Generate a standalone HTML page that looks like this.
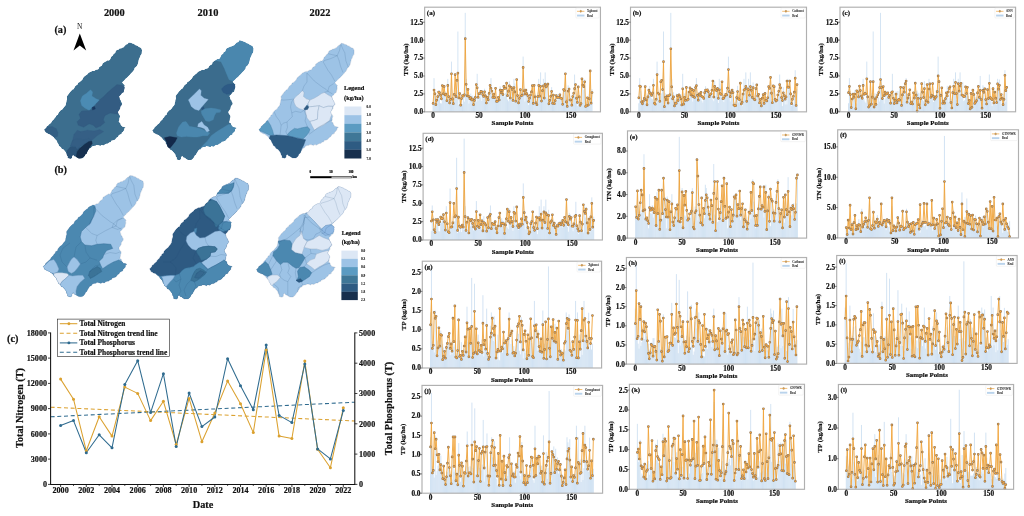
<!DOCTYPE html>
<html lang="en"><head><meta charset="utf-8"><title>Figure</title><style>
html,body{margin:0;padding:0;background:#fff}
svg{display:block}
text{font-family:"Liberation Serif",serif;font-weight:bold;fill:#111;stroke:#111;stroke-width:0.2px;stroke-linejoin:round}
.pt{font-size:7.3px}
.pl{font-size:6.9px}
.pn{font-size:7px}
.lg{font-size:3px;stroke-width:0.05px;fill:#333}
.ct{font-size:8.1px}
.cl{font-size:10.3px}
.cg{font-size:7.4px}
.ml{font-size:10.3px}
.yr{font-size:10.4px}
.lt{font-size:6.4px}
.lt2{font-size:5.9px}
.ll{font-size:3.4px;stroke-width:0.08px}
</style></head><body>
<svg width="1024" height="516" viewBox="0 0 1024 516">
<rect width="1024" height="516" fill="#fff"/>
<text x="114.3" y="15.6" text-anchor="middle" class="yr">2000</text>
<text x="208" y="15.6" text-anchor="middle" class="yr">2010</text>
<text x="320" y="15.6" text-anchor="middle" class="yr">2022</text>
<text x="54.4" y="32.6" class="ml">(a)</text>
<text x="54.4" y="173" class="ml">(b)</text>
<text x="79.7" y="29.1" text-anchor="middle" style="font-size:7.4px;font-weight:normal;stroke-width:0">N</text>
<polygon points="79.8,33.6 86.2,50.6 79.8,45.6 73.5,50.6" fill="#000"/>
<clipPath id="cp_a2000"><polygon points="128.6,42.5 131.0,42.8 132.5,43.6 133.7,43.8 135.7,45.2 137.0,45.5 138.7,46.8 139.2,47.1 141.2,47.9 142.0,50.0 141.9,52.0 141.7,53.9 140.5,55.5 140.3,56.6 139.2,58.7 138.8,59.8 138.5,61.5 137.8,64.2 137.0,65.7 136.0,67.0 134.6,68.0 134.4,69.6 132.9,71.5 132.0,72.5 131.2,73.3 129.7,75.0 128.7,76.0 127.0,77.8 125.7,78.7 124.2,80.4 122.6,81.9 122.2,82.5 123.5,84.0 124.9,85.2 124.4,86.3 124.6,88.0 124.0,90.6 123.6,92.2 122.0,93.0 120.8,94.7 120.2,95.3 119.0,96.5 119.6,98.0 119.8,99.6 120.8,100.4 121.5,102.3 122.1,102.9 122.1,104.5 121.3,105.5 120.3,106.7 120.1,108.6 119.2,110.1 118.1,111.5 118.0,112.6 118.5,113.7 119.8,115.3 120.1,116.7 119.4,118.5 119.4,119.8 118.7,122.1 120.2,122.7 120.8,124.8 121.4,125.5 122.3,126.5 124.2,127.0 125.8,127.6 124.4,128.4 124.2,130.3 122.8,131.9 121.8,132.7 121.6,133.9 120.1,134.4 118.9,135.2 118.1,136.7 116.6,137.7 116.0,138.4 115.0,139.7 112.7,140.6 111.4,140.7 110.7,142.2 109.2,142.5 107.7,143.8 106.6,143.8 104.9,144.4 103.8,145.5 101.5,145.0 100.4,145.9 98.4,145.2 96.4,144.9 95.8,145.7 93.6,145.9 92.1,146.5 91.0,148.1 89.5,148.6 88.5,150.1 87.2,152.3 86.8,153.4 85.1,154.8 84.9,155.8 83.4,157.7 82.1,158.5 80.4,158.6 78.7,158.5 76.9,157.6 76.0,156.8 74.2,156.2 73.3,154.7 72.1,156.0 72.0,157.9 70.5,158.8 67.8,158.1 67.9,156.5 66.9,155.2 66.5,153.4 65.3,151.8 64.1,150.2 63.1,149.3 61.6,148.8 60.9,147.2 59.0,145.9 58.3,144.1 57.2,142.5 57.0,141.2 56.2,140.3 54.6,138.8 53.6,137.1 52.8,136.4 51.5,135.6 50.2,134.4 48.4,133.9 46.7,133.0 45.4,132.3 45.1,131.2 44.1,129.6 44.9,129.1 46.3,127.6 46.5,126.6 48.1,125.5 48.8,124.6 50.0,123.7 51.2,122.6 51.8,121.4 52.9,120.1 54.0,119.3 54.4,118.2 55.9,116.8 56.3,115.4 57.9,114.7 58.4,113.0 59.0,112.2 60.4,110.6 62.1,109.4 63.0,108.5 64.2,106.7 65.1,105.9 65.8,104.6 66.0,103.1 66.3,102.1 66.5,100.4 67.1,98.9 66.8,96.4 67.8,95.0 68.8,93.7 70.0,92.0 70.8,91.3 72.4,89.6 73.4,89.2 74.4,87.7 74.9,86.4 76.3,85.3 77.5,84.5 78.2,82.8 79.7,82.1 80.8,81.1 82.0,80.0 82.7,79.1 83.5,77.3 84.9,76.1 86.3,75.0 87.1,74.6 88.6,72.8 90.1,72.1 91.2,71.5 92.4,70.9 94.0,70.9 95.8,69.8 97.4,69.6 98.5,68.9 99.3,67.1 100.6,66.3 102.0,65.4 102.5,63.5 103.9,62.6 105.5,61.5 105.8,61.5 107.6,60.3 108.9,60.6 110.0,59.4 110.7,58.0 111.4,56.4 113.1,55.2 113.4,54.0 115.1,53.1 115.8,51.0 116.8,49.9 118.7,49.4 119.4,48.6 121.5,48.3 122.0,47.7 123.6,47.2 124.4,46.2 126.0,44.6 127.7,44.1"/></clipPath>
<g clip-path="url(#cp_a2000)">
<polygon points="128.6,42.5 131.0,42.8 132.5,43.6 133.7,43.8 135.7,45.2 137.0,45.5 138.7,46.8 139.2,47.1 141.2,47.9 142.0,50.0 141.9,52.0 141.7,53.9 140.5,55.5 140.3,56.6 139.2,58.7 138.8,59.8 138.5,61.5 137.8,64.2 137.0,65.7 136.0,67.0 134.6,68.0 134.4,69.6 132.9,71.5 132.0,72.5 131.2,73.3 129.7,75.0 128.7,76.0 127.0,77.8 125.7,78.7 124.2,80.4 122.6,81.9 122.2,82.5 123.5,84.0 124.9,85.2 124.4,86.3 124.6,88.0 124.0,90.6 123.6,92.2 122.0,93.0 120.8,94.7 120.2,95.3 119.0,96.5 119.6,98.0 119.8,99.6 120.8,100.4 121.5,102.3 122.1,102.9 122.1,104.5 121.3,105.5 120.3,106.7 120.1,108.6 119.2,110.1 118.1,111.5 118.0,112.6 118.5,113.7 119.8,115.3 120.1,116.7 119.4,118.5 119.4,119.8 118.7,122.1 120.2,122.7 120.8,124.8 121.4,125.5 122.3,126.5 124.2,127.0 125.8,127.6 124.4,128.4 124.2,130.3 122.8,131.9 121.8,132.7 121.6,133.9 120.1,134.4 118.9,135.2 118.1,136.7 116.6,137.7 116.0,138.4 115.0,139.7 112.7,140.6 111.4,140.7 110.7,142.2 109.2,142.5 107.7,143.8 106.6,143.8 104.9,144.4 103.8,145.5 101.5,145.0 100.4,145.9 98.4,145.2 96.4,144.9 95.8,145.7 93.6,145.9 92.1,146.5 91.0,148.1 89.5,148.6 88.5,150.1 87.2,152.3 86.8,153.4 85.1,154.8 84.9,155.8 83.4,157.7 82.1,158.5 80.4,158.6 78.7,158.5 76.9,157.6 76.0,156.8 74.2,156.2 73.3,154.7 72.1,156.0 72.0,157.9 70.5,158.8 67.8,158.1 67.9,156.5 66.9,155.2 66.5,153.4 65.3,151.8 64.1,150.2 63.1,149.3 61.6,148.8 60.9,147.2 59.0,145.9 58.3,144.1 57.2,142.5 57.0,141.2 56.2,140.3 54.6,138.8 53.6,137.1 52.8,136.4 51.5,135.6 50.2,134.4 48.4,133.9 46.7,133.0 45.4,132.3 45.1,131.2 44.1,129.6 44.9,129.1 46.3,127.6 46.5,126.6 48.1,125.5 48.8,124.6 50.0,123.7 51.2,122.6 51.8,121.4 52.9,120.1 54.0,119.3 54.4,118.2 55.9,116.8 56.3,115.4 57.9,114.7 58.4,113.0 59.0,112.2 60.4,110.6 62.1,109.4 63.0,108.5 64.2,106.7 65.1,105.9 65.8,104.6 66.0,103.1 66.3,102.1 66.5,100.4 67.1,98.9 66.8,96.4 67.8,95.0 68.8,93.7 70.0,92.0 70.8,91.3 72.4,89.6 73.4,89.2 74.4,87.7 74.9,86.4 76.3,85.3 77.5,84.5 78.2,82.8 79.7,82.1 80.8,81.1 82.0,80.0 82.7,79.1 83.5,77.3 84.9,76.1 86.3,75.0 87.1,74.6 88.6,72.8 90.1,72.1 91.2,71.5 92.4,70.9 94.0,70.9 95.8,69.8 97.4,69.6 98.5,68.9 99.3,67.1 100.6,66.3 102.0,65.4 102.5,63.5 103.9,62.6 105.5,61.5 105.8,61.5 107.6,60.3 108.9,60.6 110.0,59.4 110.7,58.0 111.4,56.4 113.1,55.2 113.4,54.0 115.1,53.1 115.8,51.0 116.8,49.9 118.7,49.4 119.4,48.6 121.5,48.3 122.0,47.7 123.6,47.2 124.4,46.2 126.0,44.6 127.7,44.1" fill="#3c6e8e"/>
<polygon points="121.7,85.2 117.0,84.5 112.2,88.6 107.5,92.6 103.4,96.7 99.3,100.1 96.0,103.5 94.6,108.9 89.2,110.5 81.7,111.0 79.0,114.3 80.4,118.4 77.0,121.8 78.3,125.2 83.7,127.2 89.2,123.8 93.2,125.2 96.0,127.9 100.7,125.9 104.8,122.5 103.4,119.8 104.8,115.7 110.2,113.0 114.3,113.7 118.3,114.3 120.4,112.3 123.8,108.9 119.7,102.1 123.8,92.6 125.1,87.2" fill="#335c82" stroke="#335c82" stroke-width="0.3"/>
<polygon points="90.5,89.7 92.6,92.0 91.9,96.0 96.0,98.7 99.3,100.1 96.0,103.5 92.6,106.9 89.2,110.3 85.1,108.2 81.7,105.5 80.4,100.8 82.4,96.0 86.5,93.3" fill="#4b8bb3" stroke="#4b8bb3" stroke-width="0.3"/>
<polygon points="91.9,107.6 94.6,106.2 95.3,108.9 92.6,110.0" fill="#1a3860" stroke="#1a3860" stroke-width="0.3"/>
<polygon points="44.1,130.0 47.6,127.1 52.2,126.5 56.3,128.8 58.0,132.9 57.4,136.4 54.0,137.6 50.5,134.7 45.8,131.7" fill="#335f84" stroke="#335f84" stroke-width="0.3"/>
<polygon points="67.3,157.9 66.2,153.8 67.3,150.3 70.2,146.9 74.9,145.1 78.4,145.7 80.1,148.0 77.2,151.5 76.0,156.2 73.7,156.2 70.8,159.1" fill="#2c5479" stroke="#2c5479" stroke-width="0.3"/>
<polygon points="73.9,134.4 72.6,140.5 70.5,145.9 75.3,146.6 80.7,145.9 86.2,142.5 91.6,140.5 97.0,135.7 103.8,131.6 99.7,129.6 94.3,131.0 87.5,130.3 80.7,131.6 77.3,130.3" fill="#355f85" stroke="#355f85" stroke-width="0.3"/>
<polygon points="70.5,145.9 72.6,140.5 78.0,138.4 83.4,139.8 88.9,138.4 91.6,140.5 86.2,142.5 80.7,145.9 77.3,149.3 75.3,146.6" fill="#345e84" stroke="#345e84" stroke-width="0.3"/>
<polygon points="76.0,156.2 77.2,151.5 80.1,148.0 84.2,144.5 88.8,141.6 91.7,141.0 92.3,143.4 90.0,146.9 87.7,150.9 86.5,155.0 83.0,157.3 78.4,159.7 76.0,159.1" fill="#16304f" stroke="#16304f" stroke-width="0.3"/>
</g>
<clipPath id="cp_a2010"><polygon points="239.4,40.6 241.9,40.9 243.4,41.7 244.7,41.9 246.8,43.4 248.1,43.7 249.8,45.0 250.4,45.3 252.4,46.2 253.3,48.3 253.2,50.4 253.0,52.4 251.7,54.0 251.5,55.1 250.4,57.3 250.0,58.4 249.6,60.1 248.9,62.9 248.0,64.4 247.1,65.8 245.6,66.8 245.4,68.5 243.9,70.5 242.9,71.4 242.1,72.3 240.6,74.0 239.5,75.0 237.8,76.9 236.5,77.8 234.9,79.6 233.2,81.1 232.8,81.7 234.1,83.3 235.6,84.5 235.1,85.6 235.3,87.4 234.7,90.1 234.2,91.7 232.6,92.5 231.4,94.3 230.7,94.9 229.5,96.1 230.2,97.7 230.4,99.3 231.4,100.1 232.0,102.1 232.7,102.7 232.7,104.3 231.8,105.3 230.9,106.6 230.6,108.6 229.7,110.1 228.6,111.5 228.5,112.7 229.0,113.8 230.3,115.5 230.6,116.9 229.9,118.7 229.9,120.0 229.2,122.4 230.7,123.0 231.4,125.2 232.0,125.9 232.9,127.0 234.8,127.5 236.5,128.1 235.1,128.9 234.9,130.9 233.4,132.5 232.4,133.3 232.2,134.6 230.6,135.1 229.4,135.9 228.5,137.5 227.0,138.5 226.4,139.2 225.4,140.5 223.0,141.4 221.7,141.5 220.9,143.1 219.4,143.4 217.8,144.7 216.6,144.7 215.0,145.3 213.8,146.5 211.4,146.0 210.3,146.9 208.2,146.2 206.1,145.9 205.5,146.7 203.3,146.9 201.7,147.5 200.6,149.2 199.0,149.7 198.0,151.2 196.6,153.5 196.2,154.6 194.5,156.1 194.3,157.1 192.7,159.0 191.4,159.9 189.6,160.0 187.9,159.9 186.0,158.9 185.1,158.1 183.3,157.5 182.3,156.0 181.1,157.3 181.0,159.2 179.4,160.2 176.6,159.5 176.8,157.8 175.7,156.5 175.3,154.6 174.1,153.0 172.8,151.4 171.8,150.4 170.2,149.8 169.5,148.2 167.5,146.9 166.8,145.1 165.6,143.4 165.5,142.1 164.6,141.1 162.9,139.6 161.9,137.9 161.1,137.2 159.8,136.3 158.4,135.1 156.6,134.6 154.9,133.6 153.5,132.9 153.1,131.8 152.1,130.2 152.9,129.7 154.4,128.1 154.6,127.1 156.3,125.9 156.9,125.0 158.2,124.1 159.4,123.0 160.0,121.7 161.2,120.4 162.4,119.6 162.8,118.4 164.3,117.0 164.7,115.6 166.4,114.9 166.9,113.1 167.5,112.3 169.0,110.6 170.7,109.4 171.6,108.5 172.9,106.6 173.8,105.8 174.5,104.5 174.7,102.9 175.1,101.9 175.3,100.1 175.9,98.6 175.6,96.0 176.6,94.6 177.7,93.2 178.9,91.5 179.7,90.8 181.4,89.0 182.4,88.6 183.4,87.1 184.0,85.7 185.3,84.6 186.6,83.8 187.4,82.0 188.9,81.3 190.0,80.3 191.3,79.1 192.0,78.3 192.8,76.4 194.3,75.2 195.7,74.0 196.5,73.6 198.1,71.8 199.6,71.0 200.8,70.4 202.0,69.8 203.7,69.9 205.6,68.7 207.1,68.4 208.3,67.7 209.2,65.9 210.5,65.0 212.0,64.2 212.5,62.2 213.9,61.3 215.5,60.2 215.8,60.2 217.8,58.9 219.1,59.2 220.2,58.0 220.9,56.5 221.6,54.9 223.4,53.7 223.7,52.4 225.5,51.5 226.2,49.3 227.2,48.2 229.2,47.6 229.9,46.9 232.0,46.5 232.6,46.0 234.3,45.4 235.1,44.4 236.8,42.8 238.5,42.2"/></clipPath>
<g clip-path="url(#cp_a2010)">
<polygon points="239.4,40.6 241.9,40.9 243.4,41.7 244.7,41.9 246.8,43.4 248.1,43.7 249.8,45.0 250.4,45.3 252.4,46.2 253.3,48.3 253.2,50.4 253.0,52.4 251.7,54.0 251.5,55.1 250.4,57.3 250.0,58.4 249.6,60.1 248.9,62.9 248.0,64.4 247.1,65.8 245.6,66.8 245.4,68.5 243.9,70.5 242.9,71.4 242.1,72.3 240.6,74.0 239.5,75.0 237.8,76.9 236.5,77.8 234.9,79.6 233.2,81.1 232.8,81.7 234.1,83.3 235.6,84.5 235.1,85.6 235.3,87.4 234.7,90.1 234.2,91.7 232.6,92.5 231.4,94.3 230.7,94.9 229.5,96.1 230.2,97.7 230.4,99.3 231.4,100.1 232.0,102.1 232.7,102.7 232.7,104.3 231.8,105.3 230.9,106.6 230.6,108.6 229.7,110.1 228.6,111.5 228.5,112.7 229.0,113.8 230.3,115.5 230.6,116.9 229.9,118.7 229.9,120.0 229.2,122.4 230.7,123.0 231.4,125.2 232.0,125.9 232.9,127.0 234.8,127.5 236.5,128.1 235.1,128.9 234.9,130.9 233.4,132.5 232.4,133.3 232.2,134.6 230.6,135.1 229.4,135.9 228.5,137.5 227.0,138.5 226.4,139.2 225.4,140.5 223.0,141.4 221.7,141.5 220.9,143.1 219.4,143.4 217.8,144.7 216.6,144.7 215.0,145.3 213.8,146.5 211.4,146.0 210.3,146.9 208.2,146.2 206.1,145.9 205.5,146.7 203.3,146.9 201.7,147.5 200.6,149.2 199.0,149.7 198.0,151.2 196.6,153.5 196.2,154.6 194.5,156.1 194.3,157.1 192.7,159.0 191.4,159.9 189.6,160.0 187.9,159.9 186.0,158.9 185.1,158.1 183.3,157.5 182.3,156.0 181.1,157.3 181.0,159.2 179.4,160.2 176.6,159.5 176.8,157.8 175.7,156.5 175.3,154.6 174.1,153.0 172.8,151.4 171.8,150.4 170.2,149.8 169.5,148.2 167.5,146.9 166.8,145.1 165.6,143.4 165.5,142.1 164.6,141.1 162.9,139.6 161.9,137.9 161.1,137.2 159.8,136.3 158.4,135.1 156.6,134.6 154.9,133.6 153.5,132.9 153.1,131.8 152.1,130.2 152.9,129.7 154.4,128.1 154.6,127.1 156.3,125.9 156.9,125.0 158.2,124.1 159.4,123.0 160.0,121.7 161.2,120.4 162.4,119.6 162.8,118.4 164.3,117.0 164.7,115.6 166.4,114.9 166.9,113.1 167.5,112.3 169.0,110.6 170.7,109.4 171.6,108.5 172.9,106.6 173.8,105.8 174.5,104.5 174.7,102.9 175.1,101.9 175.3,100.1 175.9,98.6 175.6,96.0 176.6,94.6 177.7,93.2 178.9,91.5 179.7,90.8 181.4,89.0 182.4,88.6 183.4,87.1 184.0,85.7 185.3,84.6 186.6,83.8 187.4,82.0 188.9,81.3 190.0,80.3 191.3,79.1 192.0,78.3 192.8,76.4 194.3,75.2 195.7,74.0 196.5,73.6 198.1,71.8 199.6,71.0 200.8,70.4 202.0,69.8 203.7,69.9 205.6,68.7 207.1,68.4 208.3,67.7 209.2,65.9 210.5,65.0 212.0,64.2 212.5,62.2 213.9,61.3 215.5,60.2 215.8,60.2 217.8,58.9 219.1,59.2 220.2,58.0 220.9,56.5 221.6,54.9 223.4,53.7 223.7,52.4 225.5,51.5 226.2,49.3 227.2,48.2 229.2,47.6 229.9,46.9 232.0,46.5 232.6,46.0 234.3,45.4 235.1,44.4 236.8,42.8 238.5,42.2" fill="#3b6c8d"/>
<polygon points="213.4,60.0 221.0,61.7 224.5,68.7 226.8,74.5 229.1,79.8 234.4,81.5 262.0,72.0 262.0,33.0 230.0,33.0 205.0,55.0" fill="#4a87ae" stroke="#4a87ae" stroke-width="0.3"/>
<polygon points="221.5,89.0 224.4,86.0 227.9,84.3 233.7,83.7 236.0,86.6 233.1,90.1 230.8,93.6 226.7,94.2 223.2,92.4" fill="#2d5a85" stroke="#2d5a85" stroke-width="0.3"/>
<polygon points="199.5,89.0 201.2,90.7 200.7,95.3 204.1,98.3 208.2,99.4 204.7,103.5 201.2,107.6 198.9,110.5 194.8,109.3 191.3,106.4 189.6,102.3 188.4,100.0 191.3,97.1 194.3,94.2 197.2,91.3" fill="#9dc3e6" stroke="#9dc3e6" stroke-width="0.3"/>
<polygon points="201.4,108.2 203.6,106.6 204.2,108.8 202.2,110.0" fill="#2a5580" stroke="#2a5580" stroke-width="0.3"/>
<polygon points="201.1,111.0 205.2,108.7 211.0,108.1 216.2,108.7 220.9,109.9 220.3,112.2 216.2,112.8 214.5,115.7 213.3,119.8 209.3,121.5 205.8,120.9 203.4,116.9 201.7,114.0" fill="#4a87ae" stroke="#4a87ae" stroke-width="0.3"/>
<polygon points="176.5,133.0 178.6,126.9 182.6,122.1 186.0,121.5 189.4,126.2 196.2,127.6 201.7,128.9 205.7,131.0 209.8,133.0 207.8,135.7 203.0,135.7 197.6,137.1 192.2,137.1 186.7,136.4 181.3,137.1 177.2,135.7" fill="#4a87ae" stroke="#4a87ae" stroke-width="0.3"/>
<polygon points="199.6,149.3 203.0,145.2 207.1,141.2 211.2,135.7 216.6,131.7 223.4,127.6 228.8,124.2 240.0,126.0 240.0,134.0 227.4,140.0 222.0,144.0 216.6,147.0 209.8,150.0 204.4,152.0" fill="#4a87ae" stroke="#4a87ae" stroke-width="0.3"/>
<polygon points="198.3,123.8 201.8,121.5 204.1,125.0 207.6,127.3 209.4,130.8 207.0,132.0 204.1,128.5 200.7,127.3 197.7,126.7" fill="#9dc3e6" stroke="#9dc3e6" stroke-width="0.3"/>
<polygon points="164.3,137.8 169.8,136.4 177.2,137.8 175.2,141.8 171.8,145.9 169.1,149.3 167.7,147.3 166.4,141.8" fill="#13294a" stroke="#13294a" stroke-width="0.3"/>
</g>
<clipPath id="cp_a2022"><polygon points="341.1,43.3 343.4,43.6 344.9,44.4 346.1,44.6 348.0,45.9 349.3,46.2 350.9,47.5 351.5,47.8 353.4,48.6 354.1,50.7 354.0,52.7 353.9,54.6 352.7,56.1 352.5,57.3 351.4,59.3 351.0,60.4 350.7,62.1 350.1,64.7 349.2,66.2 348.3,67.5 347.0,68.5 346.7,70.1 345.3,72.0 344.4,72.9 343.6,73.8 342.2,75.4 341.2,76.4 339.5,78.2 338.3,79.0 336.8,80.7 335.3,82.2 334.9,82.8 336.1,84.3 337.5,85.5 337.0,86.5 337.2,88.3 336.6,90.8 336.2,92.5 334.7,93.2 333.6,94.9 332.9,95.5 331.8,96.7 332.4,98.2 332.6,99.8 333.5,100.5 334.2,102.4 334.8,103.0 334.8,104.6 334.0,105.5 333.1,106.8 332.8,108.6 331.9,110.1 330.9,111.5 330.8,112.6 331.3,113.7 332.5,115.3 332.8,116.6 332.2,118.4 332.2,119.7 331.5,122.0 332.9,122.5 333.5,124.6 334.1,125.3 335.0,126.4 336.8,126.8 338.4,127.4 337.0,128.2 336.8,130.1 335.5,131.6 334.5,132.4 334.3,133.6 332.8,134.1 331.7,134.9 330.9,136.4 329.4,137.4 328.8,138.1 327.9,139.3 325.7,140.2 324.4,140.3 323.7,141.8 322.2,142.1 320.7,143.4 319.7,143.4 318.1,144.0 317.0,145.1 314.7,144.6 313.7,145.5 311.7,144.8 309.8,144.5 309.2,145.3 307.0,145.5 305.6,146.1 304.5,147.7 303.1,148.2 302.1,149.7 300.8,151.8 300.4,152.9 298.8,154.3 298.6,155.3 297.1,157.2 295.9,158.0 294.2,158.0 292.6,158.0 290.8,157.0 289.9,156.3 288.2,155.6 287.3,154.2 286.1,155.5 286.1,157.3 284.6,158.2 281.9,157.6 282.1,156.0 281.1,154.7 280.7,152.9 279.6,151.3 278.4,149.8 277.4,148.9 275.9,148.3 275.3,146.8 273.4,145.5 272.7,143.8 271.6,142.1 271.4,140.9 270.7,139.9 269.1,138.5 268.1,136.8 267.3,136.1 266.1,135.3 264.8,134.1 263.1,133.7 261.5,132.7 260.2,132.1 259.8,130.9 258.9,129.4 259.6,128.9 261.0,127.5 261.2,126.4 262.8,125.3 263.4,124.5 264.6,123.6 265.8,122.5 266.3,121.2 267.4,120.0 268.6,119.2 268.9,118.1 270.4,116.7 270.8,115.3 272.3,114.7 272.8,113.0 273.4,112.2 274.7,110.6 276.4,109.4 277.3,108.5 278.4,106.7 279.3,106.0 280.0,104.7 280.2,103.1 280.5,102.2 280.7,100.5 281.3,99.0 281.0,96.6 281.9,95.2 282.9,93.9 284.1,92.2 284.9,91.5 286.4,89.8 287.4,89.4 288.4,88.0 288.9,86.7 290.2,85.6 291.4,84.8 292.1,83.1 293.5,82.4 294.6,81.4 295.8,80.3 296.4,79.5 297.2,77.7 298.6,76.5 299.9,75.4 300.7,75.0 302.2,73.2 303.6,72.5 304.7,72.0 305.9,71.4 307.5,71.4 309.2,70.3 310.7,70.0 311.8,69.4 312.6,67.6 313.9,66.8 315.3,65.9 315.7,64.0 317.1,63.2 318.6,62.1 318.9,62.1 320.7,60.9 321.9,61.1 323.0,60.0 323.7,58.6 324.3,57.1 326.0,55.8 326.3,54.7 328.0,53.8 328.6,51.7 329.6,50.6 331.5,50.1 332.2,49.3 334.2,49.0 334.7,48.4 336.2,47.9 337.0,46.9 338.6,45.4 340.2,44.8"/></clipPath>
<g clip-path="url(#cp_a2022)">
<polygon points="341.1,43.3 343.4,43.6 344.9,44.4 346.1,44.6 348.0,45.9 349.3,46.2 350.9,47.5 351.5,47.8 353.4,48.6 354.1,50.7 354.0,52.7 353.9,54.6 352.7,56.1 352.5,57.3 351.4,59.3 351.0,60.4 350.7,62.1 350.1,64.7 349.2,66.2 348.3,67.5 347.0,68.5 346.7,70.1 345.3,72.0 344.4,72.9 343.6,73.8 342.2,75.4 341.2,76.4 339.5,78.2 338.3,79.0 336.8,80.7 335.3,82.2 334.9,82.8 336.1,84.3 337.5,85.5 337.0,86.5 337.2,88.3 336.6,90.8 336.2,92.5 334.7,93.2 333.6,94.9 332.9,95.5 331.8,96.7 332.4,98.2 332.6,99.8 333.5,100.5 334.2,102.4 334.8,103.0 334.8,104.6 334.0,105.5 333.1,106.8 332.8,108.6 331.9,110.1 330.9,111.5 330.8,112.6 331.3,113.7 332.5,115.3 332.8,116.6 332.2,118.4 332.2,119.7 331.5,122.0 332.9,122.5 333.5,124.6 334.1,125.3 335.0,126.4 336.8,126.8 338.4,127.4 337.0,128.2 336.8,130.1 335.5,131.6 334.5,132.4 334.3,133.6 332.8,134.1 331.7,134.9 330.9,136.4 329.4,137.4 328.8,138.1 327.9,139.3 325.7,140.2 324.4,140.3 323.7,141.8 322.2,142.1 320.7,143.4 319.7,143.4 318.1,144.0 317.0,145.1 314.7,144.6 313.7,145.5 311.7,144.8 309.8,144.5 309.2,145.3 307.0,145.5 305.6,146.1 304.5,147.7 303.1,148.2 302.1,149.7 300.8,151.8 300.4,152.9 298.8,154.3 298.6,155.3 297.1,157.2 295.9,158.0 294.2,158.0 292.6,158.0 290.8,157.0 289.9,156.3 288.2,155.6 287.3,154.2 286.1,155.5 286.1,157.3 284.6,158.2 281.9,157.6 282.1,156.0 281.1,154.7 280.7,152.9 279.6,151.3 278.4,149.8 277.4,148.9 275.9,148.3 275.3,146.8 273.4,145.5 272.7,143.8 271.6,142.1 271.4,140.9 270.7,139.9 269.1,138.5 268.1,136.8 267.3,136.1 266.1,135.3 264.8,134.1 263.1,133.7 261.5,132.7 260.2,132.1 259.8,130.9 258.9,129.4 259.6,128.9 261.0,127.5 261.2,126.4 262.8,125.3 263.4,124.5 264.6,123.6 265.8,122.5 266.3,121.2 267.4,120.0 268.6,119.2 268.9,118.1 270.4,116.7 270.8,115.3 272.3,114.7 272.8,113.0 273.4,112.2 274.7,110.6 276.4,109.4 277.3,108.5 278.4,106.7 279.3,106.0 280.0,104.7 280.2,103.1 280.5,102.2 280.7,100.5 281.3,99.0 281.0,96.6 281.9,95.2 282.9,93.9 284.1,92.2 284.9,91.5 286.4,89.8 287.4,89.4 288.4,88.0 288.9,86.7 290.2,85.6 291.4,84.8 292.1,83.1 293.5,82.4 294.6,81.4 295.8,80.3 296.4,79.5 297.2,77.7 298.6,76.5 299.9,75.4 300.7,75.0 302.2,73.2 303.6,72.5 304.7,72.0 305.9,71.4 307.5,71.4 309.2,70.3 310.7,70.0 311.8,69.4 312.6,67.6 313.9,66.8 315.3,65.9 315.7,64.0 317.1,63.2 318.6,62.1 318.9,62.1 320.7,60.9 321.9,61.1 323.0,60.0 323.7,58.6 324.3,57.1 326.0,55.8 326.3,54.7 328.0,53.8 328.6,51.7 329.6,50.6 331.5,50.1 332.2,49.3 334.2,49.0 334.7,48.4 336.2,47.9 337.0,46.9 338.6,45.4 340.2,44.8" fill="#9dc3e6"/>
<polygon points="302.3,90.7 304.1,92.4 303.5,96.5 306.4,98.8 309.9,100.0 308.1,103.5 305.8,107.0 303.5,109.9 299.4,108.7 295.9,106.4 294.2,102.9 293.6,99.4 295.9,96.5 298.8,94.2" fill="#dce7f5" stroke="#dce7f5" stroke-width="0.3"/>
<polygon points="302.3,90.7 304.1,92.4 303.5,96.5 306.4,98.8 309.9,100.0 308.1,103.5 305.8,107.0 303.5,109.9 299.4,108.7 295.9,106.4 294.2,102.9 293.6,99.4 295.9,96.5 298.8,94.2" fill="none" stroke="#1f4470" stroke-opacity="0.26" stroke-width="0.55" stroke-linejoin="round"/>
<polygon points="309.9,100.0 314.0,98.3 318.0,95.9 321.5,93.6 324.4,92.4 327.9,94.8 332.0,97.1 334.9,100.0 335.5,103.5 333.1,106.4 328.0,106.2 323.5,107.6 319.2,105.8 313.4,106.4 308.7,107.0 308.1,103.5" fill="#dce7f5" stroke="#dce7f5" stroke-width="0.3"/>
<polygon points="309.9,100.0 314.0,98.3 318.0,95.9 321.5,93.6 324.4,92.4 327.9,94.8 332.0,97.1 334.9,100.0 335.5,103.5 333.1,106.4 328.0,106.2 323.5,107.6 319.2,105.8 313.4,106.4 308.7,107.0 308.1,103.5" fill="none" stroke="#1f4470" stroke-opacity="0.26" stroke-width="0.55" stroke-linejoin="round"/>
<polygon points="308.7,107.0 313.4,106.4 319.2,105.8 318.0,111.0 317.4,119.2 314.5,120.3 309.9,121.5 307.0,118.0 305.8,113.4 305.2,109.9 307.6,109.3" fill="#dce7f5" stroke="#dce7f5" stroke-width="0.3"/>
<polygon points="308.7,107.0 313.4,106.4 319.2,105.8 318.0,111.0 317.4,119.2 314.5,120.3 309.9,121.5 307.0,118.0 305.8,113.4 305.2,109.9 307.6,109.3" fill="none" stroke="#1f4470" stroke-opacity="0.26" stroke-width="0.55" stroke-linejoin="round"/>
<polygon points="319.2,105.8 323.5,107.6 328.0,106.2 333.1,106.4 332.0,109.9 332.6,113.4 330.8,116.9 329.7,120.3 326.7,122.7 323.8,125.0 320.3,126.7 316.9,128.5 314.5,130.2 312.8,127.3 309.9,121.5 314.5,120.3 317.4,119.2 318.0,111.0" fill="#dce7f5" stroke="#dce7f5" stroke-width="0.3"/>
<polygon points="319.2,105.8 323.5,107.6 328.0,106.2 333.1,106.4 332.0,109.9 332.6,113.4 330.8,116.9 329.7,120.3 326.7,122.7 323.8,125.0 320.3,126.7 316.9,128.5 314.5,130.2 312.8,127.3 309.9,121.5 314.5,120.3 317.4,119.2 318.0,111.0" fill="none" stroke="#1f4470" stroke-opacity="0.26" stroke-width="0.55" stroke-linejoin="round"/>
<polygon points="304.1,108.7 307.0,105.2 308.7,107.0 307.6,109.3 304.7,109.9" fill="#2e5b82" stroke="#2e5b82" stroke-width="0.3"/>
<polygon points="304.1,108.7 307.0,105.2 308.7,107.0 307.6,109.3 304.7,109.9" fill="none" stroke="#1f4470" stroke-opacity="0.26" stroke-width="0.55" stroke-linejoin="round"/>
<polygon points="256.0,129.4 261.4,126.2 265.1,122.0 267.8,120.9 270.5,125.2 272.6,130.5 273.7,134.8 271.0,135.8 266.7,133.7 261.9,131.6" fill="#5b9bc2" stroke="#5b9bc2" stroke-width="0.3"/>
<polygon points="256.0,129.4 261.4,126.2 265.1,122.0 267.8,120.9 270.5,125.2 272.6,130.5 273.7,134.8 271.0,135.8 266.7,133.7 261.9,131.6" fill="none" stroke="#1f4470" stroke-opacity="0.26" stroke-width="0.55" stroke-linejoin="round"/>
<polygon points="287.5,134.2 290.2,131.6 294.4,128.4 297.6,128.9 301.9,127.8 307.2,126.8 309.9,129.4 308.8,132.6 306.2,135.8 303.0,139.0 297.6,138.0 292.3,136.9 288.0,135.8" fill="#5b9bc2" stroke="#5b9bc2" stroke-width="0.3"/>
<polygon points="287.5,134.2 290.2,131.6 294.4,128.4 297.6,128.9 301.9,127.8 307.2,126.8 309.9,129.4 308.8,132.6 306.2,135.8 303.0,139.0 297.6,138.0 292.3,136.9 288.0,135.8" fill="none" stroke="#1f4470" stroke-opacity="0.26" stroke-width="0.55" stroke-linejoin="round"/>
<polygon points="270.3,135.7 276.4,135.0 287.3,135.7 292.7,137.1 298.2,138.4 305.6,139.8 303.6,145.2 301.5,149.3 300.5,156.0 295.4,158.0 291.4,160.0 287.3,160.0 283.9,161.0 279.0,158.0 277.0,152.0 270.0,149.0 268.0,141.2" fill="#2e5b82" stroke="#2e5b82" stroke-width="0.3"/>
<polygon points="270.3,135.7 276.4,135.0 287.3,135.7 292.7,137.1 298.2,138.4 305.6,139.8 303.6,145.2 301.5,149.3 300.5,156.0 295.4,158.0 291.4,160.0 287.3,160.0 283.9,161.0 279.0,158.0 277.0,152.0 270.0,149.0 268.0,141.2" fill="none" stroke="#1f4470" stroke-opacity="0.26" stroke-width="0.55" stroke-linejoin="round"/>
<polyline points="279.5,99.6 283.8,100.1 289.1,99.6 293.9,99.1" fill="none" stroke="#1f4470" stroke-opacity="0.26" stroke-width="0.55"/>
<polyline points="274.2,111.8 276.3,116.6 279.5,120.9 281.1,125.2 280.6,130.5 280.0,134.8" fill="none" stroke="#1f4470" stroke-opacity="0.26" stroke-width="0.55"/>
<polyline points="291.8,112.9 292.3,116.6 289.1,119.8 287.0,122.0 283.8,123.0 281.1,125.2" fill="none" stroke="#1f4470" stroke-opacity="0.26" stroke-width="0.55"/>
<polyline points="287.0,122.0 287.5,127.3 285.9,131.6 287.0,134.8" fill="none" stroke="#1f4470" stroke-opacity="0.26" stroke-width="0.55"/>
<polyline points="291.8,112.9 295.5,111.3 300.8,112.4 304.0,110.3" fill="none" stroke="#1f4470" stroke-opacity="0.26" stroke-width="0.55"/>
<polyline points="304.0,110.3 306.2,115.6 305.1,120.9 307.2,126.2 309.4,128.9" fill="none" stroke="#1f4470" stroke-opacity="0.26" stroke-width="0.55"/>
<polyline points="291.8,112.9 290.5,107.0 291.5,102.0 293.6,99.4" fill="none" stroke="#1f4470" stroke-opacity="0.26" stroke-width="0.55"/>
<polyline points="327.3,53.4 331.4,54.5 337.2,55.7" fill="none" stroke="#1f4470" stroke-opacity="0.26" stroke-width="0.55"/>
<polyline points="340.7,43.5 339.5,50.5 337.2,55.7" fill="none" stroke="#1f4470" stroke-opacity="0.26" stroke-width="0.55"/>
<polyline points="340.7,43.5 342.4,48.1 344.8,52.8 345.9,60.9 348.3,67.3" fill="none" stroke="#1f4470" stroke-opacity="0.26" stroke-width="0.55"/>
<polyline points="337.2,55.7 339.0,60.3 340.7,66.7 343.0,72.6" fill="none" stroke="#1f4470" stroke-opacity="0.26" stroke-width="0.55"/>
<polyline points="337.2,55.7 331.0,58.5 324.4,60.5 323.3,62.1 327.9,70.2 331.4,74.9 334.9,81.3" fill="none" stroke="#1f4470" stroke-opacity="0.26" stroke-width="0.55"/>
<polyline points="306.9,73.0 314.4,81.1 322.5,87.2 325.9,89.2 328.0,91.5" fill="none" stroke="#1f4470" stroke-opacity="0.26" stroke-width="0.55"/>
<polyline points="333.7,83.6 329.1,86.5 327.9,91.2 332.6,94.1" fill="none" stroke="#1f4470" stroke-opacity="0.26" stroke-width="0.55"/>
<polyline points="327.9,91.2 324.4,92.4" fill="none" stroke="#1f4470" stroke-opacity="0.26" stroke-width="0.55"/>
<polyline points="302.3,90.7 304.0,86.0 307.0,82.0 306.9,73.0" fill="none" stroke="#1f4470" stroke-opacity="0.26" stroke-width="0.55"/>
<polyline points="309.0,134.4 313.0,131.5 318.0,127.5 325.0,123.5 331.0,120.5 336.0,118.5" fill="none" stroke="#1f4470" stroke-opacity="0.26" stroke-width="0.55"/>
</g>
<polygon points="341.1,43.3 343.4,43.6 344.9,44.4 346.1,44.6 348.0,45.9 349.3,46.2 350.9,47.5 351.5,47.8 353.4,48.6 354.1,50.7 354.0,52.7 353.9,54.6 352.7,56.1 352.5,57.3 351.4,59.3 351.0,60.4 350.7,62.1 350.1,64.7 349.2,66.2 348.3,67.5 347.0,68.5 346.7,70.1 345.3,72.0 344.4,72.9 343.6,73.8 342.2,75.4 341.2,76.4 339.5,78.2 338.3,79.0 336.8,80.7 335.3,82.2 334.9,82.8 336.1,84.3 337.5,85.5 337.0,86.5 337.2,88.3 336.6,90.8 336.2,92.5 334.7,93.2 333.6,94.9 332.9,95.5 331.8,96.7 332.4,98.2 332.6,99.8 333.5,100.5 334.2,102.4 334.8,103.0 334.8,104.6 334.0,105.5 333.1,106.8 332.8,108.6 331.9,110.1 330.9,111.5 330.8,112.6 331.3,113.7 332.5,115.3 332.8,116.6 332.2,118.4 332.2,119.7 331.5,122.0 332.9,122.5 333.5,124.6 334.1,125.3 335.0,126.4 336.8,126.8 338.4,127.4 337.0,128.2 336.8,130.1 335.5,131.6 334.5,132.4 334.3,133.6 332.8,134.1 331.7,134.9 330.9,136.4 329.4,137.4 328.8,138.1 327.9,139.3 325.7,140.2 324.4,140.3 323.7,141.8 322.2,142.1 320.7,143.4 319.7,143.4 318.1,144.0 317.0,145.1 314.7,144.6 313.7,145.5 311.7,144.8 309.8,144.5 309.2,145.3 307.0,145.5 305.6,146.1 304.5,147.7 303.1,148.2 302.1,149.7 300.8,151.8 300.4,152.9 298.8,154.3 298.6,155.3 297.1,157.2 295.9,158.0 294.2,158.0 292.6,158.0 290.8,157.0 289.9,156.3 288.2,155.6 287.3,154.2 286.1,155.5 286.1,157.3 284.6,158.2 281.9,157.6 282.1,156.0 281.1,154.7 280.7,152.9 279.6,151.3 278.4,149.8 277.4,148.9 275.9,148.3 275.3,146.8 273.4,145.5 272.7,143.8 271.6,142.1 271.4,140.9 270.7,139.9 269.1,138.5 268.1,136.8 267.3,136.1 266.1,135.3 264.8,134.1 263.1,133.7 261.5,132.7 260.2,132.1 259.8,130.9 258.9,129.4 259.6,128.9 261.0,127.5 261.2,126.4 262.8,125.3 263.4,124.5 264.6,123.6 265.8,122.5 266.3,121.2 267.4,120.0 268.6,119.2 268.9,118.1 270.4,116.7 270.8,115.3 272.3,114.7 272.8,113.0 273.4,112.2 274.7,110.6 276.4,109.4 277.3,108.5 278.4,106.7 279.3,106.0 280.0,104.7 280.2,103.1 280.5,102.2 280.7,100.5 281.3,99.0 281.0,96.6 281.9,95.2 282.9,93.9 284.1,92.2 284.9,91.5 286.4,89.8 287.4,89.4 288.4,88.0 288.9,86.7 290.2,85.6 291.4,84.8 292.1,83.1 293.5,82.4 294.6,81.4 295.8,80.3 296.4,79.5 297.2,77.7 298.6,76.5 299.9,75.4 300.7,75.0 302.2,73.2 303.6,72.5 304.7,72.0 305.9,71.4 307.5,71.4 309.2,70.3 310.7,70.0 311.8,69.4 312.6,67.6 313.9,66.8 315.3,65.9 315.7,64.0 317.1,63.2 318.6,62.1 318.9,62.1 320.7,60.9 321.9,61.1 323.0,60.0 323.7,58.6 324.3,57.1 326.0,55.8 326.3,54.7 328.0,53.8 328.6,51.7 329.6,50.6 331.5,50.1 332.2,49.3 334.2,49.0 334.7,48.4 336.2,47.9 337.0,46.9 338.6,45.4 340.2,44.8" fill="none" stroke="#1f4470" stroke-opacity="0.3" stroke-width="0.5" stroke-linejoin="round"/>
<clipPath id="cp_b2000"><polygon points="129.9,175.4 132.3,175.7 133.9,176.5 135.1,176.7 137.2,178.2 138.5,178.5 140.2,179.9 140.8,180.1 142.8,181.0 143.6,183.2 143.5,185.3 143.3,187.3 142.1,188.9 141.9,190.1 140.8,192.3 140.4,193.4 140.0,195.2 139.3,198.0 138.4,199.6 137.5,201.0 136.0,202.0 135.8,203.7 134.3,205.7 133.4,206.7 132.5,207.6 131.0,209.3 130.0,210.3 128.2,212.2 126.9,213.1 125.4,215.0 123.7,216.5 123.3,217.2 124.6,218.7 126.1,220.0 125.6,221.1 125.8,222.9 125.2,225.6 124.7,227.3 123.1,228.1 121.9,229.9 121.3,230.5 120.0,231.8 120.7,233.4 120.9,235.1 121.9,235.9 122.6,237.9 123.3,238.5 123.2,240.1 122.4,241.2 121.4,242.5 121.2,244.4 120.2,246.0 119.1,247.4 119.0,248.6 119.5,249.8 120.8,251.4 121.2,252.9 120.5,254.8 120.5,256.1 119.7,258.5 121.2,259.1 121.9,261.3 122.5,262.1 123.4,263.2 125.3,263.6 127.0,264.3 125.6,265.1 125.4,267.1 123.9,268.7 122.9,269.6 122.7,270.9 121.2,271.4 119.9,272.3 119.1,273.8 117.5,274.8 117.0,275.6 115.9,276.9 113.6,277.8 112.3,277.9 111.5,279.5 110.0,279.9 108.4,281.2 107.3,281.2 105.6,281.8 104.4,283.0 102.1,282.4 101.0,283.4 98.9,282.7 96.8,282.3 96.2,283.2 94.0,283.4 92.5,284.0 91.3,285.7 89.8,286.2 88.8,287.8 87.4,290.1 87.0,291.2 85.3,292.7 85.1,293.8 83.5,295.7 82.2,296.6 80.5,296.7 78.7,296.6 76.8,295.6 75.9,294.8 74.1,294.1 73.2,292.6 72.0,294.0 71.9,295.9 70.3,296.9 67.5,296.1 67.7,294.5 66.6,293.2 66.2,291.2 65.0,289.5 63.7,287.9 62.7,287.0 61.1,286.4 60.5,284.7 58.5,283.4 57.8,281.6 56.6,279.8 56.4,278.5 55.6,277.5 54.0,276.0 53.0,274.2 52.1,273.5 50.8,272.7 49.5,271.4 47.7,270.9 45.9,269.9 44.5,269.2 44.2,268.0 43.2,266.4 44.0,265.9 45.5,264.3 45.7,263.2 47.3,262.1 48.0,261.2 49.2,260.2 50.5,259.1 51.1,257.8 52.2,256.4 53.4,255.6 53.8,254.4 55.3,253.0 55.7,251.5 57.4,250.9 57.9,249.1 58.5,248.2 59.9,246.5 61.7,245.3 62.6,244.3 63.8,242.4 64.8,241.6 65.5,240.3 65.7,238.6 66.0,237.6 66.2,235.9 66.8,234.3 66.5,231.7 67.5,230.2 68.6,228.8 69.8,227.1 70.6,226.3 72.3,224.6 73.3,224.2 74.3,222.6 74.8,221.2 76.2,220.1 77.5,219.3 78.2,217.5 79.7,216.7 80.9,215.7 82.1,214.5 82.8,213.7 83.6,211.8 85.1,210.5 86.5,209.3 87.3,208.9 88.8,207.0 90.4,206.2 91.6,205.7 92.8,205.0 94.4,205.1 96.3,203.9 97.8,203.7 99.0,203.0 99.9,201.1 101.2,200.2 102.6,199.3 103.1,197.3 104.5,196.4 106.2,195.3 106.5,195.2 108.4,194.0 109.7,194.2 110.8,193.0 111.5,191.5 112.2,189.9 114.0,188.6 114.3,187.4 116.0,186.5 116.7,184.2 117.8,183.1 119.8,182.5 120.5,181.7 122.6,181.4 123.1,180.8 124.8,180.3 125.6,179.2 127.2,177.6 128.9,177.0"/></clipPath>
<g clip-path="url(#cp_b2000)">
<polygon points="129.9,175.4 132.3,175.7 133.9,176.5 135.1,176.7 137.2,178.2 138.5,178.5 140.2,179.9 140.8,180.1 142.8,181.0 143.6,183.2 143.5,185.3 143.3,187.3 142.1,188.9 141.9,190.1 140.8,192.3 140.4,193.4 140.0,195.2 139.3,198.0 138.4,199.6 137.5,201.0 136.0,202.0 135.8,203.7 134.3,205.7 133.4,206.7 132.5,207.6 131.0,209.3 130.0,210.3 128.2,212.2 126.9,213.1 125.4,215.0 123.7,216.5 123.3,217.2 124.6,218.7 126.1,220.0 125.6,221.1 125.8,222.9 125.2,225.6 124.7,227.3 123.1,228.1 121.9,229.9 121.3,230.5 120.0,231.8 120.7,233.4 120.9,235.1 121.9,235.9 122.6,237.9 123.3,238.5 123.2,240.1 122.4,241.2 121.4,242.5 121.2,244.4 120.2,246.0 119.1,247.4 119.0,248.6 119.5,249.8 120.8,251.4 121.2,252.9 120.5,254.8 120.5,256.1 119.7,258.5 121.2,259.1 121.9,261.3 122.5,262.1 123.4,263.2 125.3,263.6 127.0,264.3 125.6,265.1 125.4,267.1 123.9,268.7 122.9,269.6 122.7,270.9 121.2,271.4 119.9,272.3 119.1,273.8 117.5,274.8 117.0,275.6 115.9,276.9 113.6,277.8 112.3,277.9 111.5,279.5 110.0,279.9 108.4,281.2 107.3,281.2 105.6,281.8 104.4,283.0 102.1,282.4 101.0,283.4 98.9,282.7 96.8,282.3 96.2,283.2 94.0,283.4 92.5,284.0 91.3,285.7 89.8,286.2 88.8,287.8 87.4,290.1 87.0,291.2 85.3,292.7 85.1,293.8 83.5,295.7 82.2,296.6 80.5,296.7 78.7,296.6 76.8,295.6 75.9,294.8 74.1,294.1 73.2,292.6 72.0,294.0 71.9,295.9 70.3,296.9 67.5,296.1 67.7,294.5 66.6,293.2 66.2,291.2 65.0,289.5 63.7,287.9 62.7,287.0 61.1,286.4 60.5,284.7 58.5,283.4 57.8,281.6 56.6,279.8 56.4,278.5 55.6,277.5 54.0,276.0 53.0,274.2 52.1,273.5 50.8,272.7 49.5,271.4 47.7,270.9 45.9,269.9 44.5,269.2 44.2,268.0 43.2,266.4 44.0,265.9 45.5,264.3 45.7,263.2 47.3,262.1 48.0,261.2 49.2,260.2 50.5,259.1 51.1,257.8 52.2,256.4 53.4,255.6 53.8,254.4 55.3,253.0 55.7,251.5 57.4,250.9 57.9,249.1 58.5,248.2 59.9,246.5 61.7,245.3 62.6,244.3 63.8,242.4 64.8,241.6 65.5,240.3 65.7,238.6 66.0,237.6 66.2,235.9 66.8,234.3 66.5,231.7 67.5,230.2 68.6,228.8 69.8,227.1 70.6,226.3 72.3,224.6 73.3,224.2 74.3,222.6 74.8,221.2 76.2,220.1 77.5,219.3 78.2,217.5 79.7,216.7 80.9,215.7 82.1,214.5 82.8,213.7 83.6,211.8 85.1,210.5 86.5,209.3 87.3,208.9 88.8,207.0 90.4,206.2 91.6,205.7 92.8,205.0 94.4,205.1 96.3,203.9 97.8,203.7 99.0,203.0 99.9,201.1 101.2,200.2 102.6,199.3 103.1,197.3 104.5,196.4 106.2,195.3 106.5,195.2 108.4,194.0 109.7,194.2 110.8,193.0 111.5,191.5 112.2,189.9 114.0,188.6 114.3,187.4 116.0,186.5 116.7,184.2 117.8,183.1 119.8,182.5 120.5,181.7 122.6,181.4 123.1,180.8 124.8,180.3 125.6,179.2 127.2,177.6 128.9,177.0" fill="#9dc3e6"/>
<polygon points="95.1,206.4 95.8,211.1 93.1,217.2 90.4,223.3 85.6,227.4 81.5,231.5 80.2,236.9 81.5,241.6 84.9,245.0 91.7,245.7 97.1,244.3 103.9,243.7 110.7,244.3 112.7,248.4 106.6,250.5 103.9,254.5 102.6,257.9 99.2,261.3 100.5,264.7 102.6,268.8 107.3,265.4 113.4,262.0 118.8,260.0 124.3,262.7 132.0,264.0 132.0,275.0 115.0,288.0 100.0,297.0 85.0,302.0 60.0,302.0 40.0,290.0 38.0,262.0 50.0,240.0 65.0,220.0 85.0,198.0" fill="#4b88b0" stroke="#4b88b0" stroke-width="0.3"/>
<polygon points="95.1,206.4 95.8,211.1 93.1,217.2 90.4,223.3 85.6,227.4 81.5,231.5 80.2,236.9 81.5,241.6 84.9,245.0 91.7,245.7 97.1,244.3 103.9,243.7 110.7,244.3 112.7,248.4 106.6,250.5 103.9,254.5 102.6,257.9 99.2,261.3 100.5,264.7 102.6,268.8 107.3,265.4 113.4,262.0 118.8,260.0 124.3,262.7 132.0,264.0 132.0,275.0 115.0,288.0 100.0,297.0 85.0,302.0 60.0,302.0 40.0,290.0 38.0,262.0 50.0,240.0 65.0,220.0 85.0,198.0" fill="none" stroke="#1f4470" stroke-opacity="0.26" stroke-width="0.55" stroke-linejoin="round"/>
<polygon points="89.7,271.5 92.9,269.0 97.3,266.5 100.4,268.4 101.7,271.5 97.9,274.0 94.1,276.5 90.4,278.4 88.5,275.3" fill="#3b7397" stroke="#3b7397" stroke-width="0.3"/>
<polygon points="89.7,271.5 92.9,269.0 97.3,266.5 100.4,268.4 101.7,271.5 97.9,274.0 94.1,276.5 90.4,278.4 88.5,275.3" fill="none" stroke="#1f4470" stroke-opacity="0.26" stroke-width="0.55" stroke-linejoin="round"/>
<polygon points="40.0,267.1 45.7,264.6 49.4,260.8 53.8,259.5 56.4,263.3 58.9,269.0 57.6,272.1 53.8,273.4 49.4,272.5 42.0,270.0" fill="#9dc3e6" stroke="#9dc3e6" stroke-width="0.3"/>
<polygon points="40.0,267.1 45.7,264.6 49.4,260.8 53.8,259.5 56.4,263.3 58.9,269.0 57.6,272.1 53.8,273.4 49.4,272.5 42.0,270.0" fill="none" stroke="#1f4470" stroke-opacity="0.26" stroke-width="0.55" stroke-linejoin="round"/>
<polygon points="57.6,272.8 62.0,272.8 67.1,273.4 69.0,275.3 65.8,278.4 62.0,281.6 60.1,284.7 57.0,282.0 54.0,277.0 53.8,273.4" fill="#dce7f5" stroke="#dce7f5" stroke-width="0.3"/>
<polygon points="57.6,272.8 62.0,272.8 67.1,273.4 69.0,275.3 65.8,278.4 62.0,281.6 60.1,284.7 57.0,282.0 54.0,277.0 53.8,273.4" fill="none" stroke="#1f4470" stroke-opacity="0.26" stroke-width="0.55" stroke-linejoin="round"/>
<polygon points="74.0,257.0 77.1,259.5 80.3,264.0 77.8,267.7 74.6,271.5 71.5,273.4 68.3,271.5 67.1,267.1 69.6,262.1 71.5,258.9" fill="#9dc3e6" stroke="#9dc3e6" stroke-width="0.3"/>
<polygon points="74.0,257.0 77.1,259.5 80.3,264.0 77.8,267.7 74.6,271.5 71.5,273.4 68.3,271.5 67.1,267.1 69.6,262.1 71.5,258.9" fill="none" stroke="#1f4470" stroke-opacity="0.26" stroke-width="0.55" stroke-linejoin="round"/>
<polygon points="62.0,281.6 65.8,278.4 69.0,275.3 72.7,275.9 77.8,275.3 82.8,275.3 84.7,278.4 80.3,282.2 77.1,286.6 75.9,291.0 76.5,299.0 71.5,300.0 64.0,298.0 60.0,292.0 57.0,286.0 60.1,284.7" fill="#9dc3e6" stroke="#9dc3e6" stroke-width="0.3"/>
<polygon points="62.0,281.6 65.8,278.4 69.0,275.3 72.7,275.9 77.8,275.3 82.8,275.3 84.7,278.4 80.3,282.2 77.1,286.6 75.9,291.0 76.5,299.0 71.5,300.0 64.0,298.0 60.0,292.0 57.0,286.0 60.1,284.7" fill="none" stroke="#1f4470" stroke-opacity="0.26" stroke-width="0.55" stroke-linejoin="round"/>
<polyline points="85.6,227.4 91.7,233.5 97.1,235.5 105.3,230.8 112.1,227.4 113.4,224.0 117.5,219.9 124.3,217.9" fill="none" stroke="#1f4470" stroke-opacity="0.26" stroke-width="0.55"/>
<polyline points="97.1,235.5 95.8,240.3 97.1,244.3" fill="none" stroke="#1f4470" stroke-opacity="0.26" stroke-width="0.55"/>
<polyline points="112.1,227.4 117.5,229.4 121.6,228.1" fill="none" stroke="#1f4470" stroke-opacity="0.26" stroke-width="0.55"/>
<polyline points="103.9,254.5 110.0,252.5 116.0,253.5 121.0,251.5" fill="none" stroke="#1f4470" stroke-opacity="0.26" stroke-width="0.55"/>
<polyline points="100.5,264.7 95.0,266.0 89.7,271.5" fill="none" stroke="#1f4470" stroke-opacity="0.26" stroke-width="0.55"/>
<polyline points="67.1,267.1 62.0,262.0 60.0,255.0 63.0,248.0 70.0,243.0" fill="none" stroke="#1f4470" stroke-opacity="0.26" stroke-width="0.55"/>
<polyline points="81.5,241.6 76.0,247.0 74.0,257.0" fill="none" stroke="#1f4470" stroke-opacity="0.26" stroke-width="0.55"/>
<polyline points="80.3,264.0 86.0,262.0 90.0,258.0 97.1,260.2" fill="none" stroke="#1f4470" stroke-opacity="0.26" stroke-width="0.55"/>
<polyline points="84.9,245.0 86.0,252.0 90.0,258.0" fill="none" stroke="#1f4470" stroke-opacity="0.26" stroke-width="0.55"/>
<polyline points="115.3,186.1 119.7,187.2 125.8,188.5" fill="none" stroke="#1f4470" stroke-opacity="0.26" stroke-width="0.55"/>
<polyline points="129.5,175.6 128.2,183.0 125.8,188.5" fill="none" stroke="#1f4470" stroke-opacity="0.26" stroke-width="0.55"/>
<polyline points="129.5,175.6 131.2,180.5 133.8,185.4 134.9,194.0 137.5,200.8" fill="none" stroke="#1f4470" stroke-opacity="0.26" stroke-width="0.55"/>
<polyline points="125.8,188.5 127.7,193.4 129.5,200.1 131.9,206.4" fill="none" stroke="#1f4470" stroke-opacity="0.26" stroke-width="0.55"/>
<polyline points="125.8,188.5 119.2,191.4 112.3,193.6 111.1,195.3 116.0,203.8 119.7,208.8 123.3,215.5" fill="none" stroke="#1f4470" stroke-opacity="0.26" stroke-width="0.55"/>
<polyline points="93.8,206.8 101.7,215.3 110.3,221.8 113.9,223.9 116.1,226.3" fill="none" stroke="#1f4470" stroke-opacity="0.26" stroke-width="0.55"/>
<polyline points="122.1,218.0 117.2,221.0 116.0,226.0 120.9,229.1" fill="none" stroke="#1f4470" stroke-opacity="0.26" stroke-width="0.55"/>
<polyline points="116.0,226.0 112.3,227.3" fill="none" stroke="#1f4470" stroke-opacity="0.26" stroke-width="0.55"/>
<polyline points="89.0,225.5 90.8,220.5 93.9,216.3 93.8,206.8" fill="none" stroke="#1f4470" stroke-opacity="0.26" stroke-width="0.55"/>
</g>
<polygon points="129.9,175.4 132.3,175.7 133.9,176.5 135.1,176.7 137.2,178.2 138.5,178.5 140.2,179.9 140.8,180.1 142.8,181.0 143.6,183.2 143.5,185.3 143.3,187.3 142.1,188.9 141.9,190.1 140.8,192.3 140.4,193.4 140.0,195.2 139.3,198.0 138.4,199.6 137.5,201.0 136.0,202.0 135.8,203.7 134.3,205.7 133.4,206.7 132.5,207.6 131.0,209.3 130.0,210.3 128.2,212.2 126.9,213.1 125.4,215.0 123.7,216.5 123.3,217.2 124.6,218.7 126.1,220.0 125.6,221.1 125.8,222.9 125.2,225.6 124.7,227.3 123.1,228.1 121.9,229.9 121.3,230.5 120.0,231.8 120.7,233.4 120.9,235.1 121.9,235.9 122.6,237.9 123.3,238.5 123.2,240.1 122.4,241.2 121.4,242.5 121.2,244.4 120.2,246.0 119.1,247.4 119.0,248.6 119.5,249.8 120.8,251.4 121.2,252.9 120.5,254.8 120.5,256.1 119.7,258.5 121.2,259.1 121.9,261.3 122.5,262.1 123.4,263.2 125.3,263.6 127.0,264.3 125.6,265.1 125.4,267.1 123.9,268.7 122.9,269.6 122.7,270.9 121.2,271.4 119.9,272.3 119.1,273.8 117.5,274.8 117.0,275.6 115.9,276.9 113.6,277.8 112.3,277.9 111.5,279.5 110.0,279.9 108.4,281.2 107.3,281.2 105.6,281.8 104.4,283.0 102.1,282.4 101.0,283.4 98.9,282.7 96.8,282.3 96.2,283.2 94.0,283.4 92.5,284.0 91.3,285.7 89.8,286.2 88.8,287.8 87.4,290.1 87.0,291.2 85.3,292.7 85.1,293.8 83.5,295.7 82.2,296.6 80.5,296.7 78.7,296.6 76.8,295.6 75.9,294.8 74.1,294.1 73.2,292.6 72.0,294.0 71.9,295.9 70.3,296.9 67.5,296.1 67.7,294.5 66.6,293.2 66.2,291.2 65.0,289.5 63.7,287.9 62.7,287.0 61.1,286.4 60.5,284.7 58.5,283.4 57.8,281.6 56.6,279.8 56.4,278.5 55.6,277.5 54.0,276.0 53.0,274.2 52.1,273.5 50.8,272.7 49.5,271.4 47.7,270.9 45.9,269.9 44.5,269.2 44.2,268.0 43.2,266.4 44.0,265.9 45.5,264.3 45.7,263.2 47.3,262.1 48.0,261.2 49.2,260.2 50.5,259.1 51.1,257.8 52.2,256.4 53.4,255.6 53.8,254.4 55.3,253.0 55.7,251.5 57.4,250.9 57.9,249.1 58.5,248.2 59.9,246.5 61.7,245.3 62.6,244.3 63.8,242.4 64.8,241.6 65.5,240.3 65.7,238.6 66.0,237.6 66.2,235.9 66.8,234.3 66.5,231.7 67.5,230.2 68.6,228.8 69.8,227.1 70.6,226.3 72.3,224.6 73.3,224.2 74.3,222.6 74.8,221.2 76.2,220.1 77.5,219.3 78.2,217.5 79.7,216.7 80.9,215.7 82.1,214.5 82.8,213.7 83.6,211.8 85.1,210.5 86.5,209.3 87.3,208.9 88.8,207.0 90.4,206.2 91.6,205.7 92.8,205.0 94.4,205.1 96.3,203.9 97.8,203.7 99.0,203.0 99.9,201.1 101.2,200.2 102.6,199.3 103.1,197.3 104.5,196.4 106.2,195.3 106.5,195.2 108.4,194.0 109.7,194.2 110.8,193.0 111.5,191.5 112.2,189.9 114.0,188.6 114.3,187.4 116.0,186.5 116.7,184.2 117.8,183.1 119.8,182.5 120.5,181.7 122.6,181.4 123.1,180.8 124.8,180.3 125.6,179.2 127.2,177.6 128.9,177.0" fill="none" stroke="#1f4470" stroke-opacity="0.3" stroke-width="0.5" stroke-linejoin="round"/>
<clipPath id="cp_b2010"><polygon points="235.1,178.0 237.6,178.3 239.1,179.1 240.3,179.4 242.3,180.8 243.7,181.1 245.4,182.5 245.9,182.8 247.9,183.6 248.7,185.8 248.6,187.9 248.5,189.9 247.2,191.6 247.0,192.7 245.9,194.9 245.5,196.0 245.2,197.8 244.5,200.6 243.6,202.2 242.6,203.5 241.2,204.5 241.0,206.2 239.5,208.3 238.6,209.3 237.7,210.1 236.3,211.9 235.2,212.9 233.5,214.8 232.2,215.7 230.7,217.5 229.1,219.1 228.6,219.7 230.0,221.2 231.4,222.5 230.9,223.6 231.1,225.4 230.5,228.1 230.0,229.8 228.4,230.6 227.3,232.4 226.6,233.0 225.4,234.3 226.1,235.8 226.3,237.5 227.2,238.3 227.9,240.3 228.6,240.9 228.5,242.6 227.7,243.6 226.8,244.9 226.5,246.9 225.6,248.4 224.5,249.9 224.4,251.0 224.9,252.2 226.2,253.9 226.5,255.3 225.8,257.2 225.8,258.5 225.1,260.9 226.6,261.5 227.2,263.7 227.8,264.5 228.7,265.6 230.6,266.0 232.3,266.7 230.9,267.5 230.7,269.5 229.2,271.1 228.2,271.9 228.1,273.2 226.5,273.7 225.3,274.6 224.5,276.2 222.9,277.2 222.4,277.9 221.3,279.2 219.0,280.2 217.7,280.3 217.0,281.9 215.5,282.2 213.9,283.5 212.8,283.5 211.1,284.1 210.0,285.3 207.6,284.8 206.6,285.7 204.5,285.0 202.5,284.7 201.9,285.5 199.6,285.7 198.1,286.3 197.0,288.0 195.5,288.5 194.5,290.1 193.1,292.4 192.7,293.5 191.0,295.0 190.9,296.1 189.3,298.0 188.0,298.9 186.3,298.9 184.5,298.9 182.7,297.9 181.8,297.1 180.0,296.4 179.1,294.9 177.9,296.3 177.8,298.2 176.2,299.2 173.5,298.4 173.6,296.7 172.6,295.5 172.2,293.5 171.0,291.9 169.7,290.2 168.7,289.3 167.2,288.7 166.5,287.1 164.5,285.7 163.9,283.9 162.7,282.2 162.5,280.8 161.7,279.9 160.1,278.3 159.1,276.6 158.3,275.9 157.0,275.0 155.6,273.7 153.8,273.3 152.1,272.3 150.8,271.6 150.4,270.4 149.4,268.7 150.2,268.2 151.6,266.7 151.9,265.6 153.5,264.5 154.2,263.6 155.4,262.6 156.6,261.5 157.2,260.2 158.4,258.9 159.5,258.0 159.9,256.8 161.4,255.4 161.8,254.0 163.4,253.3 163.9,251.5 164.5,250.6 166.0,249.0 167.7,247.7 168.6,246.8 169.8,244.9 170.7,244.1 171.4,242.7 171.6,241.1 172.0,240.1 172.2,238.3 172.8,236.7 172.5,234.2 173.5,232.7 174.5,231.3 175.7,229.6 176.5,228.8 178.2,227.1 179.2,226.7 180.2,225.1 180.7,223.8 182.1,222.6 183.3,221.8 184.1,220.0 185.5,219.3 186.7,218.2 187.9,217.1 188.6,216.2 189.4,214.3 190.9,213.0 192.2,211.9 193.0,211.4 194.6,209.6 196.1,208.8 197.2,208.3 198.4,207.6 200.1,207.6 201.9,206.5 203.4,206.2 204.6,205.5 205.5,203.7 206.8,202.8 208.2,201.9 208.7,199.9 210.1,199.0 211.7,197.8 212.0,197.8 213.9,196.6 215.2,196.8 216.3,195.6 217.0,194.1 217.7,192.5 219.4,191.2 219.7,190.0 221.4,189.1 222.1,186.8 223.2,185.7 225.1,185.2 225.8,184.4 227.9,184.0 228.4,183.4 230.1,182.9 230.9,181.8 232.5,180.2 234.2,179.6"/></clipPath>
<g clip-path="url(#cp_b2010)">
<polygon points="235.1,178.0 237.6,178.3 239.1,179.1 240.3,179.4 242.3,180.8 243.7,181.1 245.4,182.5 245.9,182.8 247.9,183.6 248.7,185.8 248.6,187.9 248.5,189.9 247.2,191.6 247.0,192.7 245.9,194.9 245.5,196.0 245.2,197.8 244.5,200.6 243.6,202.2 242.6,203.5 241.2,204.5 241.0,206.2 239.5,208.3 238.6,209.3 237.7,210.1 236.3,211.9 235.2,212.9 233.5,214.8 232.2,215.7 230.7,217.5 229.1,219.1 228.6,219.7 230.0,221.2 231.4,222.5 230.9,223.6 231.1,225.4 230.5,228.1 230.0,229.8 228.4,230.6 227.3,232.4 226.6,233.0 225.4,234.3 226.1,235.8 226.3,237.5 227.2,238.3 227.9,240.3 228.6,240.9 228.5,242.6 227.7,243.6 226.8,244.9 226.5,246.9 225.6,248.4 224.5,249.9 224.4,251.0 224.9,252.2 226.2,253.9 226.5,255.3 225.8,257.2 225.8,258.5 225.1,260.9 226.6,261.5 227.2,263.7 227.8,264.5 228.7,265.6 230.6,266.0 232.3,266.7 230.9,267.5 230.7,269.5 229.2,271.1 228.2,271.9 228.1,273.2 226.5,273.7 225.3,274.6 224.5,276.2 222.9,277.2 222.4,277.9 221.3,279.2 219.0,280.2 217.7,280.3 217.0,281.9 215.5,282.2 213.9,283.5 212.8,283.5 211.1,284.1 210.0,285.3 207.6,284.8 206.6,285.7 204.5,285.0 202.5,284.7 201.9,285.5 199.6,285.7 198.1,286.3 197.0,288.0 195.5,288.5 194.5,290.1 193.1,292.4 192.7,293.5 191.0,295.0 190.9,296.1 189.3,298.0 188.0,298.9 186.3,298.9 184.5,298.9 182.7,297.9 181.8,297.1 180.0,296.4 179.1,294.9 177.9,296.3 177.8,298.2 176.2,299.2 173.5,298.4 173.6,296.7 172.6,295.5 172.2,293.5 171.0,291.9 169.7,290.2 168.7,289.3 167.2,288.7 166.5,287.1 164.5,285.7 163.9,283.9 162.7,282.2 162.5,280.8 161.7,279.9 160.1,278.3 159.1,276.6 158.3,275.9 157.0,275.0 155.6,273.7 153.8,273.3 152.1,272.3 150.8,271.6 150.4,270.4 149.4,268.7 150.2,268.2 151.6,266.7 151.9,265.6 153.5,264.5 154.2,263.6 155.4,262.6 156.6,261.5 157.2,260.2 158.4,258.9 159.5,258.0 159.9,256.8 161.4,255.4 161.8,254.0 163.4,253.3 163.9,251.5 164.5,250.6 166.0,249.0 167.7,247.7 168.6,246.8 169.8,244.9 170.7,244.1 171.4,242.7 171.6,241.1 172.0,240.1 172.2,238.3 172.8,236.7 172.5,234.2 173.5,232.7 174.5,231.3 175.7,229.6 176.5,228.8 178.2,227.1 179.2,226.7 180.2,225.1 180.7,223.8 182.1,222.6 183.3,221.8 184.1,220.0 185.5,219.3 186.7,218.2 187.9,217.1 188.6,216.2 189.4,214.3 190.9,213.0 192.2,211.9 193.0,211.4 194.6,209.6 196.1,208.8 197.2,208.3 198.4,207.6 200.1,207.6 201.9,206.5 203.4,206.2 204.6,205.5 205.5,203.7 206.8,202.8 208.2,201.9 208.7,199.9 210.1,199.0 211.7,197.8 212.0,197.8 213.9,196.6 215.2,196.8 216.3,195.6 217.0,194.1 217.7,192.5 219.4,191.2 219.7,190.0 221.4,189.1 222.1,186.8 223.2,185.7 225.1,185.2 225.8,184.4 227.9,184.0 228.4,183.4 230.1,182.9 230.9,181.8 232.5,180.2 234.2,179.6" fill="#2e5a82"/>
<polygon points="212.1,199.7 216.5,201.6 219.6,206.0 222.1,211.0 224.7,216.1 222.8,221.7 227.2,221.7 230.3,223.6 240.0,222.0 256.0,190.0 250.0,172.0 232.0,172.0 205.0,195.0" fill="#9dc3e6" stroke="#9dc3e6" stroke-width="0.3"/>
<polygon points="212.1,199.7 216.5,201.6 219.6,206.0 222.1,211.0 224.7,216.1 222.8,221.7 227.2,221.7 230.3,223.6 240.0,222.0 256.0,190.0 250.0,172.0 232.0,172.0 205.0,195.0" fill="none" stroke="#1f4470" stroke-opacity="0.26" stroke-width="0.55" stroke-linejoin="round"/>
<polygon points="219.0,191.5 220.9,187.7 225.3,185.2 230.3,184.0 234.1,182.7 233.5,187.1 231.6,190.9 228.4,193.4 222.8,193.4 216.0,194.0" fill="#4b88b0" stroke="#4b88b0" stroke-width="0.3"/>
<polygon points="219.0,191.5 220.9,187.7 225.3,185.2 230.3,184.0 234.1,182.7 233.5,187.1 231.6,190.9 228.4,193.4 222.8,193.4 216.0,194.0" fill="none" stroke="#1f4470" stroke-opacity="0.26" stroke-width="0.55" stroke-linejoin="round"/>
<polygon points="204.5,206.0 208.3,201.6 212.1,199.7 216.5,201.6 219.6,206.0 222.1,211.0 224.7,216.1 222.8,221.1 219.0,224.9 215.8,227.4 214.0,222.4 210.2,218.6 205.1,214.8 203.3,209.8" fill="#3b7397" stroke="#3b7397" stroke-width="0.3"/>
<polygon points="204.5,206.0 208.3,201.6 212.1,199.7 216.5,201.6 219.6,206.0 222.1,211.0 224.7,216.1 222.8,221.1 219.0,224.9 215.8,227.4 214.0,222.4 210.2,218.6 205.1,214.8 203.3,209.8" fill="none" stroke="#1f4470" stroke-opacity="0.26" stroke-width="0.55" stroke-linejoin="round"/>
<polygon points="219.0,224.9 222.8,221.7 227.2,221.7 233.0,222.5 232.0,227.4 227.2,230.5 222.8,231.8 218.4,229.3" fill="#4b88b0" stroke="#4b88b0" stroke-width="0.3"/>
<polygon points="219.0,224.9 222.8,221.7 227.2,221.7 233.0,222.5 232.0,227.4 227.2,230.5 222.8,231.8 218.4,229.3" fill="none" stroke="#1f4470" stroke-opacity="0.26" stroke-width="0.55" stroke-linejoin="round"/>
<polygon points="194.4,228.7 197.0,228.0 196.3,232.4 193.8,233.7" fill="#4b88b0" stroke="#4b88b0" stroke-width="0.3"/>
<polygon points="194.4,228.7 197.0,228.0 196.3,232.4 193.8,233.7" fill="none" stroke="#1f4470" stroke-opacity="0.26" stroke-width="0.55" stroke-linejoin="round"/>
<polygon points="186.8,236.6 190.4,233.0 194.1,231.5 196.3,235.2 199.9,238.1 205.0,237.4 210.1,234.4 215.1,231.5 220.2,230.8 224.6,233.7 230.0,238.1 231.0,242.4 229.0,246.1 228.0,251.2 229.0,255.5 226.0,259.9 221.0,262.1 215.9,265.0 211.5,267.2 207.9,269.3 204.2,265.7 201.3,262.8 206.4,259.2 210.1,256.3 210.8,252.6 215.1,251.9 217.3,249.0 215.1,246.8 208.6,246.1 202.8,246.8 198.4,248.3 196.3,250.4 191.9,249.0 188.3,245.3 186.1,241.0" fill="#9dc3e6" stroke="#9dc3e6" stroke-width="0.3"/>
<polygon points="186.8,236.6 190.4,233.0 194.1,231.5 196.3,235.2 199.9,238.1 205.0,237.4 210.1,234.4 215.1,231.5 220.2,230.8 224.6,233.7 230.0,238.1 231.0,242.4 229.0,246.1 228.0,251.2 229.0,255.5 226.0,259.9 221.0,262.1 215.9,265.0 211.5,267.2 207.9,269.3 204.2,265.7 201.3,262.8 206.4,259.2 210.1,256.3 210.8,252.6 215.1,251.9 217.3,249.0 215.1,246.8 208.6,246.1 202.8,246.8 198.4,248.3 196.3,250.4 191.9,249.0 188.3,245.3 186.1,241.0" fill="none" stroke="#1f4470" stroke-opacity="0.26" stroke-width="0.55" stroke-linejoin="round"/>
<polygon points="196.3,250.4 198.4,248.3 202.8,246.8 208.6,246.1 215.1,246.8 217.3,249.0 215.1,251.9 210.8,252.6 210.1,256.3 206.4,259.2 201.3,260.6 199.2,256.3 197.0,253.3" fill="#3b7397" stroke="#3b7397" stroke-width="0.3"/>
<polygon points="196.3,250.4 198.4,248.3 202.8,246.8 208.6,246.1 215.1,246.8 217.3,249.0 215.1,251.9 210.8,252.6 210.1,256.3 206.4,259.2 201.3,260.6 199.2,256.3 197.0,253.3" fill="none" stroke="#1f4470" stroke-opacity="0.26" stroke-width="0.55" stroke-linejoin="round"/>
<polygon points="155.1,273.7 160.1,276.2 165.2,275.7 171.2,275.2 175.3,275.2 179.3,273.7 182.3,270.2 185.3,268.2 189.4,267.6 193.4,266.6 196.4,264.1 200.0,262.1 201.3,262.8 204.2,265.7 207.9,269.3 211.5,267.2 215.9,265.0 221.0,262.1 223.9,259.9 229.0,262.0 238.0,264.0 238.0,275.0 215.0,292.0 190.0,303.0 170.0,305.0 155.0,290.0 148.0,278.0" fill="#4b88b0" stroke="#4b88b0" stroke-width="0.3"/>
<polygon points="155.1,273.7 160.1,276.2 165.2,275.7 171.2,275.2 175.3,275.2 179.3,273.7 182.3,270.2 185.3,268.2 189.4,267.6 193.4,266.6 196.4,264.1 200.0,262.1 201.3,262.8 204.2,265.7 207.9,269.3 211.5,267.2 215.9,265.0 221.0,262.1 223.9,259.9 229.0,262.0 238.0,264.0 238.0,275.0 215.0,292.0 190.0,303.0 170.0,305.0 155.0,290.0 148.0,278.0" fill="none" stroke="#1f4470" stroke-opacity="0.26" stroke-width="0.55" stroke-linejoin="round"/>
<polygon points="161.6,276.7 165.2,276.0 171.2,275.4 174.7,275.7 173.2,278.7 170.2,281.8 167.7,284.8 165.7,287.3 163.7,285.8 163.2,281.3 162.6,278.7" fill="#9dc3e6" stroke="#9dc3e6" stroke-width="0.3"/>
<polygon points="161.6,276.7 165.2,276.0 171.2,275.4 174.7,275.7 173.2,278.7 170.2,281.8 167.7,284.8 165.7,287.3 163.7,285.8 163.2,281.3 162.6,278.7" fill="none" stroke="#1f4470" stroke-opacity="0.26" stroke-width="0.55" stroke-linejoin="round"/>
<polygon points="190.9,280.3 192.4,275.7 194.4,271.7 196.4,269.2 200.0,268.2 203.5,270.1 206.4,272.2 204.2,275.1 200.6,278.1 197.4,280.2 194.4,281.8" fill="#3b7397" stroke="#3b7397" stroke-width="0.3"/>
<polygon points="190.9,280.3 192.4,275.7 194.4,271.7 196.4,269.2 200.0,268.2 203.5,270.1 206.4,272.2 204.2,275.1 200.6,278.1 197.4,280.2 194.4,281.8" fill="none" stroke="#1f4470" stroke-opacity="0.26" stroke-width="0.55" stroke-linejoin="round"/>
<polygon points="194.6,277.5 196.8,273.0 200.6,270.6 204.5,272.3 202.5,275.3 198.5,278.3" fill="#35688f" stroke="#35688f" stroke-width="0.3"/>
<polygon points="194.6,277.5 196.8,273.0 200.6,270.6 204.5,272.3 202.5,275.3 198.5,278.3" fill="none" stroke="#1f4470" stroke-opacity="0.26" stroke-width="0.55" stroke-linejoin="round"/>
<polyline points="210.1,256.3 216.0,256.5 221.0,254.5 228.0,255.5" fill="none" stroke="#1f4470" stroke-opacity="0.26" stroke-width="0.55"/>
<polyline points="205.0,237.4 206.0,242.0 208.6,246.1" fill="none" stroke="#1f4470" stroke-opacity="0.26" stroke-width="0.55"/>
<polyline points="179.3,273.7 181.0,279.0 179.0,285.0 181.0,291.0 178.0,296.0" fill="none" stroke="#1f4470" stroke-opacity="0.26" stroke-width="0.55"/>
<polyline points="190.9,280.3 187.0,284.0 184.0,290.0 186.0,296.0" fill="none" stroke="#1f4470" stroke-opacity="0.26" stroke-width="0.55"/>
<polyline points="173.2,278.7 176.0,282.0 181.0,279.0" fill="none" stroke="#1f4470" stroke-opacity="0.26" stroke-width="0.55"/>
<polyline points="194.4,281.8 196.0,286.0 193.0,291.0" fill="none" stroke="#1f4470" stroke-opacity="0.26" stroke-width="0.55"/>
<polyline points="207.9,269.3 205.0,274.0 204.2,275.1" fill="none" stroke="#1f4470" stroke-opacity="0.26" stroke-width="0.55"/>
<polyline points="170.0,262.0 176.0,258.0 180.0,250.0 186.1,241.0" fill="none" stroke="#1f4470" stroke-opacity="0.26" stroke-width="0.55"/>
<polyline points="186.8,236.6 181.0,233.0 178.0,228.0" fill="none" stroke="#1f4470" stroke-opacity="0.26" stroke-width="0.55"/>
<polyline points="175.3,275.2 176.0,268.0 172.0,263.0 170.0,262.0 163.0,262.0" fill="none" stroke="#1f4470" stroke-opacity="0.26" stroke-width="0.55"/>
<polyline points="196.4,264.1 193.0,258.0 196.3,250.4" fill="none" stroke="#1f4470" stroke-opacity="0.26" stroke-width="0.55"/>
<polyline points="220.7,188.7 225.0,189.8 231.1,191.1" fill="none" stroke="#1f4470" stroke-opacity="0.26" stroke-width="0.55"/>
<polyline points="234.7,178.2 233.5,185.6 231.1,191.1" fill="none" stroke="#1f4470" stroke-opacity="0.26" stroke-width="0.55"/>
<polyline points="234.7,178.2 236.5,183.1 239.0,188.0 240.1,196.6 242.6,203.3" fill="none" stroke="#1f4470" stroke-opacity="0.26" stroke-width="0.55"/>
<polyline points="231.1,191.1 232.9,195.9 234.7,202.7 237.1,208.9" fill="none" stroke="#1f4470" stroke-opacity="0.26" stroke-width="0.55"/>
<polyline points="231.1,191.1 224.6,194.0 217.7,196.2 216.6,197.8 221.4,206.4 225.0,211.3 228.7,218.1" fill="none" stroke="#1f4470" stroke-opacity="0.26" stroke-width="0.55"/>
<polyline points="199.5,209.3 207.3,217.9 215.7,224.3 219.3,226.4 221.5,228.8" fill="none" stroke="#1f4470" stroke-opacity="0.26" stroke-width="0.55"/>
<polyline points="227.4,220.5 222.6,223.6 221.4,228.5 226.3,231.6" fill="none" stroke="#1f4470" stroke-opacity="0.26" stroke-width="0.55"/>
<polyline points="221.4,228.5 217.7,229.8" fill="none" stroke="#1f4470" stroke-opacity="0.26" stroke-width="0.55"/>
<polyline points="194.7,228.0 196.5,223.0 199.6,218.8 199.5,209.3" fill="none" stroke="#1f4470" stroke-opacity="0.26" stroke-width="0.55"/>
</g>
<polygon points="235.1,178.0 237.6,178.3 239.1,179.1 240.3,179.4 242.3,180.8 243.7,181.1 245.4,182.5 245.9,182.8 247.9,183.6 248.7,185.8 248.6,187.9 248.5,189.9 247.2,191.6 247.0,192.7 245.9,194.9 245.5,196.0 245.2,197.8 244.5,200.6 243.6,202.2 242.6,203.5 241.2,204.5 241.0,206.2 239.5,208.3 238.6,209.3 237.7,210.1 236.3,211.9 235.2,212.9 233.5,214.8 232.2,215.7 230.7,217.5 229.1,219.1 228.6,219.7 230.0,221.2 231.4,222.5 230.9,223.6 231.1,225.4 230.5,228.1 230.0,229.8 228.4,230.6 227.3,232.4 226.6,233.0 225.4,234.3 226.1,235.8 226.3,237.5 227.2,238.3 227.9,240.3 228.6,240.9 228.5,242.6 227.7,243.6 226.8,244.9 226.5,246.9 225.6,248.4 224.5,249.9 224.4,251.0 224.9,252.2 226.2,253.9 226.5,255.3 225.8,257.2 225.8,258.5 225.1,260.9 226.6,261.5 227.2,263.7 227.8,264.5 228.7,265.6 230.6,266.0 232.3,266.7 230.9,267.5 230.7,269.5 229.2,271.1 228.2,271.9 228.1,273.2 226.5,273.7 225.3,274.6 224.5,276.2 222.9,277.2 222.4,277.9 221.3,279.2 219.0,280.2 217.7,280.3 217.0,281.9 215.5,282.2 213.9,283.5 212.8,283.5 211.1,284.1 210.0,285.3 207.6,284.8 206.6,285.7 204.5,285.0 202.5,284.7 201.9,285.5 199.6,285.7 198.1,286.3 197.0,288.0 195.5,288.5 194.5,290.1 193.1,292.4 192.7,293.5 191.0,295.0 190.9,296.1 189.3,298.0 188.0,298.9 186.3,298.9 184.5,298.9 182.7,297.9 181.8,297.1 180.0,296.4 179.1,294.9 177.9,296.3 177.8,298.2 176.2,299.2 173.5,298.4 173.6,296.7 172.6,295.5 172.2,293.5 171.0,291.9 169.7,290.2 168.7,289.3 167.2,288.7 166.5,287.1 164.5,285.7 163.9,283.9 162.7,282.2 162.5,280.8 161.7,279.9 160.1,278.3 159.1,276.6 158.3,275.9 157.0,275.0 155.6,273.7 153.8,273.3 152.1,272.3 150.8,271.6 150.4,270.4 149.4,268.7 150.2,268.2 151.6,266.7 151.9,265.6 153.5,264.5 154.2,263.6 155.4,262.6 156.6,261.5 157.2,260.2 158.4,258.9 159.5,258.0 159.9,256.8 161.4,255.4 161.8,254.0 163.4,253.3 163.9,251.5 164.5,250.6 166.0,249.0 167.7,247.7 168.6,246.8 169.8,244.9 170.7,244.1 171.4,242.7 171.6,241.1 172.0,240.1 172.2,238.3 172.8,236.7 172.5,234.2 173.5,232.7 174.5,231.3 175.7,229.6 176.5,228.8 178.2,227.1 179.2,226.7 180.2,225.1 180.7,223.8 182.1,222.6 183.3,221.8 184.1,220.0 185.5,219.3 186.7,218.2 187.9,217.1 188.6,216.2 189.4,214.3 190.9,213.0 192.2,211.9 193.0,211.4 194.6,209.6 196.1,208.8 197.2,208.3 198.4,207.6 200.1,207.6 201.9,206.5 203.4,206.2 204.6,205.5 205.5,203.7 206.8,202.8 208.2,201.9 208.7,199.9 210.1,199.0 211.7,197.8 212.0,197.8 213.9,196.6 215.2,196.8 216.3,195.6 217.0,194.1 217.7,192.5 219.4,191.2 219.7,190.0 221.4,189.1 222.1,186.8 223.2,185.7 225.1,185.2 225.8,184.4 227.9,184.0 228.4,183.4 230.1,182.9 230.9,181.8 232.5,180.2 234.2,179.6" fill="none" stroke="#1f4470" stroke-opacity="0.3" stroke-width="0.5" stroke-linejoin="round"/>
<clipPath id="cp_b2022"><polygon points="338.0,186.5 340.3,186.8 341.8,187.6 343.0,187.8 344.9,189.1 346.1,189.4 347.8,190.6 348.3,190.9 350.2,191.7 351.0,193.7 350.9,195.6 350.7,197.4 349.5,198.9 349.4,200.0 348.3,201.9 347.9,203.0 347.6,204.6 346.9,207.2 346.1,208.6 345.2,209.8 343.8,210.7 343.6,212.3 342.2,214.2 341.3,215.1 340.5,215.9 339.1,217.4 338.1,218.4 336.5,220.1 335.3,220.9 333.8,222.6 332.2,224.0 331.8,224.6 333.1,226.0 334.4,227.1 334.0,228.1 334.2,229.8 333.6,232.3 333.2,233.8 331.6,234.6 330.5,236.2 329.9,236.8 328.7,237.9 329.4,239.3 329.6,240.9 330.5,241.6 331.1,243.4 331.8,244.0 331.7,245.5 330.9,246.4 330.0,247.6 329.8,249.4 328.9,250.8 327.9,252.1 327.8,253.2 328.3,254.3 329.5,255.8 329.8,257.1 329.1,258.8 329.1,260.0 328.5,262.2 329.9,262.8 330.5,264.8 331.1,265.5 331.9,266.5 333.7,266.9 335.3,267.5 334.0,268.2 333.8,270.1 332.4,271.5 331.4,272.3 331.3,273.5 329.8,274.0 328.6,274.7 327.9,276.2 326.4,277.1 325.9,277.8 324.9,278.9 322.7,279.8 321.4,279.9 320.7,281.4 319.3,281.7 317.8,282.9 316.7,282.9 315.2,283.4 314.1,284.5 311.8,284.0 310.8,284.9 308.8,284.2 306.9,283.9 306.3,284.7 304.2,284.9 302.8,285.5 301.7,287.0 300.2,287.5 299.3,288.9 298.0,291.0 297.6,292.0 296.0,293.4 295.8,294.3 294.3,296.1 293.1,296.9 291.5,297.0 289.8,296.9 288.0,296.0 287.2,295.3 285.5,294.7 284.6,293.3 283.4,294.5 283.4,296.3 281.9,297.2 279.3,296.5 279.4,295.0 278.4,293.8 278.0,292.0 276.9,290.5 275.7,289.0 274.7,288.1 273.3,287.6 272.6,286.1 270.8,284.9 270.1,283.2 269.0,281.7 268.8,280.4 268.1,279.5 266.5,278.1 265.6,276.5 264.8,275.9 263.6,275.1 262.3,274.0 260.6,273.5 258.9,272.6 257.6,272.0 257.3,270.9 256.4,269.4 257.1,268.9 258.5,267.5 258.7,266.5 260.2,265.5 260.9,264.7 262.1,263.8 263.2,262.7 263.8,261.5 264.9,260.3 266.0,259.6 266.3,258.5 267.8,257.2 268.2,255.9 269.7,255.3 270.2,253.6 270.7,252.8 272.1,251.3 273.8,250.2 274.6,249.3 275.8,247.6 276.7,246.8 277.3,245.6 277.5,244.1 277.8,243.2 278.0,241.6 278.6,240.1 278.3,237.8 279.3,236.5 280.3,235.2 281.4,233.6 282.2,232.9 283.7,231.3 284.7,230.9 285.6,229.5 286.2,228.3 287.4,227.2 288.6,226.5 289.4,224.9 290.7,224.2 291.8,223.2 293.0,222.2 293.7,221.4 294.4,219.7 295.8,218.5 297.2,217.4 297.9,217.0 299.4,215.3 300.8,214.6 301.9,214.1 303.0,213.5 304.6,213.6 306.4,212.5 307.8,212.3 308.9,211.6 309.8,209.9 311.0,209.1 312.4,208.3 312.8,206.5 314.1,205.7 315.7,204.6 316.0,204.6 317.8,203.5 319.0,203.7 320.1,202.6 320.7,201.2 321.4,199.8 323.1,198.6 323.3,197.5 325.0,196.6 325.6,194.6 326.6,193.6 328.5,193.0 329.2,192.3 331.1,192.0 331.6,191.5 333.2,191.0 334.0,190.0 335.5,188.5 337.1,188.0"/></clipPath>
<g clip-path="url(#cp_b2022)">
<polygon points="338.0,186.5 340.3,186.8 341.8,187.6 343.0,187.8 344.9,189.1 346.1,189.4 347.8,190.6 348.3,190.9 350.2,191.7 351.0,193.7 350.9,195.6 350.7,197.4 349.5,198.9 349.4,200.0 348.3,201.9 347.9,203.0 347.6,204.6 346.9,207.2 346.1,208.6 345.2,209.8 343.8,210.7 343.6,212.3 342.2,214.2 341.3,215.1 340.5,215.9 339.1,217.4 338.1,218.4 336.5,220.1 335.3,220.9 333.8,222.6 332.2,224.0 331.8,224.6 333.1,226.0 334.4,227.1 334.0,228.1 334.2,229.8 333.6,232.3 333.2,233.8 331.6,234.6 330.5,236.2 329.9,236.8 328.7,237.9 329.4,239.3 329.6,240.9 330.5,241.6 331.1,243.4 331.8,244.0 331.7,245.5 330.9,246.4 330.0,247.6 329.8,249.4 328.9,250.8 327.9,252.1 327.8,253.2 328.3,254.3 329.5,255.8 329.8,257.1 329.1,258.8 329.1,260.0 328.5,262.2 329.9,262.8 330.5,264.8 331.1,265.5 331.9,266.5 333.7,266.9 335.3,267.5 334.0,268.2 333.8,270.1 332.4,271.5 331.4,272.3 331.3,273.5 329.8,274.0 328.6,274.7 327.9,276.2 326.4,277.1 325.9,277.8 324.9,278.9 322.7,279.8 321.4,279.9 320.7,281.4 319.3,281.7 317.8,282.9 316.7,282.9 315.2,283.4 314.1,284.5 311.8,284.0 310.8,284.9 308.8,284.2 306.9,283.9 306.3,284.7 304.2,284.9 302.8,285.5 301.7,287.0 300.2,287.5 299.3,288.9 298.0,291.0 297.6,292.0 296.0,293.4 295.8,294.3 294.3,296.1 293.1,296.9 291.5,297.0 289.8,296.9 288.0,296.0 287.2,295.3 285.5,294.7 284.6,293.3 283.4,294.5 283.4,296.3 281.9,297.2 279.3,296.5 279.4,295.0 278.4,293.8 278.0,292.0 276.9,290.5 275.7,289.0 274.7,288.1 273.3,287.6 272.6,286.1 270.8,284.9 270.1,283.2 269.0,281.7 268.8,280.4 268.1,279.5 266.5,278.1 265.6,276.5 264.8,275.9 263.6,275.1 262.3,274.0 260.6,273.5 258.9,272.6 257.6,272.0 257.3,270.9 256.4,269.4 257.1,268.9 258.5,267.5 258.7,266.5 260.2,265.5 260.9,264.7 262.1,263.8 263.2,262.7 263.8,261.5 264.9,260.3 266.0,259.6 266.3,258.5 267.8,257.2 268.2,255.9 269.7,255.3 270.2,253.6 270.7,252.8 272.1,251.3 273.8,250.2 274.6,249.3 275.8,247.6 276.7,246.8 277.3,245.6 277.5,244.1 277.8,243.2 278.0,241.6 278.6,240.1 278.3,237.8 279.3,236.5 280.3,235.2 281.4,233.6 282.2,232.9 283.7,231.3 284.7,230.9 285.6,229.5 286.2,228.3 287.4,227.2 288.6,226.5 289.4,224.9 290.7,224.2 291.8,223.2 293.0,222.2 293.7,221.4 294.4,219.7 295.8,218.5 297.2,217.4 297.9,217.0 299.4,215.3 300.8,214.6 301.9,214.1 303.0,213.5 304.6,213.6 306.4,212.5 307.8,212.3 308.9,211.6 309.8,209.9 311.0,209.1 312.4,208.3 312.8,206.5 314.1,205.7 315.7,204.6 316.0,204.6 317.8,203.5 319.0,203.7 320.1,202.6 320.7,201.2 321.4,199.8 323.1,198.6 323.3,197.5 325.0,196.6 325.6,194.6 326.6,193.6 328.5,193.0 329.2,192.3 331.1,192.0 331.6,191.5 333.2,191.0 334.0,190.0 335.5,188.5 337.1,188.0" fill="#9dc3e6"/>
<polygon points="306.6,213.0 309.9,216.9 314.5,221.5 319.8,227.5 321.8,228.8 325.7,225.5 330.0,224.8 345.0,215.0 362.0,195.0 352.0,178.0 335.0,178.0 315.0,195.0 300.0,212.0" fill="#dce7f5" stroke="#dce7f5" stroke-width="0.3"/>
<polygon points="306.6,213.0 309.9,216.9 314.5,221.5 319.8,227.5 321.8,228.8 325.7,225.5 330.0,224.8 345.0,215.0 362.0,195.0 352.0,178.0 335.0,178.0 315.0,195.0 300.0,212.0" fill="none" stroke="#1f4470" stroke-opacity="0.26" stroke-width="0.55" stroke-linejoin="round"/>
<polygon points="321.8,228.8 325.7,225.5 330.4,224.8 335.5,226.8 334.5,231.4 329.7,234.7 325.1,235.4 321.8,232.7" fill="#8fb8e3" stroke="#8fb8e3" stroke-width="0.3"/>
<polygon points="321.8,228.8 325.7,225.5 330.4,224.8 335.5,226.8 334.5,231.4 329.7,234.7 325.1,235.4 321.8,232.7" fill="none" stroke="#1f4470" stroke-opacity="0.26" stroke-width="0.55" stroke-linejoin="round"/>
<polygon points="304.7,217.6 309.9,216.9 314.5,221.5 319.8,227.5 320.5,232.1 315.9,234.1 313.2,238.7 307.9,240.0 303.3,238.7 301.4,234.7 303.3,229.4 303.3,222.9" fill="#9dc3e6" stroke="#9dc3e6" stroke-width="0.3"/>
<polygon points="304.7,217.6 309.9,216.9 314.5,221.5 319.8,227.5 320.5,232.1 315.9,234.1 313.2,238.7 307.9,240.0 303.3,238.7 301.4,234.7 303.3,229.4 303.3,222.9" fill="none" stroke="#1f4470" stroke-opacity="0.26" stroke-width="0.55" stroke-linejoin="round"/>
<polygon points="278.1,241.4 284.1,239.9 290.1,240.7 292.3,244.4 291.6,249.6 295.3,252.6 302.0,254.1 305.0,257.8 302.0,263.1 299.0,267.5 296.0,268.3 292.3,266.0 287.8,262.3 283.3,262.3 280.4,264.6 276.6,260.8 272.9,255.6 273.6,251.9 277.4,248.9 279.6,245.1" fill="#4b88b0" stroke="#4b88b0" stroke-width="0.3"/>
<polygon points="278.1,241.4 284.1,239.9 290.1,240.7 292.3,244.4 291.6,249.6 295.3,252.6 302.0,254.1 305.0,257.8 302.0,263.1 299.0,267.5 296.0,268.3 292.3,266.0 287.8,262.3 283.3,262.3 280.4,264.6 276.6,260.8 272.9,255.6 273.6,251.9 277.4,248.9 279.6,245.1" fill="none" stroke="#1f4470" stroke-opacity="0.26" stroke-width="0.55" stroke-linejoin="round"/>
<polygon points="253.0,269.8 261.0,265.3 265.4,261.6 268.4,264.6 270.7,269.8 272.1,274.3 267.7,276.5 262.4,274.0 256.0,272.5" fill="#4b88b0" stroke="#4b88b0" stroke-width="0.3"/>
<polygon points="253.0,269.8 261.0,265.3 265.4,261.6 268.4,264.6 270.7,269.8 272.1,274.3 267.7,276.5 262.4,274.0 256.0,272.5" fill="none" stroke="#1f4470" stroke-opacity="0.26" stroke-width="0.55" stroke-linejoin="round"/>
<polygon points="297.5,271.3 299.8,267.5 304.2,266.8 308.7,269.8 311.7,272.8 309.5,276.5 305.0,279.5 301.3,281.7 296.8,281.0 298.3,276.5" fill="#4b88b0" stroke="#4b88b0" stroke-width="0.3"/>
<polygon points="297.5,271.3 299.8,267.5 304.2,266.8 308.7,269.8 311.7,272.8 309.5,276.5 305.0,279.5 301.3,281.7 296.8,281.0 298.3,276.5" fill="none" stroke="#1f4470" stroke-opacity="0.26" stroke-width="0.55" stroke-linejoin="round"/>
<polygon points="296.0,280.2 300.5,278.7 302.7,281.0 299.0,282.5" fill="#2d5a82" stroke="#2d5a82" stroke-width="0.3"/>
<polygon points="296.0,280.2 300.5,278.7 302.7,281.0 299.0,282.5" fill="none" stroke="#1f4470" stroke-opacity="0.26" stroke-width="0.55" stroke-linejoin="round"/>
<polygon points="292.3,244.4 296.0,238.4 299.8,235.4 301.3,231.0 303.5,238.4 307.2,241.4 304.2,247.4 302.0,254.1 295.3,252.6 291.6,249.6" fill="#dce7f5" stroke="#dce7f5" stroke-width="0.3"/>
<polygon points="292.3,244.4 296.0,238.4 299.8,235.4 301.3,231.0 303.5,238.4 307.2,241.4 304.2,247.4 302.0,254.1 295.3,252.6 291.6,249.6" fill="none" stroke="#1f4470" stroke-opacity="0.26" stroke-width="0.55" stroke-linejoin="round"/>
<polygon points="307.2,241.4 313.2,239.2 319.2,235.4 323.6,237.7 329.6,239.9 331.9,244.4 328.1,248.9 322.1,250.4 316.2,248.9 310.2,248.9 304.2,247.4" fill="#dce7f5" stroke="#dce7f5" stroke-width="0.3"/>
<polygon points="307.2,241.4 313.2,239.2 319.2,235.4 323.6,237.7 329.6,239.9 331.9,244.4 328.1,248.9 322.1,250.4 316.2,248.9 310.2,248.9 304.2,247.4" fill="none" stroke="#1f4470" stroke-opacity="0.26" stroke-width="0.55" stroke-linejoin="round"/>
<polygon points="316.2,254.1 322.1,251.9 328.1,250.4 331.0,255.6 328.5,260.8 323.6,264.6 319.2,266.8 314.7,269.8 311.0,266.8 306.5,263.8 310.2,260.1 314.7,258.6" fill="#dce7f5" stroke="#dce7f5" stroke-width="0.3"/>
<polygon points="316.2,254.1 322.1,251.9 328.1,250.4 331.0,255.6 328.5,260.8 323.6,264.6 319.2,266.8 314.7,269.8 311.0,266.8 306.5,263.8 310.2,260.1 314.7,258.6" fill="none" stroke="#1f4470" stroke-opacity="0.26" stroke-width="0.55" stroke-linejoin="round"/>
<polygon points="268.4,276.5 272.1,275.0 277.4,275.0 280.4,277.2 277.4,281.0 273.6,284.0 271.4,286.2 269.0,284.0 267.0,279.0" fill="#dce7f5" stroke="#dce7f5" stroke-width="0.3"/>
<polygon points="268.4,276.5 272.1,275.0 277.4,275.0 280.4,277.2 277.4,281.0 273.6,284.0 271.4,286.2 269.0,284.0 267.0,279.0" fill="none" stroke="#1f4470" stroke-opacity="0.26" stroke-width="0.55" stroke-linejoin="round"/>
<polyline points="280.4,264.6 281.9,269.8 279.6,274.3 280.4,277.2" fill="none" stroke="#1f4470" stroke-opacity="0.26" stroke-width="0.55"/>
<polyline points="287.8,262.3 289.3,268.3 287.8,272.8 290.8,276.5 287.8,281.7 287.8,297.0" fill="none" stroke="#1f4470" stroke-opacity="0.26" stroke-width="0.55"/>
<polyline points="296.0,268.3 295.3,272.8 296.8,281.0" fill="none" stroke="#1f4470" stroke-opacity="0.26" stroke-width="0.55"/>
<polyline points="280.4,277.2 284.1,280.2 287.8,281.7" fill="none" stroke="#1f4470" stroke-opacity="0.26" stroke-width="0.55"/>
<polyline points="273.6,284.0 278.1,287.7 279.6,297.0" fill="none" stroke="#1f4470" stroke-opacity="0.26" stroke-width="0.55"/>
<polyline points="301.3,281.7 302.7,284.7 298.3,287.7 296.8,297.0" fill="none" stroke="#1f4470" stroke-opacity="0.26" stroke-width="0.55"/>
<polyline points="311.7,272.8 316.2,269.8 323.6,265.3 329.6,263.1 336.0,262.0" fill="none" stroke="#1f4470" stroke-opacity="0.26" stroke-width="0.55"/>
<polyline points="305.0,257.8 306.5,263.8 304.2,266.8" fill="none" stroke="#1f4470" stroke-opacity="0.26" stroke-width="0.55"/>
<polyline points="310.2,248.9 311.0,253.4 316.2,254.1" fill="none" stroke="#1f4470" stroke-opacity="0.26" stroke-width="0.55"/>
<polyline points="305.0,257.8 311.0,253.4" fill="none" stroke="#1f4470" stroke-opacity="0.26" stroke-width="0.55"/>
<polyline points="268.4,264.6 272.9,255.6" fill="none" stroke="#1f4470" stroke-opacity="0.26" stroke-width="0.55"/>
<polyline points="270.7,269.8 276.6,260.8" fill="none" stroke="#1f4470" stroke-opacity="0.26" stroke-width="0.55"/>
<polyline points="290.2,220.2 295.4,215.6 301.4,213.6 306.6,213.0 304.7,217.6 303.3,222.9 300.0,228.1 296.1,231.4 292.1,234.7 286.9,238.7 280.3,241.3 277.6,240.0" fill="none" stroke="#1f4470" stroke-opacity="0.26" stroke-width="0.55"/>
<polyline points="300.0,228.1 301.4,234.7" fill="none" stroke="#1f4470" stroke-opacity="0.26" stroke-width="0.55"/>
<polyline points="278.1,241.4 275.0,246.0 273.6,251.9" fill="none" stroke="#1f4470" stroke-opacity="0.26" stroke-width="0.55"/>
<polyline points="324.3,196.3 328.4,197.3 334.1,198.5" fill="none" stroke="#1f4470" stroke-opacity="0.26" stroke-width="0.55"/>
<polyline points="337.6,186.7 336.4,193.5 334.1,198.5" fill="none" stroke="#1f4470" stroke-opacity="0.26" stroke-width="0.55"/>
<polyline points="337.6,186.7 339.3,191.1 341.7,195.7 342.8,203.5 345.2,209.6" fill="none" stroke="#1f4470" stroke-opacity="0.26" stroke-width="0.55"/>
<polyline points="334.1,198.5 335.9,202.9 337.6,209.1 339.9,214.7" fill="none" stroke="#1f4470" stroke-opacity="0.26" stroke-width="0.55"/>
<polyline points="334.1,198.5 328.0,201.2 321.4,203.1 320.3,204.6 324.9,212.4 328.4,216.9 331.9,223.1" fill="none" stroke="#1f4470" stroke-opacity="0.26" stroke-width="0.55"/>
<polyline points="304.1,215.1 311.5,222.9 319.6,228.8 322.9,230.7 325.0,232.9" fill="none" stroke="#1f4470" stroke-opacity="0.26" stroke-width="0.55"/>
<polyline points="330.7,225.3 326.1,228.1 324.9,232.6 329.6,235.4" fill="none" stroke="#1f4470" stroke-opacity="0.26" stroke-width="0.55"/>
<polyline points="324.9,232.6 321.4,233.8" fill="none" stroke="#1f4470" stroke-opacity="0.26" stroke-width="0.55"/>
<polyline points="299.5,232.2 301.2,227.6 304.2,223.8 304.1,215.1" fill="none" stroke="#1f4470" stroke-opacity="0.26" stroke-width="0.55"/>
</g>
<polygon points="338.0,186.5 340.3,186.8 341.8,187.6 343.0,187.8 344.9,189.1 346.1,189.4 347.8,190.6 348.3,190.9 350.2,191.7 351.0,193.7 350.9,195.6 350.7,197.4 349.5,198.9 349.4,200.0 348.3,201.9 347.9,203.0 347.6,204.6 346.9,207.2 346.1,208.6 345.2,209.8 343.8,210.7 343.6,212.3 342.2,214.2 341.3,215.1 340.5,215.9 339.1,217.4 338.1,218.4 336.5,220.1 335.3,220.9 333.8,222.6 332.2,224.0 331.8,224.6 333.1,226.0 334.4,227.1 334.0,228.1 334.2,229.8 333.6,232.3 333.2,233.8 331.6,234.6 330.5,236.2 329.9,236.8 328.7,237.9 329.4,239.3 329.6,240.9 330.5,241.6 331.1,243.4 331.8,244.0 331.7,245.5 330.9,246.4 330.0,247.6 329.8,249.4 328.9,250.8 327.9,252.1 327.8,253.2 328.3,254.3 329.5,255.8 329.8,257.1 329.1,258.8 329.1,260.0 328.5,262.2 329.9,262.8 330.5,264.8 331.1,265.5 331.9,266.5 333.7,266.9 335.3,267.5 334.0,268.2 333.8,270.1 332.4,271.5 331.4,272.3 331.3,273.5 329.8,274.0 328.6,274.7 327.9,276.2 326.4,277.1 325.9,277.8 324.9,278.9 322.7,279.8 321.4,279.9 320.7,281.4 319.3,281.7 317.8,282.9 316.7,282.9 315.2,283.4 314.1,284.5 311.8,284.0 310.8,284.9 308.8,284.2 306.9,283.9 306.3,284.7 304.2,284.9 302.8,285.5 301.7,287.0 300.2,287.5 299.3,288.9 298.0,291.0 297.6,292.0 296.0,293.4 295.8,294.3 294.3,296.1 293.1,296.9 291.5,297.0 289.8,296.9 288.0,296.0 287.2,295.3 285.5,294.7 284.6,293.3 283.4,294.5 283.4,296.3 281.9,297.2 279.3,296.5 279.4,295.0 278.4,293.8 278.0,292.0 276.9,290.5 275.7,289.0 274.7,288.1 273.3,287.6 272.6,286.1 270.8,284.9 270.1,283.2 269.0,281.7 268.8,280.4 268.1,279.5 266.5,278.1 265.6,276.5 264.8,275.9 263.6,275.1 262.3,274.0 260.6,273.5 258.9,272.6 257.6,272.0 257.3,270.9 256.4,269.4 257.1,268.9 258.5,267.5 258.7,266.5 260.2,265.5 260.9,264.7 262.1,263.8 263.2,262.7 263.8,261.5 264.9,260.3 266.0,259.6 266.3,258.5 267.8,257.2 268.2,255.9 269.7,255.3 270.2,253.6 270.7,252.8 272.1,251.3 273.8,250.2 274.6,249.3 275.8,247.6 276.7,246.8 277.3,245.6 277.5,244.1 277.8,243.2 278.0,241.6 278.6,240.1 278.3,237.8 279.3,236.5 280.3,235.2 281.4,233.6 282.2,232.9 283.7,231.3 284.7,230.9 285.6,229.5 286.2,228.3 287.4,227.2 288.6,226.5 289.4,224.9 290.7,224.2 291.8,223.2 293.0,222.2 293.7,221.4 294.4,219.7 295.8,218.5 297.2,217.4 297.9,217.0 299.4,215.3 300.8,214.6 301.9,214.1 303.0,213.5 304.6,213.6 306.4,212.5 307.8,212.3 308.9,211.6 309.8,209.9 311.0,209.1 312.4,208.3 312.8,206.5 314.1,205.7 315.7,204.6 316.0,204.6 317.8,203.5 319.0,203.7 320.1,202.6 320.7,201.2 321.4,199.8 323.1,198.6 323.3,197.5 325.0,196.6 325.6,194.6 326.6,193.6 328.5,193.0 329.2,192.3 331.1,192.0 331.6,191.5 333.2,191.0 334.0,190.0 335.5,188.5 337.1,188.0" fill="none" stroke="#1f4470" stroke-opacity="0.3" stroke-width="0.5" stroke-linejoin="round"/>
<rect x="344.4" y="106.50" width="17.0" height="8.75" fill="#dce7f5"/>
<rect x="344.4" y="115.15" width="17.0" height="8.75" fill="#9dc3e6"/>
<rect x="344.4" y="123.80" width="17.0" height="8.75" fill="#5b9bc2"/>
<rect x="344.4" y="132.45" width="17.0" height="8.75" fill="#3f7797"/>
<rect x="344.4" y="141.10" width="17.0" height="8.75" fill="#2e5b82"/>
<rect x="344.4" y="149.75" width="17.0" height="8.75" fill="#172f4d"/>
<text x="366.6" y="107.70" class="ll">0.0</text>
<text x="366.6" y="116.35" class="ll">1.0</text>
<text x="366.6" y="125.00" class="ll">2.0</text>
<text x="366.6" y="133.65" class="ll">3.0</text>
<text x="366.6" y="142.30" class="ll">4.0</text>
<text x="366.6" y="150.95" class="ll">5.0</text>
<text x="366.6" y="159.60" class="ll">7.0</text>
<text x="344.0" y="90.2" class="lt">Legend</text>
<text x="344.0" y="100.0" class="lt">(kg/ha)</text>
<rect x="341.4" y="250.60" width="16.4" height="8.33" fill="#dce7f5"/>
<rect x="341.4" y="258.83" width="16.4" height="8.33" fill="#9dc3e6"/>
<rect x="341.4" y="267.07" width="16.4" height="8.33" fill="#5b9bc2"/>
<rect x="341.4" y="275.30" width="16.4" height="8.33" fill="#3f7797"/>
<rect x="341.4" y="283.53" width="16.4" height="8.33" fill="#2e5b82"/>
<rect x="341.4" y="291.77" width="16.4" height="8.33" fill="#172f4d"/>
<text x="361.0" y="251.80" class="ll">0.0</text>
<text x="361.0" y="260.03" class="ll">0.3</text>
<text x="361.0" y="268.27" class="ll">0.6</text>
<text x="361.0" y="276.50" class="ll">0.9</text>
<text x="361.0" y="284.73" class="ll">1.2</text>
<text x="361.0" y="292.97" class="ll">1.8</text>
<text x="361.0" y="301.20" class="ll">2.3</text>
<text x="341.8" y="234.5" class="lt2">Legend</text>
<text x="341.8" y="243.8" class="lt2">(kg/ha)</text>
<rect x="310.2" y="176.2" width="41.5" height="2.0" fill="#000"/>
<rect x="331.5" y="176.7" width="19.7" height="1.0" fill="#fff"/>
<text x="310.2" y="173" text-anchor="middle" style="font-size:3.2px">0</text>
<text x="331" y="173" text-anchor="middle" style="font-size:3.2px">50</text>
<text x="351" y="173" text-anchor="middle" style="font-size:3.2px">100</text>
<text x="352.6" y="178.4" style="font-size:3.2px">km</text>
<g>
<path d="M50.6 407.2L354.8 421.0" stroke="#dba12f" stroke-width="1.05" stroke-dasharray="4 2.7" fill="none"/>
<path d="M50.6 416.8L354.8 402.2" stroke="#2f6b8f" stroke-width="1.05" stroke-dasharray="4 2.7" fill="none"/>
<polyline points="60.6,379.1 73.5,399.2 86.3,450.8 99.2,416.8 112.0,436.1 124.8,387.1 137.7,393.4 150.6,420.6 163.4,401.3 176.2,444.5 189.1,398.4 201.9,441.7 214.8,413.0 227.6,381.1 240.5,403.8 253.3,432.6 266.2,349.9 279.1,436.1 291.9,438.5 304.8,361.1 317.6,449.3 330.4,467.7 343.3,407.8" fill="none" stroke="#dba12f" stroke-width="1.05" stroke-linejoin="round"/>
<polyline points="60.6,425.6 73.5,420.6 86.3,452.8 99.2,434.8 112.0,447.8 124.8,384.6 137.7,360.7 150.6,412.6 163.4,373.7 176.2,446.6 189.1,393.0 201.9,426.6 214.8,417.0 227.6,358.7 240.5,385.8 253.3,409.8 266.2,345.1 279.1,415.4 291.9,422.6 304.8,363.9 317.6,448.9 330.4,458.9 343.3,410.6" fill="none" stroke="#2f6b8f" stroke-width="1.05" stroke-linejoin="round"/>
<circle cx="60.6" cy="379.1" r="1.5" fill="#dba12f"/>
<circle cx="73.5" cy="399.2" r="1.5" fill="#dba12f"/>
<circle cx="86.3" cy="450.8" r="1.5" fill="#dba12f"/>
<circle cx="99.2" cy="416.8" r="1.5" fill="#dba12f"/>
<circle cx="112.0" cy="436.1" r="1.5" fill="#dba12f"/>
<circle cx="124.8" cy="387.1" r="1.5" fill="#dba12f"/>
<circle cx="137.7" cy="393.4" r="1.5" fill="#dba12f"/>
<circle cx="150.6" cy="420.6" r="1.5" fill="#dba12f"/>
<circle cx="163.4" cy="401.3" r="1.5" fill="#dba12f"/>
<circle cx="176.2" cy="444.5" r="1.5" fill="#dba12f"/>
<circle cx="189.1" cy="398.4" r="1.5" fill="#dba12f"/>
<circle cx="201.9" cy="441.7" r="1.5" fill="#dba12f"/>
<circle cx="214.8" cy="413.0" r="1.5" fill="#dba12f"/>
<circle cx="227.6" cy="381.1" r="1.5" fill="#dba12f"/>
<circle cx="240.5" cy="403.8" r="1.5" fill="#dba12f"/>
<circle cx="253.3" cy="432.6" r="1.5" fill="#dba12f"/>
<circle cx="266.2" cy="349.9" r="1.5" fill="#dba12f"/>
<circle cx="279.1" cy="436.1" r="1.5" fill="#dba12f"/>
<circle cx="291.9" cy="438.5" r="1.5" fill="#dba12f"/>
<circle cx="304.8" cy="361.1" r="1.5" fill="#dba12f"/>
<circle cx="317.6" cy="449.3" r="1.5" fill="#dba12f"/>
<circle cx="330.4" cy="467.7" r="1.5" fill="#dba12f"/>
<circle cx="343.3" cy="407.8" r="1.5" fill="#dba12f"/>
<circle cx="60.6" cy="425.6" r="1.5" fill="#2f6b8f"/>
<circle cx="73.5" cy="420.6" r="1.5" fill="#2f6b8f"/>
<circle cx="86.3" cy="452.8" r="1.5" fill="#2f6b8f"/>
<circle cx="99.2" cy="434.8" r="1.5" fill="#2f6b8f"/>
<circle cx="112.0" cy="447.8" r="1.5" fill="#2f6b8f"/>
<circle cx="124.8" cy="384.6" r="1.5" fill="#2f6b8f"/>
<circle cx="137.7" cy="360.7" r="1.5" fill="#2f6b8f"/>
<circle cx="150.6" cy="412.6" r="1.5" fill="#2f6b8f"/>
<circle cx="163.4" cy="373.7" r="1.5" fill="#2f6b8f"/>
<circle cx="176.2" cy="446.6" r="1.5" fill="#2f6b8f"/>
<circle cx="189.1" cy="393.0" r="1.5" fill="#2f6b8f"/>
<circle cx="201.9" cy="426.6" r="1.5" fill="#2f6b8f"/>
<circle cx="214.8" cy="417.0" r="1.5" fill="#2f6b8f"/>
<circle cx="227.6" cy="358.7" r="1.5" fill="#2f6b8f"/>
<circle cx="240.5" cy="385.8" r="1.5" fill="#2f6b8f"/>
<circle cx="253.3" cy="409.8" r="1.5" fill="#2f6b8f"/>
<circle cx="266.2" cy="345.1" r="1.5" fill="#2f6b8f"/>
<circle cx="279.1" cy="415.4" r="1.5" fill="#2f6b8f"/>
<circle cx="291.9" cy="422.6" r="1.5" fill="#2f6b8f"/>
<circle cx="304.8" cy="363.9" r="1.5" fill="#2f6b8f"/>
<circle cx="317.6" cy="448.9" r="1.5" fill="#2f6b8f"/>
<circle cx="330.4" cy="458.9" r="1.5" fill="#2f6b8f"/>
<circle cx="343.3" cy="410.6" r="1.5" fill="#2f6b8f"/>
<path d="M50.6 332.4V484.4H354.8V332.4" fill="none" stroke="#111" stroke-width="1.05"/>
<text x="47.0" y="487.1" text-anchor="end" class="ct">0</text>
<text x="47.0" y="461.8" text-anchor="end" class="ct">3000</text>
<text x="47.0" y="436.6" text-anchor="end" class="ct">6000</text>
<text x="47.0" y="411.3" text-anchor="end" class="ct">9000</text>
<text x="47.0" y="386.1" text-anchor="end" class="ct">12000</text>
<text x="47.0" y="360.8" text-anchor="end" class="ct">15000</text>
<text x="47.0" y="335.6" text-anchor="end" class="ct">18000</text>
<text x="359.0" y="487.1" class="ct">0</text>
<text x="359.0" y="456.8" class="ct">1000</text>
<text x="359.0" y="426.5" class="ct">2000</text>
<text x="359.0" y="396.2" class="ct">3000</text>
<text x="359.0" y="365.9" class="ct">4000</text>
<text x="359.0" y="335.6" class="ct">5000</text>
<text x="60.6" y="493.3" text-anchor="middle" class="ct">2000</text>
<text x="86.3" y="493.3" text-anchor="middle" class="ct">2002</text>
<text x="112.0" y="493.3" text-anchor="middle" class="ct">2004</text>
<text x="137.7" y="493.3" text-anchor="middle" class="ct">2006</text>
<text x="163.4" y="493.3" text-anchor="middle" class="ct">2008</text>
<text x="189.1" y="493.3" text-anchor="middle" class="ct">2010</text>
<text x="214.8" y="493.3" text-anchor="middle" class="ct">2012</text>
<text x="240.5" y="493.3" text-anchor="middle" class="ct">2014</text>
<text x="266.2" y="493.3" text-anchor="middle" class="ct">2016</text>
<text x="291.9" y="493.3" text-anchor="middle" class="ct">2018</text>
<text x="317.6" y="493.3" text-anchor="middle" class="ct">2020</text>
<text x="343.3" y="493.3" text-anchor="middle" class="ct">2022</text>
<path d="M50.6 484.4h-2.6M50.6 459.1h-2.6M50.6 433.9h-2.6M50.6 408.6h-2.6M50.6 383.4h-2.6M50.6 358.1h-2.6M50.6 332.9h-2.6M354.8 484.4h2.6M354.8 454.1h2.6M354.8 423.8h2.6M354.8 393.5h2.6M354.8 363.2h2.6M354.8 332.9h2.6M60.6 484.4v2.6M73.5 484.4v1.5M86.3 484.4v2.6M99.2 484.4v1.5M112.0 484.4v2.6M124.8 484.4v1.5M137.7 484.4v2.6M150.6 484.4v1.5M163.4 484.4v2.6M176.2 484.4v1.5M189.1 484.4v2.6M201.9 484.4v1.5M214.8 484.4v2.6M227.6 484.4v1.5M240.5 484.4v2.6M253.3 484.4v1.5M266.2 484.4v2.6M279.1 484.4v1.5M291.9 484.4v2.6M304.8 484.4v1.5M317.6 484.4v2.6M330.4 484.4v1.5M343.3 484.4v2.6" stroke="#111" stroke-width="0.8" fill="none"/>
<text x="203" y="508.2" text-anchor="middle" class="cl">Date</text>
<text transform="translate(23.2 408) rotate(-90)" text-anchor="middle" class="cl">Total Nitrogen (T)</text>
<text transform="translate(391.6 408.5) rotate(-90)" text-anchor="middle" class="cl">Total Phosphorus (T)</text>
<text x="7" y="342.3" class="ml">(c)</text>
<rect x="57.5" y="319.1" width="112.1" height="37.5" fill="#fff" stroke="#222" stroke-width="0.6"/>
<path d="M59.8 323.7h17.5" stroke="#dba12f" stroke-width="1.05"/>
<circle cx="68.9" cy="323.7" r="1.45" fill="#dba12f"/>
<text x="79.5" y="326.2" class="cg">Total Nitrogen</text>
<path d="M59.8 333.2h17.5" stroke="#dba12f" stroke-width="1.05" stroke-dasharray="4 2.7"/>
<text x="79.5" y="335.7" class="cg">Total Nitrogen trend line</text>
<path d="M59.8 342.9h17.5" stroke="#2f6b8f" stroke-width="1.05"/>
<circle cx="68.9" cy="342.9" r="1.45" fill="#2f6b8f"/>
<text x="79.5" y="345.4" class="cg">Total Phosphorus</text>
<path d="M59.8 352.2h17.5" stroke="#2f6b8f" stroke-width="1.05" stroke-dasharray="4 2.7"/>
<text x="79.5" y="354.7" class="cg">Total Phosphorus trend line</text>
</g>
<g>
<path d="M433.10 111.85V103.28M434.02 111.85V78.14M434.94 111.85V91.03M435.86 111.85V100.46M436.77 111.85V103.63M437.69 111.85V98.23M438.61 111.85V94.92M439.53 111.85V90.15M440.45 111.85V103.25M441.37 111.85V103.51M442.29 111.85V93.30M443.21 111.85V94.94M444.12 111.85V86.02M445.04 111.85V91.13M445.96 111.85V98.42M446.88 111.85V99.32M447.80 111.85V78.86M448.72 111.85V99.39M449.64 111.85V101.63M450.55 111.85V102.98M451.47 111.85V61.65M452.39 111.85V97.03M453.31 111.85V99.67M454.23 111.85V98.21M455.15 111.85V96.25M456.07 111.85V93.40M456.99 111.85V90.16M457.90 111.85V31.52M458.82 111.85V105.01M459.74 111.85V93.33M460.66 111.85V103.92M461.58 111.85V98.79M462.50 111.85V104.09M463.42 111.85V97.85M464.33 111.85V101.61M465.25 111.85V12.88M466.17 111.85V78.86M467.09 111.85V98.13M468.01 111.85V92.26M468.93 111.85V103.61M469.85 111.85V99.39M470.77 111.85V93.62M471.68 111.85V98.37M472.60 111.85V95.63M473.52 111.85V97.27M474.44 111.85V102.50M475.36 111.85V94.33M476.28 111.85V101.74M477.20 111.85V73.84M478.11 111.85V100.42M479.03 111.85V93.45M479.95 111.85V97.85M480.87 111.85V91.38M481.79 111.85V100.86M482.71 111.85V91.00M483.63 111.85V98.54M484.55 111.85V88.67M485.46 111.85V93.90M486.38 111.85V97.05M487.30 111.85V101.61M488.22 111.85V92.84M489.14 111.85V94.98M490.06 111.85V84.88M490.98 111.85V78.14M491.89 111.85V94.39M492.81 111.85V94.71M493.73 111.85V96.19M494.65 111.85V96.65M495.57 111.85V96.81M496.49 111.85V100.84M497.41 111.85V102.53M498.33 111.85V99.92M499.24 111.85V94.14M500.16 111.85V86.25M501.08 111.85V91.18M502.00 111.85V90.54M502.92 111.85V92.76M503.84 111.85V93.36M504.76 111.85V96.80M505.67 111.85V92.81M506.59 111.85V83.42M507.51 111.85V99.58M508.43 111.85V101.25M509.35 111.85V81.22M510.27 111.85V96.43M511.19 111.85V91.23M512.11 111.85V92.01M513.02 111.85V102.97M513.94 111.85V78.86M514.86 111.85V83.39M515.78 111.85V96.84M516.70 111.85V92.95M517.62 111.85V97.14M518.54 111.85V102.03M519.45 111.85V98.48M520.37 111.85V95.61M521.29 111.85V90.00M522.21 111.85V93.28M523.13 111.85V56.63M524.05 111.85V87.80M524.97 111.85V101.53M525.89 111.85V92.64M526.80 111.85V90.03M527.72 111.85V99.41M528.64 111.85V105.02M529.56 111.85V102.12M530.48 111.85V96.47M531.40 111.85V94.58M532.32 111.85V85.87M533.23 111.85V102.49M534.15 111.85V97.85M535.07 111.85V93.72M535.99 111.85V98.72M536.91 111.85V106.11M537.83 111.85V92.54M538.75 111.85V78.86M539.67 111.85V90.95M540.58 111.85V72.40M541.50 111.85V99.99M542.42 111.85V96.57M543.34 111.85V78.86M544.26 111.85V93.95M545.18 111.85V72.40M546.10 111.85V85.77M547.01 111.85V98.31M547.93 111.85V82.40M548.85 111.85V101.22M549.77 111.85V100.28M550.69 111.85V93.19M551.61 111.85V87.13M552.53 111.85V93.68M553.45 111.85V96.07M554.36 111.85V105.10M555.28 111.85V101.33M556.20 111.85V100.90M557.12 111.85V100.55M558.04 111.85V94.17M558.96 111.85V99.62M559.88 111.85V92.69M560.79 111.85V97.40M561.71 111.85V99.61M562.63 111.85V97.19M563.55 111.85V95.25M564.47 111.85V92.14M565.39 111.85V75.99M566.31 111.85V99.11M567.23 111.85V103.74M568.14 111.85V85.29M569.06 111.85V86.85M569.98 111.85V98.83M570.90 111.85V100.30M571.82 111.85V103.32M572.74 111.85V96.88M573.66 111.85V96.66M574.57 111.85V74.56M575.49 111.85V96.42M576.41 111.85V101.60M577.33 111.85V106.11M578.25 111.85V87.27M579.17 111.85V96.76M580.09 111.85V104.50M581.01 111.85V96.82M581.92 111.85V104.50M582.84 111.85V78.86M583.76 111.85V89.97M584.68 111.85V79.58M585.60 111.85V98.81M586.52 111.85V105.91M587.44 111.85V98.55M588.35 111.85V104.34M589.27 111.85V94.10M590.19 111.85V70.25M591.11 111.85V102.12M592.03 111.85V89.07" stroke="#c4daef" stroke-width="0.73" fill="none"/>
<polyline points="433.10,103.38 434.02,89.98 434.94,93.87 435.86,104.70 436.77,100.19 437.69,96.71 438.61,92.12 439.53,92.72 440.45,95.22 441.37,98.83 442.29,85.51 443.21,93.76 444.12,86.38 445.04,94.99 445.96,94.16 446.88,100.73 447.80,85.43 448.72,96.67 449.64,102.93 450.55,99.47 451.47,73.84 452.39,98.91 453.31,103.69 454.23,94.39 455.15,74.56 456.07,96.71 456.99,80.29 457.90,73.12 458.82,98.02 459.74,93.48 460.66,105.15 461.58,98.55 462.50,95.63 463.42,96.21 464.33,94.79 465.25,38.70 466.17,84.31 467.09,95.94 468.01,89.36 468.93,96.50 469.85,98.71 470.77,97.59 471.68,100.02 472.60,99.05 473.52,104.67 474.44,100.45 475.36,97.40 476.28,84.60 477.20,87.77 478.11,97.33 479.03,93.68 479.95,93.49 480.87,91.47 481.79,91.71 482.71,94.58 483.63,96.52 484.55,91.85 485.46,95.95 486.38,102.99 487.30,97.33 488.22,99.80 489.14,93.32 490.06,85.41 490.98,88.23 491.89,91.10 492.81,97.38 493.73,94.14 494.65,97.53 495.57,88.37 496.49,101.47 497.41,101.33 498.33,97.34 499.24,100.01 500.16,90.16 501.08,92.84 502.00,90.47 502.92,94.55 503.84,86.44 504.76,88.44 505.67,88.26 506.59,83.16 507.51,95.68 508.43,91.14 509.35,85.84 510.27,97.99 511.19,87.34 512.11,89.42 513.02,100.42 513.94,87.52 514.86,91.97 515.78,101.24 516.70,79.58 517.62,95.54 518.54,102.93 519.45,98.36 520.37,89.63 521.29,95.78 522.21,95.19 523.13,67.38 524.05,90.92 524.97,94.03 525.89,90.00 526.80,93.64 527.72,95.59 528.64,101.49 529.56,98.20 530.48,95.11 531.40,91.97 532.32,85.58 533.23,103.47 534.15,85.31 535.07,96.96 535.99,102.80 536.91,104.69 537.83,96.53 538.75,85.40 539.67,96.13 540.58,86.36 541.50,101.12 542.42,90.70 543.34,85.91 544.26,98.11 545.18,84.11 546.10,86.90 547.01,85.60 547.93,84.07 548.85,103.80 549.77,100.43 550.69,96.26 551.61,91.39 552.53,103.31 553.45,95.07 554.36,103.74 555.28,100.58 556.20,95.54 557.12,97.62 558.04,97.30 558.96,97.44 559.88,94.81 560.79,98.17 561.71,98.50 562.63,104.34 563.55,89.49 564.47,90.48 565.39,73.84 566.31,101.89 567.23,106.46 568.14,91.05 569.06,89.08 569.98,99.99 570.90,99.81 571.82,105.14 572.74,96.60 573.66,93.26 574.57,88.69 575.49,84.60 576.41,98.23 577.33,102.42 578.25,86.95 579.17,96.89 580.09,105.32 581.01,103.56 581.92,78.86 582.84,85.12 583.76,86.72 584.68,81.73 585.60,106.39 586.52,105.91 587.44,97.77 588.35,105.06 589.27,98.78 590.19,70.97 591.11,103.19 592.03,92.52" fill="none" stroke="#f0a43a" stroke-width="0.9" stroke-linejoin="round"/>
<path d="M433.10 103.38h0.01M434.02 89.98h0.01M434.94 93.87h0.01M435.86 104.70h0.01M436.77 100.19h0.01M437.69 96.71h0.01M438.61 92.12h0.01M439.53 92.72h0.01M440.45 95.22h0.01M441.37 98.83h0.01M442.29 85.51h0.01M443.21 93.76h0.01M444.12 86.38h0.01M445.04 94.99h0.01M445.96 94.16h0.01M446.88 100.73h0.01M447.80 85.43h0.01M448.72 96.67h0.01M449.64 102.93h0.01M450.55 99.47h0.01M451.47 73.84h0.01M452.39 98.91h0.01M453.31 103.69h0.01M454.23 94.39h0.01M455.15 74.56h0.01M456.07 96.71h0.01M456.99 80.29h0.01M457.90 73.12h0.01M458.82 98.02h0.01M459.74 93.48h0.01M460.66 105.15h0.01M461.58 98.55h0.01M462.50 95.63h0.01M463.42 96.21h0.01M464.33 94.79h0.01M465.25 38.70h0.01M466.17 84.31h0.01M467.09 95.94h0.01M468.01 89.36h0.01M468.93 96.50h0.01M469.85 98.71h0.01M470.77 97.59h0.01M471.68 100.02h0.01M472.60 99.05h0.01M473.52 104.67h0.01M474.44 100.45h0.01M475.36 97.40h0.01M476.28 84.60h0.01M477.20 87.77h0.01M478.11 97.33h0.01M479.03 93.68h0.01M479.95 93.49h0.01M480.87 91.47h0.01M481.79 91.71h0.01M482.71 94.58h0.01M483.63 96.52h0.01M484.55 91.85h0.01M485.46 95.95h0.01M486.38 102.99h0.01M487.30 97.33h0.01M488.22 99.80h0.01M489.14 93.32h0.01M490.06 85.41h0.01M490.98 88.23h0.01M491.89 91.10h0.01M492.81 97.38h0.01M493.73 94.14h0.01M494.65 97.53h0.01M495.57 88.37h0.01M496.49 101.47h0.01M497.41 101.33h0.01M498.33 97.34h0.01M499.24 100.01h0.01M500.16 90.16h0.01M501.08 92.84h0.01M502.00 90.47h0.01M502.92 94.55h0.01M503.84 86.44h0.01M504.76 88.44h0.01M505.67 88.26h0.01M506.59 83.16h0.01M507.51 95.68h0.01M508.43 91.14h0.01M509.35 85.84h0.01M510.27 97.99h0.01M511.19 87.34h0.01M512.11 89.42h0.01M513.02 100.42h0.01M513.94 87.52h0.01M514.86 91.97h0.01M515.78 101.24h0.01M516.70 79.58h0.01M517.62 95.54h0.01M518.54 102.93h0.01M519.45 98.36h0.01M520.37 89.63h0.01M521.29 95.78h0.01M522.21 95.19h0.01M523.13 67.38h0.01M524.05 90.92h0.01M524.97 94.03h0.01M525.89 90.00h0.01M526.80 93.64h0.01M527.72 95.59h0.01M528.64 101.49h0.01M529.56 98.20h0.01M530.48 95.11h0.01M531.40 91.97h0.01M532.32 85.58h0.01M533.23 103.47h0.01M534.15 85.31h0.01M535.07 96.96h0.01M535.99 102.80h0.01M536.91 104.69h0.01M537.83 96.53h0.01M538.75 85.40h0.01M539.67 96.13h0.01M540.58 86.36h0.01M541.50 101.12h0.01M542.42 90.70h0.01M543.34 85.91h0.01M544.26 98.11h0.01M545.18 84.11h0.01M546.10 86.90h0.01M547.01 85.60h0.01M547.93 84.07h0.01M548.85 103.80h0.01M549.77 100.43h0.01M550.69 96.26h0.01M551.61 91.39h0.01M552.53 103.31h0.01M553.45 95.07h0.01M554.36 103.74h0.01M555.28 100.58h0.01M556.20 95.54h0.01M557.12 97.62h0.01M558.04 97.30h0.01M558.96 97.44h0.01M559.88 94.81h0.01M560.79 98.17h0.01M561.71 98.50h0.01M562.63 104.34h0.01M563.55 89.49h0.01M564.47 90.48h0.01M565.39 73.84h0.01M566.31 101.89h0.01M567.23 106.46h0.01M568.14 91.05h0.01M569.06 89.08h0.01M569.98 99.99h0.01M570.90 99.81h0.01M571.82 105.14h0.01M572.74 96.60h0.01M573.66 93.26h0.01M574.57 88.69h0.01M575.49 84.60h0.01M576.41 98.23h0.01M577.33 102.42h0.01M578.25 86.95h0.01M579.17 96.89h0.01M580.09 105.32h0.01M581.01 103.56h0.01M581.92 78.86h0.01M582.84 85.12h0.01M583.76 86.72h0.01M584.68 81.73h0.01M585.60 106.39h0.01M586.52 105.91h0.01M587.44 97.77h0.01M588.35 105.06h0.01M589.27 98.78h0.01M590.19 70.97h0.01M591.11 103.19h0.01M592.03 92.52h0.01" stroke="#8f7658" stroke-width="2.7" stroke-linecap="round" fill="none"/>
<path d="M433.10 103.38h0.01M434.02 89.98h0.01M434.94 93.87h0.01M435.86 104.70h0.01M436.77 100.19h0.01M437.69 96.71h0.01M438.61 92.12h0.01M439.53 92.72h0.01M440.45 95.22h0.01M441.37 98.83h0.01M442.29 85.51h0.01M443.21 93.76h0.01M444.12 86.38h0.01M445.04 94.99h0.01M445.96 94.16h0.01M446.88 100.73h0.01M447.80 85.43h0.01M448.72 96.67h0.01M449.64 102.93h0.01M450.55 99.47h0.01M451.47 73.84h0.01M452.39 98.91h0.01M453.31 103.69h0.01M454.23 94.39h0.01M455.15 74.56h0.01M456.07 96.71h0.01M456.99 80.29h0.01M457.90 73.12h0.01M458.82 98.02h0.01M459.74 93.48h0.01M460.66 105.15h0.01M461.58 98.55h0.01M462.50 95.63h0.01M463.42 96.21h0.01M464.33 94.79h0.01M465.25 38.70h0.01M466.17 84.31h0.01M467.09 95.94h0.01M468.01 89.36h0.01M468.93 96.50h0.01M469.85 98.71h0.01M470.77 97.59h0.01M471.68 100.02h0.01M472.60 99.05h0.01M473.52 104.67h0.01M474.44 100.45h0.01M475.36 97.40h0.01M476.28 84.60h0.01M477.20 87.77h0.01M478.11 97.33h0.01M479.03 93.68h0.01M479.95 93.49h0.01M480.87 91.47h0.01M481.79 91.71h0.01M482.71 94.58h0.01M483.63 96.52h0.01M484.55 91.85h0.01M485.46 95.95h0.01M486.38 102.99h0.01M487.30 97.33h0.01M488.22 99.80h0.01M489.14 93.32h0.01M490.06 85.41h0.01M490.98 88.23h0.01M491.89 91.10h0.01M492.81 97.38h0.01M493.73 94.14h0.01M494.65 97.53h0.01M495.57 88.37h0.01M496.49 101.47h0.01M497.41 101.33h0.01M498.33 97.34h0.01M499.24 100.01h0.01M500.16 90.16h0.01M501.08 92.84h0.01M502.00 90.47h0.01M502.92 94.55h0.01M503.84 86.44h0.01M504.76 88.44h0.01M505.67 88.26h0.01M506.59 83.16h0.01M507.51 95.68h0.01M508.43 91.14h0.01M509.35 85.84h0.01M510.27 97.99h0.01M511.19 87.34h0.01M512.11 89.42h0.01M513.02 100.42h0.01M513.94 87.52h0.01M514.86 91.97h0.01M515.78 101.24h0.01M516.70 79.58h0.01M517.62 95.54h0.01M518.54 102.93h0.01M519.45 98.36h0.01M520.37 89.63h0.01M521.29 95.78h0.01M522.21 95.19h0.01M523.13 67.38h0.01M524.05 90.92h0.01M524.97 94.03h0.01M525.89 90.00h0.01M526.80 93.64h0.01M527.72 95.59h0.01M528.64 101.49h0.01M529.56 98.20h0.01M530.48 95.11h0.01M531.40 91.97h0.01M532.32 85.58h0.01M533.23 103.47h0.01M534.15 85.31h0.01M535.07 96.96h0.01M535.99 102.80h0.01M536.91 104.69h0.01M537.83 96.53h0.01M538.75 85.40h0.01M539.67 96.13h0.01M540.58 86.36h0.01M541.50 101.12h0.01M542.42 90.70h0.01M543.34 85.91h0.01M544.26 98.11h0.01M545.18 84.11h0.01M546.10 86.90h0.01M547.01 85.60h0.01M547.93 84.07h0.01M548.85 103.80h0.01M549.77 100.43h0.01M550.69 96.26h0.01M551.61 91.39h0.01M552.53 103.31h0.01M553.45 95.07h0.01M554.36 103.74h0.01M555.28 100.58h0.01M556.20 95.54h0.01M557.12 97.62h0.01M558.04 97.30h0.01M558.96 97.44h0.01M559.88 94.81h0.01M560.79 98.17h0.01M561.71 98.50h0.01M562.63 104.34h0.01M563.55 89.49h0.01M564.47 90.48h0.01M565.39 73.84h0.01M566.31 101.89h0.01M567.23 106.46h0.01M568.14 91.05h0.01M569.06 89.08h0.01M569.98 99.99h0.01M570.90 99.81h0.01M571.82 105.14h0.01M572.74 96.60h0.01M573.66 93.26h0.01M574.57 88.69h0.01M575.49 84.60h0.01M576.41 98.23h0.01M577.33 102.42h0.01M578.25 86.95h0.01M579.17 96.89h0.01M580.09 105.32h0.01M581.01 103.56h0.01M581.92 78.86h0.01M582.84 85.12h0.01M583.76 86.72h0.01M584.68 81.73h0.01M585.60 106.39h0.01M586.52 105.91h0.01M587.44 97.77h0.01M588.35 105.06h0.01M589.27 98.78h0.01M590.19 70.97h0.01M591.11 103.19h0.01M592.03 92.52h0.01" stroke="#f3a440" stroke-width="1.6" stroke-linecap="round" fill="none"/>
<rect x="424.65" y="7.20" width="175.80" height="104.65" fill="none" stroke="#b0b0b0" stroke-width="1.15"/>
<text x="423.15" y="114.25" text-anchor="end" class="pt">0.0</text>
<text x="423.15" y="96.32" text-anchor="end" class="pt">2.5</text>
<text x="423.15" y="78.39" text-anchor="end" class="pt">5.0</text>
<text x="423.15" y="60.46" text-anchor="end" class="pt">7.5</text>
<text x="423.15" y="42.53" text-anchor="end" class="pt">10.0</text>
<text x="423.15" y="24.60" text-anchor="end" class="pt">12.5</text>
<text x="433.10" y="118.25" text-anchor="middle" class="pt">0</text>
<text x="479.03" y="118.25" text-anchor="middle" class="pt">50</text>
<text x="524.97" y="118.25" text-anchor="middle" class="pt">100</text>
<text x="570.90" y="118.25" text-anchor="middle" class="pt">150</text>
<path d="M424.65 111.85h-2M424.65 93.92h-2M424.65 75.99h-2M424.65 58.06h-2M424.65 40.13h-2M424.65 22.20h-2M433.10 111.85v2M479.03 111.85v2M524.97 111.85v2M570.90 111.85v2" stroke="#333" stroke-width="0.6" fill="none"/>
<text x="512.55" y="125.45" text-anchor="middle" class="pl">Sample Points</text>
<text transform="translate(407.85 59.52) rotate(-90)" text-anchor="middle" class="pl">TN (kg/ha)</text>
<text x="426.85" y="14.80" class="pn">(a)</text>
<rect x="575.85" y="8.00" width="23.30" height="10.00" rx="0.8" fill="#fff" fill-opacity="0.8" stroke="#e4e4e4" stroke-width="0.4"/>
<path d="M577.05 11.30h7.4" stroke="#f0a43a" stroke-width="0.7" stroke-dasharray="2.5 2.4 2.5"/>
<circle cx="580.75" cy="11.30" r="0.95" fill="#f0a43a" stroke="#8f7658" stroke-width="0.45"/>
<rect x="577.05" y="14.60" width="7.4" height="1.9" fill="#b9d3ec"/>
<text x="587.05" y="12.30" class="lg">Xgboost</text>
<text x="587.05" y="16.50" class="lg">Real</text>
</g>
<g>
<path d="M638.80 111.85V103.28M639.71 111.85V78.14M640.63 111.85V91.03M641.54 111.85V100.46M642.46 111.85V103.63M643.37 111.85V98.23M644.29 111.85V94.92M645.20 111.85V90.15M646.12 111.85V103.25M647.03 111.85V103.51M647.95 111.85V93.30M648.86 111.85V94.94M649.78 111.85V86.02M650.69 111.85V91.13M651.61 111.85V98.42M652.52 111.85V99.32M653.43 111.85V78.86M654.35 111.85V99.39M655.26 111.85V101.63M656.18 111.85V102.98M657.09 111.85V61.65M658.01 111.85V97.03M658.92 111.85V99.67M659.84 111.85V98.21M660.75 111.85V96.25M661.67 111.85V93.40M662.58 111.85V90.16M663.50 111.85V31.52M664.41 111.85V105.01M665.33 111.85V93.33M666.24 111.85V103.92M667.15 111.85V98.79M668.07 111.85V104.09M668.98 111.85V97.85M669.90 111.85V101.61M670.81 111.85V12.88M671.73 111.85V78.86M672.64 111.85V98.13M673.56 111.85V92.26M674.47 111.85V103.61M675.39 111.85V99.39M676.30 111.85V93.62M677.22 111.85V98.37M678.13 111.85V95.63M679.05 111.85V97.27M679.96 111.85V102.50M680.87 111.85V94.33M681.79 111.85V101.74M682.70 111.85V73.84M683.62 111.85V100.42M684.53 111.85V93.45M685.45 111.85V97.85M686.36 111.85V91.38M687.28 111.85V100.86M688.19 111.85V91.00M689.11 111.85V98.54M690.02 111.85V88.67M690.94 111.85V93.90M691.85 111.85V97.05M692.77 111.85V101.61M693.68 111.85V92.84M694.59 111.85V94.98M695.51 111.85V84.88M696.42 111.85V78.14M697.34 111.85V94.39M698.25 111.85V94.71M699.17 111.85V96.19M700.08 111.85V96.65M701.00 111.85V96.81M701.91 111.85V100.84M702.83 111.85V102.53M703.74 111.85V99.92M704.66 111.85V94.14M705.57 111.85V86.25M706.49 111.85V91.18M707.40 111.85V90.54M708.31 111.85V92.76M709.23 111.85V93.36M710.14 111.85V96.80M711.06 111.85V92.81M711.97 111.85V83.42M712.89 111.85V99.58M713.80 111.85V101.25M714.72 111.85V81.22M715.63 111.85V96.43M716.55 111.85V91.23M717.46 111.85V92.01M718.38 111.85V102.97M719.29 111.85V78.86M720.21 111.85V83.39M721.12 111.85V96.84M722.03 111.85V92.95M722.95 111.85V97.14M723.86 111.85V102.03M724.78 111.85V98.48M725.69 111.85V95.61M726.61 111.85V90.00M727.52 111.85V93.28M728.44 111.85V56.63M729.35 111.85V87.80M730.27 111.85V101.53M731.18 111.85V92.64M732.10 111.85V90.03M733.01 111.85V99.41M733.93 111.85V105.02M734.84 111.85V102.12M735.75 111.85V96.47M736.67 111.85V94.58M737.58 111.85V85.87M738.50 111.85V102.49M739.41 111.85V97.85M740.33 111.85V93.72M741.24 111.85V98.72M742.16 111.85V106.11M743.07 111.85V92.54M743.99 111.85V78.86M744.90 111.85V90.95M745.82 111.85V72.40M746.73 111.85V99.99M747.65 111.85V96.57M748.56 111.85V78.86M749.47 111.85V93.95M750.39 111.85V72.40M751.30 111.85V85.77M752.22 111.85V98.31M753.13 111.85V82.40M754.05 111.85V101.22M754.96 111.85V100.28M755.88 111.85V93.19M756.79 111.85V87.13M757.71 111.85V93.68M758.62 111.85V96.07M759.54 111.85V105.10M760.45 111.85V101.33M761.37 111.85V100.90M762.28 111.85V100.55M763.19 111.85V94.17M764.11 111.85V99.62M765.02 111.85V92.69M765.94 111.85V97.40M766.85 111.85V99.61M767.77 111.85V97.19M768.68 111.85V95.25M769.60 111.85V92.14M770.51 111.85V75.99M771.43 111.85V99.11M772.34 111.85V103.74M773.26 111.85V85.29M774.17 111.85V86.85M775.09 111.85V98.83M776.00 111.85V100.30M776.91 111.85V103.32M777.83 111.85V96.88M778.74 111.85V96.66M779.66 111.85V74.56M780.57 111.85V96.42M781.49 111.85V101.60M782.40 111.85V106.11M783.32 111.85V87.27M784.23 111.85V96.76M785.15 111.85V104.50M786.06 111.85V96.82M786.98 111.85V104.50M787.89 111.85V78.86M788.81 111.85V89.97M789.72 111.85V79.58M790.63 111.85V98.81M791.55 111.85V105.91M792.46 111.85V98.55M793.38 111.85V104.34M794.29 111.85V94.10M795.21 111.85V70.25M796.12 111.85V102.12M797.04 111.85V89.07" stroke="#c4daef" stroke-width="0.73" fill="none"/>
<polyline points="638.80,97.86 639.71,85.98 640.63,86.48 641.54,102.03 642.46,103.82 643.37,101.10 644.29,98.28 645.20,86.60 646.12,99.80 647.03,104.78 647.95,96.90 648.86,90.19 649.78,92.59 650.69,94.04 651.61,95.50 652.52,93.16 653.43,85.27 654.35,103.23 655.26,104.23 656.18,99.23 657.09,74.56 658.01,93.07 658.92,94.06 659.84,101.33 660.75,81.73 661.67,80.29 662.58,89.55 663.50,61.65 664.41,106.69 665.33,97.27 666.24,99.93 667.15,95.76 668.07,103.04 668.98,95.66 669.90,94.79 670.81,48.74 671.73,86.78 672.64,98.78 673.56,96.90 674.47,105.94 675.39,103.22 676.30,103.28 677.22,95.65 678.13,100.61 679.05,94.81 679.96,96.48 680.87,98.80 681.79,105.00 682.70,88.82 683.62,104.14 684.53,97.23 685.45,100.45 686.36,87.43 687.28,100.09 688.19,99.37 689.11,92.03 690.02,87.89 690.94,94.92 691.85,89.45 692.77,96.44 693.68,90.41 694.59,97.51 695.51,87.50 696.42,85.65 697.34,95.46 698.25,100.20 699.17,93.93 700.08,95.40 701.00,92.25 701.91,96.48 702.83,97.03 703.74,98.39 704.66,92.66 705.57,90.08 706.49,90.60 707.40,89.91 708.31,91.70 709.23,96.68 710.14,94.55 711.06,93.82 711.97,90.27 712.89,81.01 713.80,97.06 714.72,86.47 715.63,89.76 716.55,90.76 717.46,88.46 718.38,98.30 719.29,89.76 720.21,93.58 721.12,94.51 722.03,81.73 722.95,98.72 723.86,98.17 724.78,96.19 725.69,94.39 726.61,94.95 727.52,88.22 728.44,69.54 729.35,91.67 730.27,96.64 731.18,92.99 732.10,90.07 733.01,92.61 733.93,105.07 734.84,105.86 735.75,105.62 736.67,97.49 737.58,91.48 738.50,98.89 739.41,99.75 740.33,83.16 741.24,103.96 742.16,102.31 743.07,94.10 743.99,90.12 744.90,89.16 745.82,86.41 746.73,101.35 747.65,88.94 748.56,89.57 749.47,95.27 750.39,86.48 751.30,90.21 752.22,97.38 753.13,87.51 754.05,99.28 754.96,99.85 755.88,88.62 756.79,84.97 757.71,96.00 758.62,94.31 759.54,102.91 760.45,99.33 761.37,105.94 762.28,98.12 763.19,94.54 764.11,103.40 765.02,93.38 765.94,100.34 766.85,100.94 767.77,97.77 768.68,86.67 769.60,88.35 770.51,77.42 771.43,93.14 772.34,102.74 773.26,85.91 774.17,86.69 775.09,99.38 776.00,101.04 776.91,100.30 777.83,95.11 778.74,91.32 779.66,84.67 780.57,87.86 781.49,97.48 782.40,100.56 783.32,92.77 784.23,95.59 785.15,99.19 786.06,96.92 786.98,81.01 787.89,87.14 788.81,87.31 789.72,81.01 790.63,93.91 791.55,103.69 792.46,99.17 793.38,96.25 794.29,92.21 795.21,78.14 796.12,105.51 797.04,84.54" fill="none" stroke="#f0a43a" stroke-width="0.9" stroke-linejoin="round"/>
<path d="M638.80 97.86h0.01M639.71 85.98h0.01M640.63 86.48h0.01M641.54 102.03h0.01M642.46 103.82h0.01M643.37 101.10h0.01M644.29 98.28h0.01M645.20 86.60h0.01M646.12 99.80h0.01M647.03 104.78h0.01M647.95 96.90h0.01M648.86 90.19h0.01M649.78 92.59h0.01M650.69 94.04h0.01M651.61 95.50h0.01M652.52 93.16h0.01M653.43 85.27h0.01M654.35 103.23h0.01M655.26 104.23h0.01M656.18 99.23h0.01M657.09 74.56h0.01M658.01 93.07h0.01M658.92 94.06h0.01M659.84 101.33h0.01M660.75 81.73h0.01M661.67 80.29h0.01M662.58 89.55h0.01M663.50 61.65h0.01M664.41 106.69h0.01M665.33 97.27h0.01M666.24 99.93h0.01M667.15 95.76h0.01M668.07 103.04h0.01M668.98 95.66h0.01M669.90 94.79h0.01M670.81 48.74h0.01M671.73 86.78h0.01M672.64 98.78h0.01M673.56 96.90h0.01M674.47 105.94h0.01M675.39 103.22h0.01M676.30 103.28h0.01M677.22 95.65h0.01M678.13 100.61h0.01M679.05 94.81h0.01M679.96 96.48h0.01M680.87 98.80h0.01M681.79 105.00h0.01M682.70 88.82h0.01M683.62 104.14h0.01M684.53 97.23h0.01M685.45 100.45h0.01M686.36 87.43h0.01M687.28 100.09h0.01M688.19 99.37h0.01M689.11 92.03h0.01M690.02 87.89h0.01M690.94 94.92h0.01M691.85 89.45h0.01M692.77 96.44h0.01M693.68 90.41h0.01M694.59 97.51h0.01M695.51 87.50h0.01M696.42 85.65h0.01M697.34 95.46h0.01M698.25 100.20h0.01M699.17 93.93h0.01M700.08 95.40h0.01M701.00 92.25h0.01M701.91 96.48h0.01M702.83 97.03h0.01M703.74 98.39h0.01M704.66 92.66h0.01M705.57 90.08h0.01M706.49 90.60h0.01M707.40 89.91h0.01M708.31 91.70h0.01M709.23 96.68h0.01M710.14 94.55h0.01M711.06 93.82h0.01M711.97 90.27h0.01M712.89 81.01h0.01M713.80 97.06h0.01M714.72 86.47h0.01M715.63 89.76h0.01M716.55 90.76h0.01M717.46 88.46h0.01M718.38 98.30h0.01M719.29 89.76h0.01M720.21 93.58h0.01M721.12 94.51h0.01M722.03 81.73h0.01M722.95 98.72h0.01M723.86 98.17h0.01M724.78 96.19h0.01M725.69 94.39h0.01M726.61 94.95h0.01M727.52 88.22h0.01M728.44 69.54h0.01M729.35 91.67h0.01M730.27 96.64h0.01M731.18 92.99h0.01M732.10 90.07h0.01M733.01 92.61h0.01M733.93 105.07h0.01M734.84 105.86h0.01M735.75 105.62h0.01M736.67 97.49h0.01M737.58 91.48h0.01M738.50 98.89h0.01M739.41 99.75h0.01M740.33 83.16h0.01M741.24 103.96h0.01M742.16 102.31h0.01M743.07 94.10h0.01M743.99 90.12h0.01M744.90 89.16h0.01M745.82 86.41h0.01M746.73 101.35h0.01M747.65 88.94h0.01M748.56 89.57h0.01M749.47 95.27h0.01M750.39 86.48h0.01M751.30 90.21h0.01M752.22 97.38h0.01M753.13 87.51h0.01M754.05 99.28h0.01M754.96 99.85h0.01M755.88 88.62h0.01M756.79 84.97h0.01M757.71 96.00h0.01M758.62 94.31h0.01M759.54 102.91h0.01M760.45 99.33h0.01M761.37 105.94h0.01M762.28 98.12h0.01M763.19 94.54h0.01M764.11 103.40h0.01M765.02 93.38h0.01M765.94 100.34h0.01M766.85 100.94h0.01M767.77 97.77h0.01M768.68 86.67h0.01M769.60 88.35h0.01M770.51 77.42h0.01M771.43 93.14h0.01M772.34 102.74h0.01M773.26 85.91h0.01M774.17 86.69h0.01M775.09 99.38h0.01M776.00 101.04h0.01M776.91 100.30h0.01M777.83 95.11h0.01M778.74 91.32h0.01M779.66 84.67h0.01M780.57 87.86h0.01M781.49 97.48h0.01M782.40 100.56h0.01M783.32 92.77h0.01M784.23 95.59h0.01M785.15 99.19h0.01M786.06 96.92h0.01M786.98 81.01h0.01M787.89 87.14h0.01M788.81 87.31h0.01M789.72 81.01h0.01M790.63 93.91h0.01M791.55 103.69h0.01M792.46 99.17h0.01M793.38 96.25h0.01M794.29 92.21h0.01M795.21 78.14h0.01M796.12 105.51h0.01M797.04 84.54h0.01" stroke="#8f7658" stroke-width="2.7" stroke-linecap="round" fill="none"/>
<path d="M638.80 97.86h0.01M639.71 85.98h0.01M640.63 86.48h0.01M641.54 102.03h0.01M642.46 103.82h0.01M643.37 101.10h0.01M644.29 98.28h0.01M645.20 86.60h0.01M646.12 99.80h0.01M647.03 104.78h0.01M647.95 96.90h0.01M648.86 90.19h0.01M649.78 92.59h0.01M650.69 94.04h0.01M651.61 95.50h0.01M652.52 93.16h0.01M653.43 85.27h0.01M654.35 103.23h0.01M655.26 104.23h0.01M656.18 99.23h0.01M657.09 74.56h0.01M658.01 93.07h0.01M658.92 94.06h0.01M659.84 101.33h0.01M660.75 81.73h0.01M661.67 80.29h0.01M662.58 89.55h0.01M663.50 61.65h0.01M664.41 106.69h0.01M665.33 97.27h0.01M666.24 99.93h0.01M667.15 95.76h0.01M668.07 103.04h0.01M668.98 95.66h0.01M669.90 94.79h0.01M670.81 48.74h0.01M671.73 86.78h0.01M672.64 98.78h0.01M673.56 96.90h0.01M674.47 105.94h0.01M675.39 103.22h0.01M676.30 103.28h0.01M677.22 95.65h0.01M678.13 100.61h0.01M679.05 94.81h0.01M679.96 96.48h0.01M680.87 98.80h0.01M681.79 105.00h0.01M682.70 88.82h0.01M683.62 104.14h0.01M684.53 97.23h0.01M685.45 100.45h0.01M686.36 87.43h0.01M687.28 100.09h0.01M688.19 99.37h0.01M689.11 92.03h0.01M690.02 87.89h0.01M690.94 94.92h0.01M691.85 89.45h0.01M692.77 96.44h0.01M693.68 90.41h0.01M694.59 97.51h0.01M695.51 87.50h0.01M696.42 85.65h0.01M697.34 95.46h0.01M698.25 100.20h0.01M699.17 93.93h0.01M700.08 95.40h0.01M701.00 92.25h0.01M701.91 96.48h0.01M702.83 97.03h0.01M703.74 98.39h0.01M704.66 92.66h0.01M705.57 90.08h0.01M706.49 90.60h0.01M707.40 89.91h0.01M708.31 91.70h0.01M709.23 96.68h0.01M710.14 94.55h0.01M711.06 93.82h0.01M711.97 90.27h0.01M712.89 81.01h0.01M713.80 97.06h0.01M714.72 86.47h0.01M715.63 89.76h0.01M716.55 90.76h0.01M717.46 88.46h0.01M718.38 98.30h0.01M719.29 89.76h0.01M720.21 93.58h0.01M721.12 94.51h0.01M722.03 81.73h0.01M722.95 98.72h0.01M723.86 98.17h0.01M724.78 96.19h0.01M725.69 94.39h0.01M726.61 94.95h0.01M727.52 88.22h0.01M728.44 69.54h0.01M729.35 91.67h0.01M730.27 96.64h0.01M731.18 92.99h0.01M732.10 90.07h0.01M733.01 92.61h0.01M733.93 105.07h0.01M734.84 105.86h0.01M735.75 105.62h0.01M736.67 97.49h0.01M737.58 91.48h0.01M738.50 98.89h0.01M739.41 99.75h0.01M740.33 83.16h0.01M741.24 103.96h0.01M742.16 102.31h0.01M743.07 94.10h0.01M743.99 90.12h0.01M744.90 89.16h0.01M745.82 86.41h0.01M746.73 101.35h0.01M747.65 88.94h0.01M748.56 89.57h0.01M749.47 95.27h0.01M750.39 86.48h0.01M751.30 90.21h0.01M752.22 97.38h0.01M753.13 87.51h0.01M754.05 99.28h0.01M754.96 99.85h0.01M755.88 88.62h0.01M756.79 84.97h0.01M757.71 96.00h0.01M758.62 94.31h0.01M759.54 102.91h0.01M760.45 99.33h0.01M761.37 105.94h0.01M762.28 98.12h0.01M763.19 94.54h0.01M764.11 103.40h0.01M765.02 93.38h0.01M765.94 100.34h0.01M766.85 100.94h0.01M767.77 97.77h0.01M768.68 86.67h0.01M769.60 88.35h0.01M770.51 77.42h0.01M771.43 93.14h0.01M772.34 102.74h0.01M773.26 85.91h0.01M774.17 86.69h0.01M775.09 99.38h0.01M776.00 101.04h0.01M776.91 100.30h0.01M777.83 95.11h0.01M778.74 91.32h0.01M779.66 84.67h0.01M780.57 87.86h0.01M781.49 97.48h0.01M782.40 100.56h0.01M783.32 92.77h0.01M784.23 95.59h0.01M785.15 99.19h0.01M786.06 96.92h0.01M786.98 81.01h0.01M787.89 87.14h0.01M788.81 87.31h0.01M789.72 81.01h0.01M790.63 93.91h0.01M791.55 103.69h0.01M792.46 99.17h0.01M793.38 96.25h0.01M794.29 92.21h0.01M795.21 78.14h0.01M796.12 105.51h0.01M797.04 84.54h0.01" stroke="#f3a440" stroke-width="1.6" stroke-linecap="round" fill="none"/>
<rect x="630.50" y="7.20" width="176.00" height="104.65" fill="none" stroke="#b0b0b0" stroke-width="1.15"/>
<text x="629.00" y="114.25" text-anchor="end" class="pt">0.0</text>
<text x="629.00" y="96.32" text-anchor="end" class="pt">2.5</text>
<text x="629.00" y="78.39" text-anchor="end" class="pt">5.0</text>
<text x="629.00" y="60.46" text-anchor="end" class="pt">7.5</text>
<text x="629.00" y="42.53" text-anchor="end" class="pt">10.0</text>
<text x="629.00" y="24.60" text-anchor="end" class="pt">12.5</text>
<text x="638.80" y="118.25" text-anchor="middle" class="pt">0</text>
<text x="684.53" y="118.25" text-anchor="middle" class="pt">50</text>
<text x="730.27" y="118.25" text-anchor="middle" class="pt">100</text>
<text x="776.00" y="118.25" text-anchor="middle" class="pt">150</text>
<path d="M630.50 111.85h-2M630.50 93.92h-2M630.50 75.99h-2M630.50 58.06h-2M630.50 40.13h-2M630.50 22.20h-2M638.80 111.85v2M684.53 111.85v2M730.27 111.85v2M776.00 111.85v2" stroke="#333" stroke-width="0.6" fill="none"/>
<text x="718.50" y="125.45" text-anchor="middle" class="pl">Sample Points</text>
<text transform="translate(613.70 59.52) rotate(-90)" text-anchor="middle" class="pl">TN (kg/ha)</text>
<text x="632.70" y="14.80" class="pn">(b)</text>
<rect x="781.00" y="8.00" width="24.20" height="10.00" rx="0.8" fill="#fff" fill-opacity="0.8" stroke="#e4e4e4" stroke-width="0.4"/>
<path d="M782.20 11.30h7.4" stroke="#f0a43a" stroke-width="0.7" stroke-dasharray="2.5 2.4 2.5"/>
<circle cx="785.90" cy="11.30" r="0.95" fill="#f0a43a" stroke="#8f7658" stroke-width="0.45"/>
<rect x="782.20" y="14.60" width="7.4" height="1.9" fill="#b9d3ec"/>
<text x="792.20" y="12.30" class="lg">Catboost</text>
<text x="792.20" y="16.50" class="lg">Real</text>
</g>
<g>
<path d="M848.50 111.80V103.23M849.41 111.80V78.11M850.33 111.80V90.99M851.24 111.80V100.42M852.16 111.80V103.59M853.07 111.80V98.18M853.99 111.80V94.88M854.90 111.80V90.11M855.82 111.80V103.21M856.73 111.80V103.47M857.65 111.80V93.26M858.56 111.80V94.90M859.48 111.80V85.98M860.39 111.80V91.09M861.31 111.80V98.38M862.22 111.80V99.27M863.13 111.80V78.83M864.05 111.80V99.35M864.96 111.80V101.59M865.88 111.80V102.93M866.79 111.80V61.62M867.71 111.80V96.99M868.62 111.80V99.62M869.54 111.80V98.17M870.45 111.80V96.21M871.37 111.80V93.36M872.28 111.80V90.12M873.20 111.80V31.52M874.11 111.80V104.97M875.03 111.80V93.29M875.94 111.80V103.88M876.85 111.80V98.75M877.77 111.80V104.05M878.68 111.80V97.81M879.60 111.80V101.56M880.51 111.80V12.88M881.43 111.80V78.83M882.34 111.80V98.09M883.26 111.80V92.22M884.17 111.80V103.57M885.09 111.80V99.34M886.00 111.80V93.58M886.92 111.80V98.33M887.83 111.80V95.59M888.75 111.80V97.23M889.66 111.80V102.45M890.57 111.80V94.29M891.49 111.80V101.70M892.40 111.80V73.81M893.32 111.80V100.38M894.23 111.80V93.41M895.15 111.80V97.81M896.06 111.80V91.34M896.98 111.80V100.81M897.89 111.80V90.96M898.81 111.80V98.50M899.72 111.80V88.63M900.64 111.80V93.86M901.55 111.80V97.01M902.47 111.80V101.57M903.38 111.80V92.80M904.29 111.80V94.94M905.21 111.80V84.84M906.12 111.80V78.11M907.04 111.80V94.35M907.95 111.80V94.67M908.87 111.80V96.15M909.78 111.80V96.61M910.70 111.80V96.77M911.61 111.80V100.80M912.53 111.80V102.48M913.44 111.80V99.87M914.36 111.80V94.10M915.27 111.80V86.22M916.19 111.80V91.14M917.10 111.80V90.50M918.01 111.80V92.73M918.93 111.80V93.32M919.84 111.80V96.76M920.76 111.80V92.77M921.67 111.80V83.38M922.59 111.80V99.54M923.50 111.80V101.21M924.42 111.80V81.18M925.33 111.80V96.39M926.25 111.80V91.19M927.16 111.80V91.97M928.08 111.80V102.93M928.99 111.80V78.83M929.91 111.80V83.36M930.82 111.80V96.80M931.73 111.80V92.91M932.65 111.80V97.09M933.56 111.80V101.99M934.48 111.80V98.44M935.39 111.80V95.57M936.31 111.80V89.96M937.22 111.80V93.24M938.14 111.80V56.61M939.05 111.80V87.77M939.97 111.80V101.49M940.88 111.80V92.61M941.80 111.80V89.99M942.71 111.80V99.36M943.63 111.80V104.97M944.54 111.80V102.07M945.45 111.80V96.43M946.37 111.80V94.54M947.28 111.80V85.84M948.20 111.80V102.45M949.11 111.80V97.81M950.03 111.80V93.68M950.94 111.80V98.68M951.86 111.80V106.07M952.77 111.80V92.50M953.69 111.80V78.83M954.60 111.80V90.91M955.52 111.80V72.38M956.43 111.80V99.95M957.35 111.80V96.53M958.26 111.80V78.83M959.17 111.80V93.91M960.09 111.80V72.38M961.00 111.80V85.74M961.92 111.80V98.27M962.83 111.80V82.37M963.75 111.80V101.17M964.66 111.80V100.24M965.58 111.80V93.15M966.49 111.80V87.09M967.41 111.80V93.64M968.32 111.80V96.03M969.24 111.80V105.05M970.15 111.80V101.29M971.07 111.80V100.85M971.98 111.80V100.51M972.89 111.80V94.13M973.81 111.80V99.58M974.72 111.80V92.65M975.64 111.80V97.35M976.55 111.80V99.56M977.47 111.80V97.15M978.38 111.80V95.21M979.30 111.80V92.10M980.21 111.80V75.96M981.13 111.80V99.06M982.04 111.80V103.70M982.96 111.80V85.25M983.87 111.80V86.82M984.79 111.80V98.79M985.70 111.80V100.26M986.61 111.80V103.27M987.53 111.80V96.84M988.44 111.80V96.62M989.36 111.80V74.53M990.27 111.80V96.37M991.19 111.80V101.56M992.10 111.80V106.07M993.02 111.80V87.24M993.93 111.80V96.72M994.85 111.80V104.46M995.76 111.80V96.78M996.68 111.80V104.45M997.59 111.80V78.83M998.51 111.80V89.93M999.42 111.80V79.54M1000.33 111.80V98.77M1001.25 111.80V105.86M1002.16 111.80V98.51M1003.08 111.80V104.29M1003.99 111.80V94.06M1004.91 111.80V70.23M1005.82 111.80V102.08M1006.74 111.80V89.03" stroke="#c4daef" stroke-width="0.73" fill="none"/>
<polyline points="848.50,92.68 849.41,86.41 850.33,94.54 851.24,107.54 852.16,99.00 853.07,94.17 853.99,97.23 854.90,94.00 855.82,108.78 856.73,90.85 857.65,91.74 858.56,96.97 859.48,86.10 860.39,90.53 861.31,96.04 862.22,98.37 863.13,85.47 864.05,94.34 864.96,93.28 865.88,93.85 866.79,78.83 867.71,96.94 868.62,107.07 869.54,105.77 870.45,81.69 871.37,104.17 872.28,97.16 873.20,81.69 874.11,107.07 875.03,98.97 875.94,104.38 876.85,96.91 877.77,94.84 878.68,92.56 879.60,87.52 880.51,79.54 881.43,87.63 882.34,98.53 883.26,86.60 884.17,95.65 885.09,92.17 886.00,94.09 886.92,93.85 887.83,92.74 888.75,97.38 889.66,95.28 890.57,103.15 891.49,92.58 892.40,91.78 893.32,98.24 894.23,103.60 895.15,100.42 896.06,94.11 896.98,102.91 897.89,100.41 898.81,99.28 899.72,100.18 900.64,87.23 901.55,105.45 902.47,94.95 903.38,87.54 904.29,92.17 905.21,83.68 906.12,80.98 907.04,102.26 907.95,98.04 908.87,94.66 909.78,89.73 910.70,103.53 911.61,102.17 912.53,104.00 913.44,92.75 914.36,98.09 915.27,83.22 916.19,95.13 917.10,111.08 918.01,98.27 918.93,104.77 919.84,107.92 920.76,98.59 921.67,83.67 922.59,92.05 923.50,97.59 924.42,88.65 925.33,104.86 926.25,100.85 927.16,84.49 928.08,102.36 928.99,89.02 929.91,83.90 930.82,97.35 931.73,95.33 932.65,83.58 933.56,96.45 934.48,99.25 935.39,97.73 936.31,96.58 937.22,91.67 938.14,75.96 939.05,81.69 939.97,108.31 940.88,95.45 941.80,87.85 942.71,103.32 943.63,101.12 944.54,103.22 945.45,98.63 946.37,92.81 947.28,95.89 948.20,92.02 949.11,88.43 950.03,86.81 950.94,102.49 951.86,108.00 952.77,92.68 953.69,86.26 954.60,93.76 955.52,82.41 956.43,93.62 957.35,104.55 958.26,83.72 959.17,91.18 960.09,86.01 961.00,83.29 961.92,95.07 962.83,95.42 963.75,96.69 964.66,96.40 965.58,86.95 966.49,93.48 967.41,87.27 968.32,103.60 969.24,100.27 970.15,108.91 971.07,93.46 971.98,107.37 972.89,90.13 973.81,94.52 974.72,103.39 975.64,102.20 976.55,100.65 977.47,92.90 978.38,86.45 979.30,97.39 980.21,90.37 981.13,99.52 982.04,108.22 982.96,90.46 983.87,92.28 984.79,88.74 985.70,99.55 986.61,104.00 987.53,89.69 988.44,98.56 989.36,83.37 990.27,97.56 991.19,98.66 992.10,99.63 993.02,88.66 993.93,102.92 994.85,92.06 995.76,98.23 996.68,102.62 997.59,83.91 998.51,89.17 999.42,85.30 1000.33,99.51 1001.25,94.62 1002.16,97.99 1003.08,104.65 1003.99,99.31 1004.91,75.24 1005.82,90.65 1006.74,87.43" fill="none" stroke="#f0a43a" stroke-width="0.9" stroke-linejoin="round"/>
<path d="M848.50 92.68h0.01M849.41 86.41h0.01M850.33 94.54h0.01M851.24 107.54h0.01M852.16 99.00h0.01M853.07 94.17h0.01M853.99 97.23h0.01M854.90 94.00h0.01M855.82 108.78h0.01M856.73 90.85h0.01M857.65 91.74h0.01M858.56 96.97h0.01M859.48 86.10h0.01M860.39 90.53h0.01M861.31 96.04h0.01M862.22 98.37h0.01M863.13 85.47h0.01M864.05 94.34h0.01M864.96 93.28h0.01M865.88 93.85h0.01M866.79 78.83h0.01M867.71 96.94h0.01M868.62 107.07h0.01M869.54 105.77h0.01M870.45 81.69h0.01M871.37 104.17h0.01M872.28 97.16h0.01M873.20 81.69h0.01M874.11 107.07h0.01M875.03 98.97h0.01M875.94 104.38h0.01M876.85 96.91h0.01M877.77 94.84h0.01M878.68 92.56h0.01M879.60 87.52h0.01M880.51 79.54h0.01M881.43 87.63h0.01M882.34 98.53h0.01M883.26 86.60h0.01M884.17 95.65h0.01M885.09 92.17h0.01M886.00 94.09h0.01M886.92 93.85h0.01M887.83 92.74h0.01M888.75 97.38h0.01M889.66 95.28h0.01M890.57 103.15h0.01M891.49 92.58h0.01M892.40 91.78h0.01M893.32 98.24h0.01M894.23 103.60h0.01M895.15 100.42h0.01M896.06 94.11h0.01M896.98 102.91h0.01M897.89 100.41h0.01M898.81 99.28h0.01M899.72 100.18h0.01M900.64 87.23h0.01M901.55 105.45h0.01M902.47 94.95h0.01M903.38 87.54h0.01M904.29 92.17h0.01M905.21 83.68h0.01M906.12 80.98h0.01M907.04 102.26h0.01M907.95 98.04h0.01M908.87 94.66h0.01M909.78 89.73h0.01M910.70 103.53h0.01M911.61 102.17h0.01M912.53 104.00h0.01M913.44 92.75h0.01M914.36 98.09h0.01M915.27 83.22h0.01M916.19 95.13h0.01M917.10 111.08h0.01M918.01 98.27h0.01M918.93 104.77h0.01M919.84 107.92h0.01M920.76 98.59h0.01M921.67 83.67h0.01M922.59 92.05h0.01M923.50 97.59h0.01M924.42 88.65h0.01M925.33 104.86h0.01M926.25 100.85h0.01M927.16 84.49h0.01M928.08 102.36h0.01M928.99 89.02h0.01M929.91 83.90h0.01M930.82 97.35h0.01M931.73 95.33h0.01M932.65 83.58h0.01M933.56 96.45h0.01M934.48 99.25h0.01M935.39 97.73h0.01M936.31 96.58h0.01M937.22 91.67h0.01M938.14 75.96h0.01M939.05 81.69h0.01M939.97 108.31h0.01M940.88 95.45h0.01M941.80 87.85h0.01M942.71 103.32h0.01M943.63 101.12h0.01M944.54 103.22h0.01M945.45 98.63h0.01M946.37 92.81h0.01M947.28 95.89h0.01M948.20 92.02h0.01M949.11 88.43h0.01M950.03 86.81h0.01M950.94 102.49h0.01M951.86 108.00h0.01M952.77 92.68h0.01M953.69 86.26h0.01M954.60 93.76h0.01M955.52 82.41h0.01M956.43 93.62h0.01M957.35 104.55h0.01M958.26 83.72h0.01M959.17 91.18h0.01M960.09 86.01h0.01M961.00 83.29h0.01M961.92 95.07h0.01M962.83 95.42h0.01M963.75 96.69h0.01M964.66 96.40h0.01M965.58 86.95h0.01M966.49 93.48h0.01M967.41 87.27h0.01M968.32 103.60h0.01M969.24 100.27h0.01M970.15 108.91h0.01M971.07 93.46h0.01M971.98 107.37h0.01M972.89 90.13h0.01M973.81 94.52h0.01M974.72 103.39h0.01M975.64 102.20h0.01M976.55 100.65h0.01M977.47 92.90h0.01M978.38 86.45h0.01M979.30 97.39h0.01M980.21 90.37h0.01M981.13 99.52h0.01M982.04 108.22h0.01M982.96 90.46h0.01M983.87 92.28h0.01M984.79 88.74h0.01M985.70 99.55h0.01M986.61 104.00h0.01M987.53 89.69h0.01M988.44 98.56h0.01M989.36 83.37h0.01M990.27 97.56h0.01M991.19 98.66h0.01M992.10 99.63h0.01M993.02 88.66h0.01M993.93 102.92h0.01M994.85 92.06h0.01M995.76 98.23h0.01M996.68 102.62h0.01M997.59 83.91h0.01M998.51 89.17h0.01M999.42 85.30h0.01M1000.33 99.51h0.01M1001.25 94.62h0.01M1002.16 97.99h0.01M1003.08 104.65h0.01M1003.99 99.31h0.01M1004.91 75.24h0.01M1005.82 90.65h0.01M1006.74 87.43h0.01" stroke="#8f7658" stroke-width="2.7" stroke-linecap="round" fill="none"/>
<path d="M848.50 92.68h0.01M849.41 86.41h0.01M850.33 94.54h0.01M851.24 107.54h0.01M852.16 99.00h0.01M853.07 94.17h0.01M853.99 97.23h0.01M854.90 94.00h0.01M855.82 108.78h0.01M856.73 90.85h0.01M857.65 91.74h0.01M858.56 96.97h0.01M859.48 86.10h0.01M860.39 90.53h0.01M861.31 96.04h0.01M862.22 98.37h0.01M863.13 85.47h0.01M864.05 94.34h0.01M864.96 93.28h0.01M865.88 93.85h0.01M866.79 78.83h0.01M867.71 96.94h0.01M868.62 107.07h0.01M869.54 105.77h0.01M870.45 81.69h0.01M871.37 104.17h0.01M872.28 97.16h0.01M873.20 81.69h0.01M874.11 107.07h0.01M875.03 98.97h0.01M875.94 104.38h0.01M876.85 96.91h0.01M877.77 94.84h0.01M878.68 92.56h0.01M879.60 87.52h0.01M880.51 79.54h0.01M881.43 87.63h0.01M882.34 98.53h0.01M883.26 86.60h0.01M884.17 95.65h0.01M885.09 92.17h0.01M886.00 94.09h0.01M886.92 93.85h0.01M887.83 92.74h0.01M888.75 97.38h0.01M889.66 95.28h0.01M890.57 103.15h0.01M891.49 92.58h0.01M892.40 91.78h0.01M893.32 98.24h0.01M894.23 103.60h0.01M895.15 100.42h0.01M896.06 94.11h0.01M896.98 102.91h0.01M897.89 100.41h0.01M898.81 99.28h0.01M899.72 100.18h0.01M900.64 87.23h0.01M901.55 105.45h0.01M902.47 94.95h0.01M903.38 87.54h0.01M904.29 92.17h0.01M905.21 83.68h0.01M906.12 80.98h0.01M907.04 102.26h0.01M907.95 98.04h0.01M908.87 94.66h0.01M909.78 89.73h0.01M910.70 103.53h0.01M911.61 102.17h0.01M912.53 104.00h0.01M913.44 92.75h0.01M914.36 98.09h0.01M915.27 83.22h0.01M916.19 95.13h0.01M917.10 111.08h0.01M918.01 98.27h0.01M918.93 104.77h0.01M919.84 107.92h0.01M920.76 98.59h0.01M921.67 83.67h0.01M922.59 92.05h0.01M923.50 97.59h0.01M924.42 88.65h0.01M925.33 104.86h0.01M926.25 100.85h0.01M927.16 84.49h0.01M928.08 102.36h0.01M928.99 89.02h0.01M929.91 83.90h0.01M930.82 97.35h0.01M931.73 95.33h0.01M932.65 83.58h0.01M933.56 96.45h0.01M934.48 99.25h0.01M935.39 97.73h0.01M936.31 96.58h0.01M937.22 91.67h0.01M938.14 75.96h0.01M939.05 81.69h0.01M939.97 108.31h0.01M940.88 95.45h0.01M941.80 87.85h0.01M942.71 103.32h0.01M943.63 101.12h0.01M944.54 103.22h0.01M945.45 98.63h0.01M946.37 92.81h0.01M947.28 95.89h0.01M948.20 92.02h0.01M949.11 88.43h0.01M950.03 86.81h0.01M950.94 102.49h0.01M951.86 108.00h0.01M952.77 92.68h0.01M953.69 86.26h0.01M954.60 93.76h0.01M955.52 82.41h0.01M956.43 93.62h0.01M957.35 104.55h0.01M958.26 83.72h0.01M959.17 91.18h0.01M960.09 86.01h0.01M961.00 83.29h0.01M961.92 95.07h0.01M962.83 95.42h0.01M963.75 96.69h0.01M964.66 96.40h0.01M965.58 86.95h0.01M966.49 93.48h0.01M967.41 87.27h0.01M968.32 103.60h0.01M969.24 100.27h0.01M970.15 108.91h0.01M971.07 93.46h0.01M971.98 107.37h0.01M972.89 90.13h0.01M973.81 94.52h0.01M974.72 103.39h0.01M975.64 102.20h0.01M976.55 100.65h0.01M977.47 92.90h0.01M978.38 86.45h0.01M979.30 97.39h0.01M980.21 90.37h0.01M981.13 99.52h0.01M982.04 108.22h0.01M982.96 90.46h0.01M983.87 92.28h0.01M984.79 88.74h0.01M985.70 99.55h0.01M986.61 104.00h0.01M987.53 89.69h0.01M988.44 98.56h0.01M989.36 83.37h0.01M990.27 97.56h0.01M991.19 98.66h0.01M992.10 99.63h0.01M993.02 88.66h0.01M993.93 102.92h0.01M994.85 92.06h0.01M995.76 98.23h0.01M996.68 102.62h0.01M997.59 83.91h0.01M998.51 89.17h0.01M999.42 85.30h0.01M1000.33 99.51h0.01M1001.25 94.62h0.01M1002.16 97.99h0.01M1003.08 104.65h0.01M1003.99 99.31h0.01M1004.91 75.24h0.01M1005.82 90.65h0.01M1006.74 87.43h0.01" stroke="#f3a440" stroke-width="1.6" stroke-linecap="round" fill="none"/>
<rect x="840.00" y="7.20" width="175.60" height="104.60" fill="none" stroke="#b0b0b0" stroke-width="1.15"/>
<text x="838.50" y="114.20" text-anchor="end" class="pt">0.0</text>
<text x="838.50" y="96.28" text-anchor="end" class="pt">2.5</text>
<text x="838.50" y="78.36" text-anchor="end" class="pt">5.0</text>
<text x="838.50" y="60.44" text-anchor="end" class="pt">7.5</text>
<text x="838.50" y="42.52" text-anchor="end" class="pt">10.0</text>
<text x="838.50" y="24.60" text-anchor="end" class="pt">12.5</text>
<text x="848.50" y="118.20" text-anchor="middle" class="pt">0</text>
<text x="894.23" y="118.20" text-anchor="middle" class="pt">50</text>
<text x="939.97" y="118.20" text-anchor="middle" class="pt">100</text>
<text x="985.70" y="118.20" text-anchor="middle" class="pt">150</text>
<path d="M840.00 111.80h-2M840.00 93.88h-2M840.00 75.96h-2M840.00 58.04h-2M840.00 40.12h-2M840.00 22.20h-2M848.50 111.80v2M894.23 111.80v2M939.97 111.80v2M985.70 111.80v2" stroke="#333" stroke-width="0.6" fill="none"/>
<text x="927.80" y="125.40" text-anchor="middle" class="pl">Sample Points</text>
<text transform="translate(823.20 59.50) rotate(-90)" text-anchor="middle" class="pl">TN (kg/ha)</text>
<text x="842.20" y="14.80" class="pn">(c)</text>
<rect x="994.90" y="8.00" width="19.40" height="10.00" rx="0.8" fill="#fff" fill-opacity="0.8" stroke="#e4e4e4" stroke-width="0.4"/>
<path d="M996.10 11.30h7.4" stroke="#f0a43a" stroke-width="0.7" stroke-dasharray="2.5 2.4 2.5"/>
<circle cx="999.80" cy="11.30" r="0.95" fill="#f0a43a" stroke="#8f7658" stroke-width="0.45"/>
<rect x="996.10" y="14.60" width="7.4" height="1.9" fill="#b9d3ec"/>
<text x="1006.10" y="12.30" class="lg">ANN</text>
<text x="1006.10" y="16.50" class="lg">Real</text>
</g>
<g>
<path d="M431.30 240.00V231.22M432.24 240.00V205.48M433.18 240.00V218.68M434.12 240.00V228.34M435.05 240.00V231.58M435.99 240.00V226.05M436.93 240.00V222.66M437.87 240.00V217.78M438.81 240.00V231.19M439.75 240.00V231.46M440.69 240.00V221.01M441.63 240.00V222.69M442.56 240.00V213.55M443.50 240.00V218.79M444.44 240.00V226.25M445.38 240.00V227.17M446.32 240.00V206.22M447.26 240.00V227.24M448.20 240.00V229.54M449.13 240.00V230.92M450.07 240.00V188.59M451.01 240.00V224.82M451.95 240.00V227.52M452.89 240.00V226.03M453.83 240.00V224.03M454.77 240.00V221.11M455.71 240.00V217.79M456.64 240.00V157.75M457.58 240.00V233.00M458.52 240.00V221.04M459.46 240.00V231.88M460.40 240.00V226.63M461.34 240.00V232.06M462.28 240.00V225.67M463.21 240.00V229.51M464.15 240.00V138.65M465.09 240.00V206.22M466.03 240.00V225.95M466.97 240.00V219.94M467.91 240.00V231.57M468.85 240.00V227.24M469.79 240.00V221.33M470.72 240.00V226.20M471.66 240.00V223.39M472.60 240.00V225.07M473.54 240.00V230.42M474.48 240.00V222.06M475.42 240.00V229.65M476.36 240.00V201.08M477.29 240.00V228.30M478.23 240.00V221.16M479.17 240.00V225.67M480.11 240.00V219.04M481.05 240.00V228.74M481.99 240.00V218.65M482.93 240.00V226.37M483.87 240.00V216.26M484.80 240.00V221.62M485.74 240.00V224.85M486.68 240.00V229.52M487.62 240.00V220.53M488.56 240.00V222.73M489.50 240.00V212.38M490.44 240.00V205.48M491.37 240.00V222.12M492.31 240.00V222.45M493.25 240.00V223.96M494.19 240.00V224.43M495.13 240.00V224.60M496.07 240.00V228.73M497.01 240.00V230.46M497.95 240.00V227.78M498.88 240.00V221.86M499.82 240.00V213.79M500.76 240.00V218.83M501.70 240.00V218.18M502.64 240.00V220.46M503.58 240.00V221.06M504.52 240.00V224.59M505.45 240.00V220.50M506.39 240.00V210.89M507.33 240.00V227.44M508.27 240.00V229.15M509.21 240.00V208.63M510.15 240.00V224.21M511.09 240.00V218.88M512.03 240.00V219.69M512.96 240.00V230.91M513.90 240.00V206.22M514.84 240.00V210.86M515.78 240.00V224.63M516.72 240.00V220.65M517.66 240.00V224.93M518.60 240.00V229.95M519.53 240.00V226.31M520.47 240.00V223.37M521.41 240.00V217.62M522.35 240.00V220.98M523.29 240.00V183.45M524.23 240.00V215.38M525.17 240.00V229.44M526.11 240.00V220.33M527.04 240.00V217.66M527.98 240.00V227.26M528.92 240.00V233.00M529.86 240.00V230.03M530.80 240.00V224.26M531.74 240.00V222.31M532.68 240.00V213.40M533.61 240.00V230.42M534.55 240.00V225.67M535.49 240.00V221.44M536.43 240.00V226.55M537.37 240.00V234.12M538.31 240.00V220.23M539.25 240.00V206.22M540.19 240.00V218.60M541.12 240.00V199.61M542.06 240.00V227.86M543.00 240.00V224.35M543.94 240.00V206.22M544.88 240.00V221.67M545.82 240.00V199.61M546.76 240.00V213.30M547.69 240.00V226.14M548.63 240.00V209.85M549.57 240.00V229.11M550.51 240.00V228.16M551.45 240.00V220.89M552.39 240.00V214.68M553.33 240.00V221.40M554.27 240.00V223.84M555.20 240.00V233.09M556.14 240.00V229.23M557.08 240.00V228.78M558.02 240.00V228.43M558.96 240.00V221.89M559.90 240.00V227.48M560.84 240.00V220.38M561.77 240.00V225.20M562.71 240.00V227.46M563.65 240.00V224.99M564.59 240.00V223.00M565.53 240.00V219.81M566.47 240.00V203.28M567.41 240.00V226.95M568.35 240.00V231.70M569.28 240.00V212.80M570.22 240.00V214.40M571.16 240.00V226.67M572.10 240.00V228.17M573.04 240.00V231.26M573.98 240.00V224.67M574.92 240.00V224.45M575.85 240.00V201.81M576.79 240.00V224.20M577.73 240.00V229.51M578.67 240.00V234.12M579.61 240.00V214.83M580.55 240.00V224.55M581.49 240.00V232.48M582.43 240.00V224.61M583.36 240.00V232.47M584.30 240.00V206.22M585.24 240.00V217.59M586.18 240.00V206.95M587.12 240.00V226.65M588.06 240.00V233.92M589.00 240.00V226.39M589.93 240.00V232.31M590.87 240.00V221.82M591.81 240.00V197.40M592.75 240.00V230.04M593.69 240.00V216.67" stroke="#c4daef" stroke-width="0.75" fill="none"/>
<polyline points="431.30,221.08 432.24,211.74 433.18,219.93 434.12,229.73 435.05,232.38 435.99,219.54 436.93,222.33 437.87,219.62 438.81,224.70 439.75,221.76 440.69,217.00 441.63,218.63 442.56,218.55 443.50,214.58 444.44,221.82 445.38,230.03 446.32,213.02 447.26,223.77 448.20,231.85 449.13,232.71 450.07,202.55 451.01,227.25 451.95,226.94 452.89,222.88 453.83,203.28 454.77,217.02 455.71,215.73 456.64,188.59 457.58,230.40 458.52,217.19 459.46,226.18 460.40,227.30 461.34,226.94 462.28,224.99 463.21,227.10 464.15,172.44 465.09,216.61 466.03,230.52 466.97,222.23 467.91,217.68 468.85,233.00 469.79,219.48 470.72,220.81 471.66,219.32 472.60,223.42 473.54,226.95 474.48,220.25 475.42,229.03 476.36,211.58 477.29,226.35 478.23,220.29 479.17,227.62 480.11,214.82 481.05,224.68 481.99,220.73 482.93,230.95 483.87,222.57 484.80,223.27 485.74,224.89 486.68,231.15 487.62,217.58 488.56,227.83 489.50,215.97 490.44,214.24 491.37,228.69 492.31,223.35 493.25,224.41 494.19,224.38 495.13,221.71 496.07,228.48 497.01,232.85 497.95,225.99 498.88,217.57 499.82,213.00 500.76,225.95 501.70,223.20 502.64,223.57 503.58,223.63 504.52,233.41 505.45,225.02 506.39,218.85 507.33,209.16 508.27,221.29 509.21,211.63 510.15,223.17 511.09,217.42 512.03,221.59 512.96,226.57 513.90,212.35 514.84,213.36 515.78,221.03 516.72,206.95 517.66,225.90 518.60,227.64 519.53,224.04 520.47,226.03 521.41,218.92 522.35,224.25 523.29,197.40 524.23,212.72 525.17,220.11 526.11,217.19 527.04,222.58 527.98,227.59 528.92,233.81 529.86,232.16 530.80,223.64 531.74,221.51 532.68,211.78 533.61,227.58 534.55,230.35 535.49,223.06 536.43,216.98 537.37,228.65 538.31,217.95 539.25,217.54 540.19,220.13 541.12,214.12 542.06,228.08 543.00,220.18 543.94,211.93 544.88,222.60 545.82,212.89 546.76,214.54 547.69,228.51 548.63,215.40 549.57,232.98 550.51,222.39 551.45,220.93 552.39,214.80 553.33,225.51 554.27,223.22 555.20,227.54 556.14,234.46 557.08,225.54 558.02,226.17 558.96,223.56 559.90,223.06 560.84,224.85 561.77,222.94 562.71,220.26 563.65,225.37 564.59,217.40 565.53,221.80 566.47,199.61 567.41,222.94 568.35,224.85 569.28,216.45 570.22,219.21 571.16,217.51 572.10,226.21 573.04,226.33 573.98,223.92 574.92,216.41 575.85,215.47 576.79,225.76 577.73,228.75 578.67,231.11 579.61,215.68 580.55,222.09 581.49,230.85 582.43,224.08 583.36,204.75 584.30,211.44 585.24,213.43 586.18,209.16 587.12,222.94 588.06,233.05 589.00,219.08 589.93,229.57 590.87,216.90 591.81,203.28 592.75,227.20 593.69,220.44" fill="none" stroke="#f0a43a" stroke-width="0.9" stroke-linejoin="round"/>
<path d="M431.30 221.08h0.01M432.24 211.74h0.01M433.18 219.93h0.01M434.12 229.73h0.01M435.05 232.38h0.01M435.99 219.54h0.01M436.93 222.33h0.01M437.87 219.62h0.01M438.81 224.70h0.01M439.75 221.76h0.01M440.69 217.00h0.01M441.63 218.63h0.01M442.56 218.55h0.01M443.50 214.58h0.01M444.44 221.82h0.01M445.38 230.03h0.01M446.32 213.02h0.01M447.26 223.77h0.01M448.20 231.85h0.01M449.13 232.71h0.01M450.07 202.55h0.01M451.01 227.25h0.01M451.95 226.94h0.01M452.89 222.88h0.01M453.83 203.28h0.01M454.77 217.02h0.01M455.71 215.73h0.01M456.64 188.59h0.01M457.58 230.40h0.01M458.52 217.19h0.01M459.46 226.18h0.01M460.40 227.30h0.01M461.34 226.94h0.01M462.28 224.99h0.01M463.21 227.10h0.01M464.15 172.44h0.01M465.09 216.61h0.01M466.03 230.52h0.01M466.97 222.23h0.01M467.91 217.68h0.01M468.85 233.00h0.01M469.79 219.48h0.01M470.72 220.81h0.01M471.66 219.32h0.01M472.60 223.42h0.01M473.54 226.95h0.01M474.48 220.25h0.01M475.42 229.03h0.01M476.36 211.58h0.01M477.29 226.35h0.01M478.23 220.29h0.01M479.17 227.62h0.01M480.11 214.82h0.01M481.05 224.68h0.01M481.99 220.73h0.01M482.93 230.95h0.01M483.87 222.57h0.01M484.80 223.27h0.01M485.74 224.89h0.01M486.68 231.15h0.01M487.62 217.58h0.01M488.56 227.83h0.01M489.50 215.97h0.01M490.44 214.24h0.01M491.37 228.69h0.01M492.31 223.35h0.01M493.25 224.41h0.01M494.19 224.38h0.01M495.13 221.71h0.01M496.07 228.48h0.01M497.01 232.85h0.01M497.95 225.99h0.01M498.88 217.57h0.01M499.82 213.00h0.01M500.76 225.95h0.01M501.70 223.20h0.01M502.64 223.57h0.01M503.58 223.63h0.01M504.52 233.41h0.01M505.45 225.02h0.01M506.39 218.85h0.01M507.33 209.16h0.01M508.27 221.29h0.01M509.21 211.63h0.01M510.15 223.17h0.01M511.09 217.42h0.01M512.03 221.59h0.01M512.96 226.57h0.01M513.90 212.35h0.01M514.84 213.36h0.01M515.78 221.03h0.01M516.72 206.95h0.01M517.66 225.90h0.01M518.60 227.64h0.01M519.53 224.04h0.01M520.47 226.03h0.01M521.41 218.92h0.01M522.35 224.25h0.01M523.29 197.40h0.01M524.23 212.72h0.01M525.17 220.11h0.01M526.11 217.19h0.01M527.04 222.58h0.01M527.98 227.59h0.01M528.92 233.81h0.01M529.86 232.16h0.01M530.80 223.64h0.01M531.74 221.51h0.01M532.68 211.78h0.01M533.61 227.58h0.01M534.55 230.35h0.01M535.49 223.06h0.01M536.43 216.98h0.01M537.37 228.65h0.01M538.31 217.95h0.01M539.25 217.54h0.01M540.19 220.13h0.01M541.12 214.12h0.01M542.06 228.08h0.01M543.00 220.18h0.01M543.94 211.93h0.01M544.88 222.60h0.01M545.82 212.89h0.01M546.76 214.54h0.01M547.69 228.51h0.01M548.63 215.40h0.01M549.57 232.98h0.01M550.51 222.39h0.01M551.45 220.93h0.01M552.39 214.80h0.01M553.33 225.51h0.01M554.27 223.22h0.01M555.20 227.54h0.01M556.14 234.46h0.01M557.08 225.54h0.01M558.02 226.17h0.01M558.96 223.56h0.01M559.90 223.06h0.01M560.84 224.85h0.01M561.77 222.94h0.01M562.71 220.26h0.01M563.65 225.37h0.01M564.59 217.40h0.01M565.53 221.80h0.01M566.47 199.61h0.01M567.41 222.94h0.01M568.35 224.85h0.01M569.28 216.45h0.01M570.22 219.21h0.01M571.16 217.51h0.01M572.10 226.21h0.01M573.04 226.33h0.01M573.98 223.92h0.01M574.92 216.41h0.01M575.85 215.47h0.01M576.79 225.76h0.01M577.73 228.75h0.01M578.67 231.11h0.01M579.61 215.68h0.01M580.55 222.09h0.01M581.49 230.85h0.01M582.43 224.08h0.01M583.36 204.75h0.01M584.30 211.44h0.01M585.24 213.43h0.01M586.18 209.16h0.01M587.12 222.94h0.01M588.06 233.05h0.01M589.00 219.08h0.01M589.93 229.57h0.01M590.87 216.90h0.01M591.81 203.28h0.01M592.75 227.20h0.01M593.69 220.44h0.01" stroke="#8f7658" stroke-width="2.7" stroke-linecap="round" fill="none"/>
<path d="M431.30 221.08h0.01M432.24 211.74h0.01M433.18 219.93h0.01M434.12 229.73h0.01M435.05 232.38h0.01M435.99 219.54h0.01M436.93 222.33h0.01M437.87 219.62h0.01M438.81 224.70h0.01M439.75 221.76h0.01M440.69 217.00h0.01M441.63 218.63h0.01M442.56 218.55h0.01M443.50 214.58h0.01M444.44 221.82h0.01M445.38 230.03h0.01M446.32 213.02h0.01M447.26 223.77h0.01M448.20 231.85h0.01M449.13 232.71h0.01M450.07 202.55h0.01M451.01 227.25h0.01M451.95 226.94h0.01M452.89 222.88h0.01M453.83 203.28h0.01M454.77 217.02h0.01M455.71 215.73h0.01M456.64 188.59h0.01M457.58 230.40h0.01M458.52 217.19h0.01M459.46 226.18h0.01M460.40 227.30h0.01M461.34 226.94h0.01M462.28 224.99h0.01M463.21 227.10h0.01M464.15 172.44h0.01M465.09 216.61h0.01M466.03 230.52h0.01M466.97 222.23h0.01M467.91 217.68h0.01M468.85 233.00h0.01M469.79 219.48h0.01M470.72 220.81h0.01M471.66 219.32h0.01M472.60 223.42h0.01M473.54 226.95h0.01M474.48 220.25h0.01M475.42 229.03h0.01M476.36 211.58h0.01M477.29 226.35h0.01M478.23 220.29h0.01M479.17 227.62h0.01M480.11 214.82h0.01M481.05 224.68h0.01M481.99 220.73h0.01M482.93 230.95h0.01M483.87 222.57h0.01M484.80 223.27h0.01M485.74 224.89h0.01M486.68 231.15h0.01M487.62 217.58h0.01M488.56 227.83h0.01M489.50 215.97h0.01M490.44 214.24h0.01M491.37 228.69h0.01M492.31 223.35h0.01M493.25 224.41h0.01M494.19 224.38h0.01M495.13 221.71h0.01M496.07 228.48h0.01M497.01 232.85h0.01M497.95 225.99h0.01M498.88 217.57h0.01M499.82 213.00h0.01M500.76 225.95h0.01M501.70 223.20h0.01M502.64 223.57h0.01M503.58 223.63h0.01M504.52 233.41h0.01M505.45 225.02h0.01M506.39 218.85h0.01M507.33 209.16h0.01M508.27 221.29h0.01M509.21 211.63h0.01M510.15 223.17h0.01M511.09 217.42h0.01M512.03 221.59h0.01M512.96 226.57h0.01M513.90 212.35h0.01M514.84 213.36h0.01M515.78 221.03h0.01M516.72 206.95h0.01M517.66 225.90h0.01M518.60 227.64h0.01M519.53 224.04h0.01M520.47 226.03h0.01M521.41 218.92h0.01M522.35 224.25h0.01M523.29 197.40h0.01M524.23 212.72h0.01M525.17 220.11h0.01M526.11 217.19h0.01M527.04 222.58h0.01M527.98 227.59h0.01M528.92 233.81h0.01M529.86 232.16h0.01M530.80 223.64h0.01M531.74 221.51h0.01M532.68 211.78h0.01M533.61 227.58h0.01M534.55 230.35h0.01M535.49 223.06h0.01M536.43 216.98h0.01M537.37 228.65h0.01M538.31 217.95h0.01M539.25 217.54h0.01M540.19 220.13h0.01M541.12 214.12h0.01M542.06 228.08h0.01M543.00 220.18h0.01M543.94 211.93h0.01M544.88 222.60h0.01M545.82 212.89h0.01M546.76 214.54h0.01M547.69 228.51h0.01M548.63 215.40h0.01M549.57 232.98h0.01M550.51 222.39h0.01M551.45 220.93h0.01M552.39 214.80h0.01M553.33 225.51h0.01M554.27 223.22h0.01M555.20 227.54h0.01M556.14 234.46h0.01M557.08 225.54h0.01M558.02 226.17h0.01M558.96 223.56h0.01M559.90 223.06h0.01M560.84 224.85h0.01M561.77 222.94h0.01M562.71 220.26h0.01M563.65 225.37h0.01M564.59 217.40h0.01M565.53 221.80h0.01M566.47 199.61h0.01M567.41 222.94h0.01M568.35 224.85h0.01M569.28 216.45h0.01M570.22 219.21h0.01M571.16 217.51h0.01M572.10 226.21h0.01M573.04 226.33h0.01M573.98 223.92h0.01M574.92 216.41h0.01M575.85 215.47h0.01M576.79 225.76h0.01M577.73 228.75h0.01M578.67 231.11h0.01M579.61 215.68h0.01M580.55 222.09h0.01M581.49 230.85h0.01M582.43 224.08h0.01M583.36 204.75h0.01M584.30 211.44h0.01M585.24 213.43h0.01M586.18 209.16h0.01M587.12 222.94h0.01M588.06 233.05h0.01M589.00 219.08h0.01M589.93 229.57h0.01M590.87 216.90h0.01M591.81 203.28h0.01M592.75 227.20h0.01M593.69 220.44h0.01" stroke="#f3a440" stroke-width="1.6" stroke-linecap="round" fill="none"/>
<rect x="423.10" y="133.30" width="179.30" height="106.70" fill="none" stroke="#b0b0b0" stroke-width="1.15"/>
<text x="421.60" y="242.40" text-anchor="end" class="pt">0.0</text>
<text x="421.60" y="224.04" text-anchor="end" class="pt">2.5</text>
<text x="421.60" y="205.68" text-anchor="end" class="pt">5.0</text>
<text x="421.60" y="187.32" text-anchor="end" class="pt">7.5</text>
<text x="421.60" y="168.96" text-anchor="end" class="pt">10.0</text>
<text x="421.60" y="150.60" text-anchor="end" class="pt">12.5</text>
<text x="431.30" y="246.40" text-anchor="middle" class="pt">0</text>
<text x="478.23" y="246.40" text-anchor="middle" class="pt">50</text>
<text x="525.17" y="246.40" text-anchor="middle" class="pt">100</text>
<text x="572.10" y="246.40" text-anchor="middle" class="pt">150</text>
<path d="M423.10 240.00h-2M423.10 221.64h-2M423.10 203.28h-2M423.10 184.92h-2M423.10 166.56h-2M423.10 148.20h-2M431.30 240.00v2M478.23 240.00v2M525.17 240.00v2M572.10 240.00v2" stroke="#333" stroke-width="0.6" fill="none"/>
<text x="512.75" y="253.60" text-anchor="middle" class="pl">Sample Points</text>
<text transform="translate(406.30 186.65) rotate(-90)" text-anchor="middle" class="pl">TN (kg/ha)</text>
<text x="425.30" y="140.90" class="pn">(d)</text>
<rect x="573.50" y="134.10" width="27.60" height="10.00" rx="0.8" fill="#fff" fill-opacity="0.8" stroke="#e4e4e4" stroke-width="0.4"/>
<path d="M574.70 137.40h7.4" stroke="#f0a43a" stroke-width="0.7" stroke-dasharray="2.5 2.4 2.5"/>
<circle cx="578.40" cy="137.40" r="0.95" fill="#f0a43a" stroke="#8f7658" stroke-width="0.45"/>
<rect x="574.70" y="140.70" width="7.4" height="1.9" fill="#b9d3ec"/>
<text x="584.70" y="138.40" class="lg">Geoxgboost</text>
<text x="584.70" y="142.60" class="lg">Real</text>
</g>
<g>
<path d="M635.60 238.10V210.21M636.53 238.10V214.37M637.46 238.10V191.28M638.39 238.10V205.19M639.32 238.10V211.89M640.25 238.10V211.32M641.18 238.10V213.02M642.11 238.10V195.36M643.04 238.10V204.70M643.97 238.10V154.27M644.90 238.10V216.97M645.83 238.10V218.27M646.76 238.10V222.13M647.69 238.10V216.65M648.62 238.10V228.30M649.55 238.10V194.16M650.48 238.10V213.22M651.41 238.10V213.73M652.34 238.10V205.22M653.27 238.10V217.65M654.20 238.10V212.17M655.13 238.10V206.32M656.06 238.10V225.16M656.99 238.10V192.21M657.92 238.10V213.19M658.85 238.10V208.22M659.78 238.10V222.26M660.71 238.10V219.51M661.64 238.10V192.86M662.57 238.10V218.88M663.50 238.10V178.22M664.43 238.10V209.75M665.36 238.10V197.18M666.29 238.10V228.30M667.22 238.10V196.46M668.15 238.10V211.94M669.08 238.10V204.76M670.01 238.10V222.16M670.94 238.10V211.52M671.87 238.10V194.16M672.80 238.10V215.38M673.73 238.10V219.58M674.66 238.10V218.16M675.59 238.10V218.86M676.52 238.10V206.03M677.45 238.10V212.65M678.38 238.10V218.60M679.31 238.10V136.85M680.24 238.10V222.62M681.17 238.10V224.54M682.10 238.10V188.02M683.03 238.10V219.63M683.96 238.10V193.91M684.89 238.10V215.29M685.82 238.10V216.44M686.75 238.10V209.21M687.68 238.10V221.14M688.61 238.10V221.06M689.54 238.10V216.34M690.47 238.10V217.79M691.40 238.10V206.96M692.33 238.10V188.08M693.26 238.10V223.12M694.19 238.10V221.27M695.12 238.10V206.51M696.05 238.10V209.35M696.98 238.10V161.89M697.91 238.10V220.39M698.84 238.10V208.40M699.77 238.10V214.98M700.70 238.10V225.51M701.63 238.10V210.04M702.56 238.10V225.21M703.49 238.10V209.04M704.42 238.10V218.29M705.35 238.10V184.75M706.28 238.10V188.02M707.21 238.10V195.53M708.14 238.10V210.27M709.07 238.10V210.60M710.00 238.10V220.59M710.93 238.10V199.91M711.86 238.10V208.08M712.79 238.10V221.18M713.72 238.10V164.06M714.65 238.10V214.52M715.58 238.10V216.07M716.51 238.10V205.14M717.44 238.10V222.23M718.37 238.10V221.32M719.30 238.10V210.34M720.23 238.10V213.70M721.16 238.10V204.06M722.09 238.10V201.72M723.02 238.10V221.44M723.95 238.10V177.13M724.88 238.10V213.97M725.81 238.10V220.31M726.74 238.10V212.19M727.67 238.10V228.30M728.60 238.10V215.42M729.53 238.10V213.64M730.46 238.10V219.08M731.39 238.10V209.30M732.32 238.10V213.52M733.25 238.10V212.29M734.18 238.10V199.12M735.11 238.10V199.15M736.04 238.10V200.56M736.97 238.10V210.81M737.90 238.10V213.15M738.83 238.10V208.72M739.76 238.10V192.37M740.69 238.10V220.30M741.62 238.10V210.63M742.55 238.10V204.46M743.48 238.10V217.93M744.41 238.10V222.61M745.34 238.10V208.58M746.27 238.10V220.43M747.20 238.10V224.80M748.13 238.10V216.62M749.06 238.10V224.67M749.99 238.10V211.26M750.92 238.10V218.72M751.85 238.10V213.74M752.78 238.10V179.31M753.71 238.10V201.73M754.64 238.10V215.34M755.57 238.10V228.20M756.50 238.10V218.43M757.43 238.10V223.04M758.36 238.10V204.73M759.29 238.10V195.04M760.22 238.10V207.19M761.15 238.10V207.83M762.08 238.10V208.83M763.01 238.10V207.36M763.94 238.10V217.61M764.87 238.10V204.72M765.80 238.10V184.75M766.73 238.10V222.97M767.66 238.10V214.02M768.59 238.10V194.38M769.52 238.10V216.12M770.45 238.10V226.14M771.38 238.10V200.02M772.31 238.10V212.17M773.24 238.10V208.91M774.17 238.10V218.36M775.10 238.10V209.64M776.03 238.10V194.12M776.96 238.10V219.67M777.89 238.10V179.31M778.82 238.10V211.01M779.75 238.10V221.15M780.68 238.10V212.75M781.61 238.10V208.43M782.54 238.10V221.01M783.47 238.10V201.04M784.40 238.10V222.69M785.33 238.10V201.20M786.26 238.10V208.06M787.19 238.10V211.98M788.12 238.10V177.13M789.05 238.10V220.60M789.98 238.10V228.02M790.91 238.10V214.67M791.84 238.10V215.59M792.77 238.10V208.80M793.70 238.10V203.04M794.63 238.10V212.57M795.56 238.10V217.32M796.49 238.10V203.52M797.42 238.10V178.22" stroke="#c4daef" stroke-width="0.74" fill="none"/>
<polyline points="635.60,206.75 636.53,217.43 637.46,190.91 638.39,219.09 639.32,215.36 640.25,202.73 641.18,190.19 642.11,194.96 643.04,210.97 643.97,168.42 644.90,209.75 645.83,219.22 646.76,217.86 647.69,220.73 648.62,223.48 649.55,207.64 650.48,210.18 651.41,209.95 652.34,208.03 653.27,209.25 654.20,212.63 655.13,197.38 656.06,225.61 656.99,199.17 657.92,213.59 658.85,190.22 659.78,229.41 660.71,220.22 661.64,190.19 662.57,213.65 663.50,178.22 664.43,199.16 665.36,209.53 666.29,216.99 667.22,200.05 668.15,217.10 669.08,201.56 670.01,229.75 670.94,211.78 671.87,203.89 672.80,222.05 673.73,225.60 674.66,217.86 675.59,208.35 676.52,209.03 677.45,204.81 678.38,221.06 679.31,170.60 680.24,222.02 681.17,218.46 682.10,191.91 683.03,227.85 683.96,195.41 684.89,205.13 685.82,191.28 686.75,210.35 687.68,220.14 688.61,218.94 689.54,213.86 690.47,213.60 691.40,211.15 692.33,192.57 693.26,227.25 694.19,228.99 695.12,212.59 696.05,210.85 696.98,159.71 697.91,176.04 698.84,204.60 699.77,215.08 700.70,222.78 701.63,197.96 702.56,225.09 703.49,208.23 704.42,213.77 705.35,200.45 706.28,194.82 707.21,197.75 708.14,207.13 709.07,214.42 710.00,219.17 710.93,200.01 711.86,205.65 712.79,222.43 713.72,193.43 714.65,181.49 715.58,230.74 716.51,198.76 717.44,181.49 718.37,209.09 719.30,218.74 720.23,212.70 721.16,201.63 722.09,185.84 723.02,220.67 723.95,178.22 724.88,206.37 725.81,218.49 726.74,183.66 727.67,217.17 728.60,212.07 729.53,207.06 730.46,226.64 731.39,209.60 732.32,221.23 733.25,215.18 734.18,196.78 735.11,198.13 736.04,194.91 736.97,216.16 737.90,204.49 738.83,208.65 739.76,191.00 740.69,215.18 741.62,208.48 742.55,203.74 743.48,226.96 744.41,219.67 745.34,209.73 746.27,221.85 747.20,229.22 748.13,223.41 749.06,212.21 749.99,213.23 750.92,192.37 751.85,210.54 752.78,182.57 753.71,183.66 754.64,215.98 755.57,225.49 756.50,215.41 757.43,225.47 758.36,208.96 759.29,196.45 760.22,186.93 761.15,209.23 762.08,205.54 763.01,207.27 763.94,186.93 764.87,211.42 765.80,192.34 766.73,229.71 767.66,210.95 768.59,197.14 769.52,221.36 770.45,189.11 771.38,199.26 772.31,201.22 773.24,212.95 774.17,221.15 775.10,213.24 776.03,202.44 776.96,191.28 777.89,182.57 778.82,208.55 779.75,221.95 780.68,213.51 781.61,209.82 782.54,227.95 783.47,197.27 784.40,217.05 785.33,194.95 786.26,209.65 787.19,214.75 788.12,191.28 789.05,211.95 789.98,226.71 790.91,208.22 791.84,209.55 792.77,205.53 793.70,208.65 794.63,219.51 795.56,212.23 796.49,178.22 797.42,174.95" fill="none" stroke="#f0a43a" stroke-width="0.9" stroke-linejoin="round"/>
<path d="M635.60 206.75h0.01M636.53 217.43h0.01M637.46 190.91h0.01M638.39 219.09h0.01M639.32 215.36h0.01M640.25 202.73h0.01M641.18 190.19h0.01M642.11 194.96h0.01M643.04 210.97h0.01M643.97 168.42h0.01M644.90 209.75h0.01M645.83 219.22h0.01M646.76 217.86h0.01M647.69 220.73h0.01M648.62 223.48h0.01M649.55 207.64h0.01M650.48 210.18h0.01M651.41 209.95h0.01M652.34 208.03h0.01M653.27 209.25h0.01M654.20 212.63h0.01M655.13 197.38h0.01M656.06 225.61h0.01M656.99 199.17h0.01M657.92 213.59h0.01M658.85 190.22h0.01M659.78 229.41h0.01M660.71 220.22h0.01M661.64 190.19h0.01M662.57 213.65h0.01M663.50 178.22h0.01M664.43 199.16h0.01M665.36 209.53h0.01M666.29 216.99h0.01M667.22 200.05h0.01M668.15 217.10h0.01M669.08 201.56h0.01M670.01 229.75h0.01M670.94 211.78h0.01M671.87 203.89h0.01M672.80 222.05h0.01M673.73 225.60h0.01M674.66 217.86h0.01M675.59 208.35h0.01M676.52 209.03h0.01M677.45 204.81h0.01M678.38 221.06h0.01M679.31 170.60h0.01M680.24 222.02h0.01M681.17 218.46h0.01M682.10 191.91h0.01M683.03 227.85h0.01M683.96 195.41h0.01M684.89 205.13h0.01M685.82 191.28h0.01M686.75 210.35h0.01M687.68 220.14h0.01M688.61 218.94h0.01M689.54 213.86h0.01M690.47 213.60h0.01M691.40 211.15h0.01M692.33 192.57h0.01M693.26 227.25h0.01M694.19 228.99h0.01M695.12 212.59h0.01M696.05 210.85h0.01M696.98 159.71h0.01M697.91 176.04h0.01M698.84 204.60h0.01M699.77 215.08h0.01M700.70 222.78h0.01M701.63 197.96h0.01M702.56 225.09h0.01M703.49 208.23h0.01M704.42 213.77h0.01M705.35 200.45h0.01M706.28 194.82h0.01M707.21 197.75h0.01M708.14 207.13h0.01M709.07 214.42h0.01M710.00 219.17h0.01M710.93 200.01h0.01M711.86 205.65h0.01M712.79 222.43h0.01M713.72 193.43h0.01M714.65 181.49h0.01M715.58 230.74h0.01M716.51 198.76h0.01M717.44 181.49h0.01M718.37 209.09h0.01M719.30 218.74h0.01M720.23 212.70h0.01M721.16 201.63h0.01M722.09 185.84h0.01M723.02 220.67h0.01M723.95 178.22h0.01M724.88 206.37h0.01M725.81 218.49h0.01M726.74 183.66h0.01M727.67 217.17h0.01M728.60 212.07h0.01M729.53 207.06h0.01M730.46 226.64h0.01M731.39 209.60h0.01M732.32 221.23h0.01M733.25 215.18h0.01M734.18 196.78h0.01M735.11 198.13h0.01M736.04 194.91h0.01M736.97 216.16h0.01M737.90 204.49h0.01M738.83 208.65h0.01M739.76 191.00h0.01M740.69 215.18h0.01M741.62 208.48h0.01M742.55 203.74h0.01M743.48 226.96h0.01M744.41 219.67h0.01M745.34 209.73h0.01M746.27 221.85h0.01M747.20 229.22h0.01M748.13 223.41h0.01M749.06 212.21h0.01M749.99 213.23h0.01M750.92 192.37h0.01M751.85 210.54h0.01M752.78 182.57h0.01M753.71 183.66h0.01M754.64 215.98h0.01M755.57 225.49h0.01M756.50 215.41h0.01M757.43 225.47h0.01M758.36 208.96h0.01M759.29 196.45h0.01M760.22 186.93h0.01M761.15 209.23h0.01M762.08 205.54h0.01M763.01 207.27h0.01M763.94 186.93h0.01M764.87 211.42h0.01M765.80 192.34h0.01M766.73 229.71h0.01M767.66 210.95h0.01M768.59 197.14h0.01M769.52 221.36h0.01M770.45 189.11h0.01M771.38 199.26h0.01M772.31 201.22h0.01M773.24 212.95h0.01M774.17 221.15h0.01M775.10 213.24h0.01M776.03 202.44h0.01M776.96 191.28h0.01M777.89 182.57h0.01M778.82 208.55h0.01M779.75 221.95h0.01M780.68 213.51h0.01M781.61 209.82h0.01M782.54 227.95h0.01M783.47 197.27h0.01M784.40 217.05h0.01M785.33 194.95h0.01M786.26 209.65h0.01M787.19 214.75h0.01M788.12 191.28h0.01M789.05 211.95h0.01M789.98 226.71h0.01M790.91 208.22h0.01M791.84 209.55h0.01M792.77 205.53h0.01M793.70 208.65h0.01M794.63 219.51h0.01M795.56 212.23h0.01M796.49 178.22h0.01M797.42 174.95h0.01" stroke="#8f7658" stroke-width="2.7" stroke-linecap="round" fill="none"/>
<path d="M635.60 206.75h0.01M636.53 217.43h0.01M637.46 190.91h0.01M638.39 219.09h0.01M639.32 215.36h0.01M640.25 202.73h0.01M641.18 190.19h0.01M642.11 194.96h0.01M643.04 210.97h0.01M643.97 168.42h0.01M644.90 209.75h0.01M645.83 219.22h0.01M646.76 217.86h0.01M647.69 220.73h0.01M648.62 223.48h0.01M649.55 207.64h0.01M650.48 210.18h0.01M651.41 209.95h0.01M652.34 208.03h0.01M653.27 209.25h0.01M654.20 212.63h0.01M655.13 197.38h0.01M656.06 225.61h0.01M656.99 199.17h0.01M657.92 213.59h0.01M658.85 190.22h0.01M659.78 229.41h0.01M660.71 220.22h0.01M661.64 190.19h0.01M662.57 213.65h0.01M663.50 178.22h0.01M664.43 199.16h0.01M665.36 209.53h0.01M666.29 216.99h0.01M667.22 200.05h0.01M668.15 217.10h0.01M669.08 201.56h0.01M670.01 229.75h0.01M670.94 211.78h0.01M671.87 203.89h0.01M672.80 222.05h0.01M673.73 225.60h0.01M674.66 217.86h0.01M675.59 208.35h0.01M676.52 209.03h0.01M677.45 204.81h0.01M678.38 221.06h0.01M679.31 170.60h0.01M680.24 222.02h0.01M681.17 218.46h0.01M682.10 191.91h0.01M683.03 227.85h0.01M683.96 195.41h0.01M684.89 205.13h0.01M685.82 191.28h0.01M686.75 210.35h0.01M687.68 220.14h0.01M688.61 218.94h0.01M689.54 213.86h0.01M690.47 213.60h0.01M691.40 211.15h0.01M692.33 192.57h0.01M693.26 227.25h0.01M694.19 228.99h0.01M695.12 212.59h0.01M696.05 210.85h0.01M696.98 159.71h0.01M697.91 176.04h0.01M698.84 204.60h0.01M699.77 215.08h0.01M700.70 222.78h0.01M701.63 197.96h0.01M702.56 225.09h0.01M703.49 208.23h0.01M704.42 213.77h0.01M705.35 200.45h0.01M706.28 194.82h0.01M707.21 197.75h0.01M708.14 207.13h0.01M709.07 214.42h0.01M710.00 219.17h0.01M710.93 200.01h0.01M711.86 205.65h0.01M712.79 222.43h0.01M713.72 193.43h0.01M714.65 181.49h0.01M715.58 230.74h0.01M716.51 198.76h0.01M717.44 181.49h0.01M718.37 209.09h0.01M719.30 218.74h0.01M720.23 212.70h0.01M721.16 201.63h0.01M722.09 185.84h0.01M723.02 220.67h0.01M723.95 178.22h0.01M724.88 206.37h0.01M725.81 218.49h0.01M726.74 183.66h0.01M727.67 217.17h0.01M728.60 212.07h0.01M729.53 207.06h0.01M730.46 226.64h0.01M731.39 209.60h0.01M732.32 221.23h0.01M733.25 215.18h0.01M734.18 196.78h0.01M735.11 198.13h0.01M736.04 194.91h0.01M736.97 216.16h0.01M737.90 204.49h0.01M738.83 208.65h0.01M739.76 191.00h0.01M740.69 215.18h0.01M741.62 208.48h0.01M742.55 203.74h0.01M743.48 226.96h0.01M744.41 219.67h0.01M745.34 209.73h0.01M746.27 221.85h0.01M747.20 229.22h0.01M748.13 223.41h0.01M749.06 212.21h0.01M749.99 213.23h0.01M750.92 192.37h0.01M751.85 210.54h0.01M752.78 182.57h0.01M753.71 183.66h0.01M754.64 215.98h0.01M755.57 225.49h0.01M756.50 215.41h0.01M757.43 225.47h0.01M758.36 208.96h0.01M759.29 196.45h0.01M760.22 186.93h0.01M761.15 209.23h0.01M762.08 205.54h0.01M763.01 207.27h0.01M763.94 186.93h0.01M764.87 211.42h0.01M765.80 192.34h0.01M766.73 229.71h0.01M767.66 210.95h0.01M768.59 197.14h0.01M769.52 221.36h0.01M770.45 189.11h0.01M771.38 199.26h0.01M772.31 201.22h0.01M773.24 212.95h0.01M774.17 221.15h0.01M775.10 213.24h0.01M776.03 202.44h0.01M776.96 191.28h0.01M777.89 182.57h0.01M778.82 208.55h0.01M779.75 221.95h0.01M780.68 213.51h0.01M781.61 209.82h0.01M782.54 227.95h0.01M783.47 197.27h0.01M784.40 217.05h0.01M785.33 194.95h0.01M786.26 209.65h0.01M787.19 214.75h0.01M788.12 191.28h0.01M789.05 211.95h0.01M789.98 226.71h0.01M790.91 208.22h0.01M791.84 209.55h0.01M792.77 205.53h0.01M793.70 208.65h0.01M794.63 219.51h0.01M795.56 212.23h0.01M796.49 178.22h0.01M797.42 174.95h0.01" stroke="#f3a440" stroke-width="1.6" stroke-linecap="round" fill="none"/>
<rect x="627.50" y="130.90" width="179.10" height="107.20" fill="none" stroke="#b0b0b0" stroke-width="1.15"/>
<text x="626.00" y="240.50" text-anchor="end" class="pt">0.0</text>
<text x="626.00" y="218.72" text-anchor="end" class="pt">2.0</text>
<text x="626.00" y="196.95" text-anchor="end" class="pt">4.0</text>
<text x="626.00" y="175.18" text-anchor="end" class="pt">6.0</text>
<text x="626.00" y="153.40" text-anchor="end" class="pt">8.0</text>
<text x="635.60" y="244.50" text-anchor="middle" class="pt">0</text>
<text x="682.10" y="244.50" text-anchor="middle" class="pt">50</text>
<text x="728.60" y="244.50" text-anchor="middle" class="pt">100</text>
<text x="775.10" y="244.50" text-anchor="middle" class="pt">150</text>
<path d="M627.50 238.10h-2M627.50 216.32h-2M627.50 194.55h-2M627.50 172.78h-2M627.50 151.00h-2M635.60 238.10v2M682.10 238.10v2M728.60 238.10v2M775.10 238.10v2" stroke="#333" stroke-width="0.6" fill="none"/>
<text x="717.05" y="251.70" text-anchor="middle" class="pl">Sample Points</text>
<text transform="translate(610.70 184.50) rotate(-90)" text-anchor="middle" class="pl">TN (kg/ha)</text>
<text x="629.70" y="138.50" class="pn">(e)</text>
<rect x="780.80" y="131.70" width="24.50" height="10.00" rx="0.8" fill="#fff" fill-opacity="0.8" stroke="#e4e4e4" stroke-width="0.4"/>
<path d="M782.00 135.00h7.4" stroke="#f0a43a" stroke-width="0.7" stroke-dasharray="2.5 2.4 2.5"/>
<circle cx="785.70" cy="135.00" r="0.95" fill="#f0a43a" stroke="#8f7658" stroke-width="0.45"/>
<rect x="782.00" y="138.30" width="7.4" height="1.9" fill="#b9d3ec"/>
<text x="792.00" y="136.00" class="lg">GNNWR</text>
<text x="792.00" y="140.20" class="lg">Real</text>
</g>
<g>
<path d="M846.20 237.90V226.05M847.17 237.90V227.04M848.15 237.90V230.68M849.12 237.90V230.31M850.09 237.90V221.64M851.06 237.90V229.49M852.04 237.90V228.09M853.01 237.90V228.29M853.98 237.90V227.35M854.95 237.90V225.58M855.93 237.90V227.69M856.90 237.90V230.13M857.87 237.90V226.11M858.84 237.90V219.23M859.82 237.90V225.63M860.79 237.90V229.63M861.76 237.90V208.78M862.74 237.90V228.15M863.71 237.90V223.93M864.68 237.90V226.92M865.65 237.90V220.81M866.63 237.90V223.10M867.60 237.90V229.37M868.57 237.90V217.34M869.54 237.90V204.53M870.52 237.90V229.82M871.49 237.90V228.78M872.46 237.90V229.36M873.43 237.90V217.35M874.41 237.90V223.77M875.38 237.90V223.89M876.35 237.90V218.81M877.33 237.90V215.07M878.30 237.90V224.74M879.27 237.90V223.43M880.24 237.90V226.15M881.22 237.90V226.10M882.19 237.90V225.68M883.16 237.90V226.83M884.13 237.90V222.51M885.11 237.90V218.64M886.08 237.90V230.14M887.05 237.90V221.97M888.02 237.90V227.15M889.00 237.90V226.61M889.97 237.90V230.97M890.94 237.90V232.66M891.92 237.90V206.35M892.89 237.90V227.79M893.86 237.90V227.78M894.83 237.90V226.30M895.81 237.90V229.76M896.78 237.90V223.42M897.75 237.90V216.04M898.72 237.90V218.57M899.70 237.90V223.38M900.67 237.90V225.50M901.64 237.90V225.29M902.61 237.90V226.40M903.59 237.90V226.80M904.56 237.90V227.63M905.53 237.90V228.42M906.51 237.90V208.78M907.48 237.90V221.02M908.45 237.90V222.11M909.42 237.90V223.94M910.40 237.90V228.46M911.37 237.90V225.30M912.34 237.90V229.74M913.31 237.90V226.21M914.29 237.90V229.73M915.26 237.90V227.80M916.23 237.90V226.09M917.20 237.90V221.29M918.18 237.90V226.87M919.15 237.90V229.34M920.12 237.90V232.63M921.10 237.90V226.54M922.07 237.90V220.32M923.04 237.90V224.94M924.01 237.90V226.63M924.99 237.90V225.80M925.96 237.90V225.03M926.93 237.90V229.40M927.90 237.90V226.45M928.88 237.90V221.70M929.85 237.90V223.52M930.82 237.90V225.48M931.79 237.90V221.19M932.77 237.90V230.64M933.74 237.90V216.95M934.71 237.90V229.13M935.69 237.90V228.36M936.66 237.90V218.62M937.63 237.90V223.79M938.60 237.90V225.84M939.58 237.90V219.79M940.55 237.90V230.05M941.52 237.90V219.96M942.49 237.90V208.78M943.47 237.90V225.31M944.44 237.90V135.98M945.41 237.90V225.82M946.38 237.90V217.34M947.36 237.90V216.31M948.33 237.90V223.92M949.30 237.90V228.82M950.28 237.90V223.49M951.25 237.90V224.91M952.22 237.90V230.59M953.19 237.90V209.87M954.17 237.90V227.20M955.14 237.90V214.83M956.11 237.90V231.68M957.08 237.90V221.19M958.06 237.90V229.13M959.03 237.90V218.97M960.00 237.90V222.62M960.97 237.90V232.01M961.95 237.90V192.40M962.92 237.90V228.43M963.89 237.90V229.62M964.87 237.90V216.96M965.84 237.90V220.72M966.81 237.90V198.47M967.78 237.90V224.49M968.76 237.90V214.07M969.73 237.90V222.73M970.70 237.90V216.87M971.67 237.90V227.40M972.65 237.90V215.62M973.62 237.90V219.96M974.59 237.90V220.92M975.56 237.90V215.61M976.54 237.90V229.61M977.51 237.90V232.52M978.48 237.90V223.13M979.46 237.90V221.52M980.43 237.90V225.99M981.40 237.90V223.18M982.37 237.90V216.34M983.35 237.90V227.34M984.32 237.90V219.67M985.29 237.90V221.00M986.26 237.90V208.78M987.24 237.90V214.72M988.21 237.90V225.39M989.18 237.90V224.88M990.15 237.90V225.44M991.13 237.90V228.99M992.10 237.90V229.46M993.07 237.90V230.65M994.05 237.90V201.50M995.02 237.90V221.90M995.99 237.90V221.15M996.96 237.90V226.24M997.94 237.90V225.13M998.91 237.90V214.71M999.88 237.90V212.44M1000.85 237.90V221.33M1001.83 237.90V220.51M1002.80 237.90V232.81M1003.77 237.90V221.32M1004.74 237.90V229.83M1005.72 237.90V230.02M1006.69 237.90V223.49M1007.66 237.90V231.70M1008.64 237.90V232.33M1009.61 237.90V221.23" stroke="#c4daef" stroke-width="0.78" fill="none"/>
<polyline points="846.20,227.54 847.17,234.53 848.15,220.03 849.12,228.09 850.09,205.14 851.06,229.60 852.04,224.72 853.01,234.05 853.98,222.55 854.95,215.35 855.93,229.69 856.90,225.67 857.87,228.95 858.84,224.63 859.82,225.18 860.79,231.68 861.76,212.92 862.74,227.03 863.71,224.37 864.68,221.67 865.65,217.74 866.63,221.30 867.60,227.30 868.57,220.33 869.54,197.86 870.52,228.81 871.49,229.59 872.46,225.57 873.43,212.14 874.41,228.20 875.38,221.85 876.35,222.88 877.33,219.06 878.30,226.38 879.27,222.20 880.24,223.88 881.22,203.93 882.19,225.03 883.16,222.66 884.13,220.33 885.11,220.88 886.08,226.82 887.05,219.71 888.02,221.39 889.00,220.47 889.97,223.21 890.94,233.02 891.92,197.86 892.89,230.65 893.86,225.80 894.83,227.35 895.81,231.01 896.78,227.10 897.75,217.53 898.72,223.02 899.70,230.16 900.67,226.17 901.64,226.62 902.61,211.21 903.59,229.64 904.56,228.22 905.53,227.82 906.51,211.81 907.48,222.12 908.45,226.63 909.42,224.33 910.40,232.44 911.37,223.60 912.34,231.06 913.31,222.39 914.29,234.30 915.26,224.82 916.23,223.64 917.20,223.29 918.18,219.50 919.15,229.22 920.12,204.53 921.10,226.19 922.07,223.96 923.04,222.44 924.01,203.32 924.99,222.41 925.96,222.48 926.93,203.93 927.90,224.80 928.88,223.59 929.85,223.75 930.82,225.15 931.79,200.29 932.77,224.82 933.74,218.10 934.71,228.62 935.69,225.10 936.66,219.45 937.63,223.78 938.60,236.08 939.58,215.24 940.55,234.95 941.52,221.36 942.49,208.77 943.47,227.68 944.44,181.48 945.41,222.99 946.38,222.39 947.36,217.10 948.33,224.68 949.30,225.95 950.28,218.47 951.25,229.59 952.22,202.11 953.19,212.79 954.17,225.80 955.14,217.05 956.11,227.86 957.08,222.78 958.06,230.59 959.03,219.14 960.00,227.43 960.97,234.71 961.95,203.93 962.92,229.76 963.89,221.16 964.87,236.69 965.84,222.98 966.81,211.56 967.78,223.54 968.76,214.22 969.73,224.27 970.70,215.56 971.67,229.00 972.65,215.00 973.62,230.02 974.59,219.23 975.56,219.64 976.54,223.75 977.51,231.93 978.48,224.09 979.46,218.02 980.43,236.08 981.40,220.19 982.37,221.98 983.35,224.83 984.32,216.80 985.29,224.02 986.26,208.96 987.24,211.28 988.21,222.13 989.18,228.61 990.15,201.50 991.13,228.87 992.10,206.35 993.07,231.07 994.05,197.25 995.02,219.99 995.99,219.90 996.96,218.00 997.94,236.69 998.91,216.58 999.88,213.78 1000.85,222.12 1001.83,224.10 1002.80,203.93 1003.77,220.35 1004.74,229.39 1005.72,218.34 1006.69,223.87 1007.66,226.87 1008.64,228.66 1009.61,236.69" fill="none" stroke="#f0a43a" stroke-width="0.9" stroke-linejoin="round"/>
<path d="M846.20 227.54h0.01M847.17 234.53h0.01M848.15 220.03h0.01M849.12 228.09h0.01M850.09 205.14h0.01M851.06 229.60h0.01M852.04 224.72h0.01M853.01 234.05h0.01M853.98 222.55h0.01M854.95 215.35h0.01M855.93 229.69h0.01M856.90 225.67h0.01M857.87 228.95h0.01M858.84 224.63h0.01M859.82 225.18h0.01M860.79 231.68h0.01M861.76 212.92h0.01M862.74 227.03h0.01M863.71 224.37h0.01M864.68 221.67h0.01M865.65 217.74h0.01M866.63 221.30h0.01M867.60 227.30h0.01M868.57 220.33h0.01M869.54 197.86h0.01M870.52 228.81h0.01M871.49 229.59h0.01M872.46 225.57h0.01M873.43 212.14h0.01M874.41 228.20h0.01M875.38 221.85h0.01M876.35 222.88h0.01M877.33 219.06h0.01M878.30 226.38h0.01M879.27 222.20h0.01M880.24 223.88h0.01M881.22 203.93h0.01M882.19 225.03h0.01M883.16 222.66h0.01M884.13 220.33h0.01M885.11 220.88h0.01M886.08 226.82h0.01M887.05 219.71h0.01M888.02 221.39h0.01M889.00 220.47h0.01M889.97 223.21h0.01M890.94 233.02h0.01M891.92 197.86h0.01M892.89 230.65h0.01M893.86 225.80h0.01M894.83 227.35h0.01M895.81 231.01h0.01M896.78 227.10h0.01M897.75 217.53h0.01M898.72 223.02h0.01M899.70 230.16h0.01M900.67 226.17h0.01M901.64 226.62h0.01M902.61 211.21h0.01M903.59 229.64h0.01M904.56 228.22h0.01M905.53 227.82h0.01M906.51 211.81h0.01M907.48 222.12h0.01M908.45 226.63h0.01M909.42 224.33h0.01M910.40 232.44h0.01M911.37 223.60h0.01M912.34 231.06h0.01M913.31 222.39h0.01M914.29 234.30h0.01M915.26 224.82h0.01M916.23 223.64h0.01M917.20 223.29h0.01M918.18 219.50h0.01M919.15 229.22h0.01M920.12 204.53h0.01M921.10 226.19h0.01M922.07 223.96h0.01M923.04 222.44h0.01M924.01 203.32h0.01M924.99 222.41h0.01M925.96 222.48h0.01M926.93 203.93h0.01M927.90 224.80h0.01M928.88 223.59h0.01M929.85 223.75h0.01M930.82 225.15h0.01M931.79 200.29h0.01M932.77 224.82h0.01M933.74 218.10h0.01M934.71 228.62h0.01M935.69 225.10h0.01M936.66 219.45h0.01M937.63 223.78h0.01M938.60 236.08h0.01M939.58 215.24h0.01M940.55 234.95h0.01M941.52 221.36h0.01M942.49 208.77h0.01M943.47 227.68h0.01M944.44 181.48h0.01M945.41 222.99h0.01M946.38 222.39h0.01M947.36 217.10h0.01M948.33 224.68h0.01M949.30 225.95h0.01M950.28 218.47h0.01M951.25 229.59h0.01M952.22 202.11h0.01M953.19 212.79h0.01M954.17 225.80h0.01M955.14 217.05h0.01M956.11 227.86h0.01M957.08 222.78h0.01M958.06 230.59h0.01M959.03 219.14h0.01M960.00 227.43h0.01M960.97 234.71h0.01M961.95 203.93h0.01M962.92 229.76h0.01M963.89 221.16h0.01M964.87 236.69h0.01M965.84 222.98h0.01M966.81 211.56h0.01M967.78 223.54h0.01M968.76 214.22h0.01M969.73 224.27h0.01M970.70 215.56h0.01M971.67 229.00h0.01M972.65 215.00h0.01M973.62 230.02h0.01M974.59 219.23h0.01M975.56 219.64h0.01M976.54 223.75h0.01M977.51 231.93h0.01M978.48 224.09h0.01M979.46 218.02h0.01M980.43 236.08h0.01M981.40 220.19h0.01M982.37 221.98h0.01M983.35 224.83h0.01M984.32 216.80h0.01M985.29 224.02h0.01M986.26 208.96h0.01M987.24 211.28h0.01M988.21 222.13h0.01M989.18 228.61h0.01M990.15 201.50h0.01M991.13 228.87h0.01M992.10 206.35h0.01M993.07 231.07h0.01M994.05 197.25h0.01M995.02 219.99h0.01M995.99 219.90h0.01M996.96 218.00h0.01M997.94 236.69h0.01M998.91 216.58h0.01M999.88 213.78h0.01M1000.85 222.12h0.01M1001.83 224.10h0.01M1002.80 203.93h0.01M1003.77 220.35h0.01M1004.74 229.39h0.01M1005.72 218.34h0.01M1006.69 223.87h0.01M1007.66 226.87h0.01M1008.64 228.66h0.01M1009.61 236.69h0.01" stroke="#8f7658" stroke-width="2.7" stroke-linecap="round" fill="none"/>
<path d="M846.20 227.54h0.01M847.17 234.53h0.01M848.15 220.03h0.01M849.12 228.09h0.01M850.09 205.14h0.01M851.06 229.60h0.01M852.04 224.72h0.01M853.01 234.05h0.01M853.98 222.55h0.01M854.95 215.35h0.01M855.93 229.69h0.01M856.90 225.67h0.01M857.87 228.95h0.01M858.84 224.63h0.01M859.82 225.18h0.01M860.79 231.68h0.01M861.76 212.92h0.01M862.74 227.03h0.01M863.71 224.37h0.01M864.68 221.67h0.01M865.65 217.74h0.01M866.63 221.30h0.01M867.60 227.30h0.01M868.57 220.33h0.01M869.54 197.86h0.01M870.52 228.81h0.01M871.49 229.59h0.01M872.46 225.57h0.01M873.43 212.14h0.01M874.41 228.20h0.01M875.38 221.85h0.01M876.35 222.88h0.01M877.33 219.06h0.01M878.30 226.38h0.01M879.27 222.20h0.01M880.24 223.88h0.01M881.22 203.93h0.01M882.19 225.03h0.01M883.16 222.66h0.01M884.13 220.33h0.01M885.11 220.88h0.01M886.08 226.82h0.01M887.05 219.71h0.01M888.02 221.39h0.01M889.00 220.47h0.01M889.97 223.21h0.01M890.94 233.02h0.01M891.92 197.86h0.01M892.89 230.65h0.01M893.86 225.80h0.01M894.83 227.35h0.01M895.81 231.01h0.01M896.78 227.10h0.01M897.75 217.53h0.01M898.72 223.02h0.01M899.70 230.16h0.01M900.67 226.17h0.01M901.64 226.62h0.01M902.61 211.21h0.01M903.59 229.64h0.01M904.56 228.22h0.01M905.53 227.82h0.01M906.51 211.81h0.01M907.48 222.12h0.01M908.45 226.63h0.01M909.42 224.33h0.01M910.40 232.44h0.01M911.37 223.60h0.01M912.34 231.06h0.01M913.31 222.39h0.01M914.29 234.30h0.01M915.26 224.82h0.01M916.23 223.64h0.01M917.20 223.29h0.01M918.18 219.50h0.01M919.15 229.22h0.01M920.12 204.53h0.01M921.10 226.19h0.01M922.07 223.96h0.01M923.04 222.44h0.01M924.01 203.32h0.01M924.99 222.41h0.01M925.96 222.48h0.01M926.93 203.93h0.01M927.90 224.80h0.01M928.88 223.59h0.01M929.85 223.75h0.01M930.82 225.15h0.01M931.79 200.29h0.01M932.77 224.82h0.01M933.74 218.10h0.01M934.71 228.62h0.01M935.69 225.10h0.01M936.66 219.45h0.01M937.63 223.78h0.01M938.60 236.08h0.01M939.58 215.24h0.01M940.55 234.95h0.01M941.52 221.36h0.01M942.49 208.77h0.01M943.47 227.68h0.01M944.44 181.48h0.01M945.41 222.99h0.01M946.38 222.39h0.01M947.36 217.10h0.01M948.33 224.68h0.01M949.30 225.95h0.01M950.28 218.47h0.01M951.25 229.59h0.01M952.22 202.11h0.01M953.19 212.79h0.01M954.17 225.80h0.01M955.14 217.05h0.01M956.11 227.86h0.01M957.08 222.78h0.01M958.06 230.59h0.01M959.03 219.14h0.01M960.00 227.43h0.01M960.97 234.71h0.01M961.95 203.93h0.01M962.92 229.76h0.01M963.89 221.16h0.01M964.87 236.69h0.01M965.84 222.98h0.01M966.81 211.56h0.01M967.78 223.54h0.01M968.76 214.22h0.01M969.73 224.27h0.01M970.70 215.56h0.01M971.67 229.00h0.01M972.65 215.00h0.01M973.62 230.02h0.01M974.59 219.23h0.01M975.56 219.64h0.01M976.54 223.75h0.01M977.51 231.93h0.01M978.48 224.09h0.01M979.46 218.02h0.01M980.43 236.08h0.01M981.40 220.19h0.01M982.37 221.98h0.01M983.35 224.83h0.01M984.32 216.80h0.01M985.29 224.02h0.01M986.26 208.96h0.01M987.24 211.28h0.01M988.21 222.13h0.01M989.18 228.61h0.01M990.15 201.50h0.01M991.13 228.87h0.01M992.10 206.35h0.01M993.07 231.07h0.01M994.05 197.25h0.01M995.02 219.99h0.01M995.99 219.90h0.01M996.96 218.00h0.01M997.94 236.69h0.01M998.91 216.58h0.01M999.88 213.78h0.01M1000.85 222.12h0.01M1001.83 224.10h0.01M1002.80 203.93h0.01M1003.77 220.35h0.01M1004.74 229.39h0.01M1005.72 218.34h0.01M1006.69 223.87h0.01M1007.66 226.87h0.01M1008.64 228.66h0.01M1009.61 236.69h0.01" stroke="#f3a440" stroke-width="1.6" stroke-linecap="round" fill="none"/>
<rect x="837.70" y="129.80" width="180.80" height="108.10" fill="none" stroke="#b0b0b0" stroke-width="1.15"/>
<text x="836.20" y="240.30" text-anchor="end" class="pt">0.0</text>
<text x="836.20" y="209.97" text-anchor="end" class="pt">5.0</text>
<text x="836.20" y="179.63" text-anchor="end" class="pt">10.0</text>
<text x="836.20" y="149.30" text-anchor="end" class="pt">15.0</text>
<text x="846.20" y="244.30" text-anchor="middle" class="pt">0</text>
<text x="894.83" y="244.30" text-anchor="middle" class="pt">50</text>
<text x="943.47" y="244.30" text-anchor="middle" class="pt">100</text>
<text x="992.10" y="244.30" text-anchor="middle" class="pt">150</text>
<path d="M837.70 237.90h-2M837.70 207.57h-2M837.70 177.23h-2M837.70 146.90h-2M846.20 237.90v2M894.83 237.90v2M943.47 237.90v2M992.10 237.90v2" stroke="#333" stroke-width="0.6" fill="none"/>
<text x="928.10" y="251.50" text-anchor="middle" class="pl">Sample Points</text>
<text transform="translate(820.90 183.85) rotate(-90)" text-anchor="middle" class="pl">TN (kg/ha)</text>
<text x="839.90" y="137.40" class="pn">(f)</text>
<rect x="990.70" y="130.60" width="26.50" height="10.00" rx="0.8" fill="#fff" fill-opacity="0.8" stroke="#e4e4e4" stroke-width="0.4"/>
<path d="M991.90 133.90h7.4" stroke="#f0a43a" stroke-width="0.7" stroke-dasharray="2.5 2.4 2.5"/>
<circle cx="995.60" cy="133.90" r="0.95" fill="#f0a43a" stroke="#8f7658" stroke-width="0.45"/>
<rect x="991.90" y="137.20" width="7.4" height="1.9" fill="#b9d3ec"/>
<text x="1001.90" y="134.90" class="lg">GTNNWR</text>
<text x="1001.90" y="139.10" class="lg">Real</text>
</g>
<g>
<path d="M430.50 368.00V312.44M431.44 368.00V268.37M432.37 368.00V341.38M433.31 368.00V347.56M434.24 368.00V352.52M435.18 368.00V310.52M436.12 368.00V349.80M437.05 368.00V346.01M437.99 368.00V340.64M438.92 368.00V331.73M439.86 368.00V342.85M440.80 368.00V330.56M441.73 368.00V340.24M442.67 368.00V344.32M443.60 368.00V347.55M444.54 368.00V353.43M445.48 368.00V356.92M446.41 368.00V346.31M447.35 368.00V347.15M448.28 368.00V342.08M449.22 368.00V341.97M450.16 368.00V355.22M451.09 368.00V351.68M452.03 368.00V354.40M452.96 368.00V333.01M453.90 368.00V346.74M454.84 368.00V344.39M455.77 368.00V353.06M456.71 368.00V355.32M457.64 368.00V350.78M458.58 368.00V318.18M459.52 368.00V340.61M460.45 368.00V356.66M461.39 368.00V342.18M462.32 368.00V352.78M463.26 368.00V350.35M464.20 368.00V348.77M465.13 368.00V349.59M466.07 368.00V340.67M467.00 368.00V306.69M467.94 368.00V342.09M468.88 368.00V350.48M469.81 368.00V341.17M470.75 368.00V341.69M471.68 368.00V277.95M472.62 368.00V342.91M473.56 368.00V357.12M474.49 368.00V283.70M475.43 368.00V349.37M476.36 368.00V334.45M477.30 368.00V347.03M478.24 368.00V334.63M479.17 368.00V342.64M480.11 368.00V354.86M481.04 368.00V345.27M481.98 368.00V339.52M482.92 368.00V295.19M483.85 368.00V356.46M484.79 368.00V341.09M485.72 368.00V350.83M486.66 368.00V308.60M487.60 368.00V350.70M488.53 368.00V358.71M489.47 368.00V355.34M490.40 368.00V325.80M491.34 368.00V312.44M492.28 368.00V332.36M493.21 368.00V341.00M494.15 368.00V316.28M495.08 368.00V342.08M496.02 368.00V353.58M496.96 368.00V360.34M497.89 368.00V334.67M498.83 368.00V359.81M499.76 368.00V360.34M500.70 368.00V351.34M501.64 368.00V345.07M502.57 368.00V352.81M503.51 368.00V332.58M504.44 368.00V346.57M505.38 368.00V343.53M506.32 368.00V340.81M507.25 368.00V350.81M508.19 368.00V343.51M509.12 368.00V312.44M510.06 368.00V353.30M511.00 368.00V343.96M511.93 368.00V339.76M512.87 368.00V350.45M513.80 368.00V346.12M514.74 368.00V357.60M515.68 368.00V349.61M516.61 368.00V345.22M517.55 368.00V331.18M518.48 368.00V333.82M519.42 368.00V350.71M520.36 368.00V354.37M521.29 368.00V317.18M522.23 368.00V334.62M523.16 368.00V358.46M524.10 368.00V348.74M525.04 368.00V353.03M525.97 368.00V350.91M526.91 368.00V357.60M527.84 368.00V349.41M528.78 368.00V350.19M529.72 368.00V347.80M530.65 368.00V332.18M531.59 368.00V343.14M532.52 368.00V354.98M533.46 368.00V357.68M534.40 368.00V300.94M535.33 368.00V330.33M536.27 368.00V333.69M537.20 368.00V350.72M538.14 368.00V330.08M539.08 368.00V340.65M540.01 368.00V350.84M540.95 368.00V340.65M541.88 368.00V346.23M542.82 368.00V310.52M543.76 368.00V349.43M544.69 368.00V343.73M545.63 368.00V327.15M546.56 368.00V353.82M547.50 368.00V342.84M548.44 368.00V266.45M549.37 368.00V345.89M550.31 368.00V354.95M551.24 368.00V328.12M552.18 368.00V327.41M553.12 368.00V321.53M554.05 368.00V340.04M554.99 368.00V323.89M555.92 368.00V339.11M556.86 368.00V332.46M557.80 368.00V348.49M558.73 368.00V342.92M559.67 368.00V348.41M560.60 368.00V353.90M561.54 368.00V349.35M562.48 368.00V354.32M563.41 368.00V354.28M564.35 368.00V348.97M565.28 368.00V350.71M566.22 368.00V312.44M567.16 368.00V317.43M568.09 368.00V331.01M569.03 368.00V314.35M569.96 368.00V352.58M570.90 368.00V342.25M571.84 368.00V356.16M572.77 368.00V350.88M573.71 368.00V349.72M574.64 368.00V348.73M575.58 368.00V300.94M576.52 368.00V352.07M577.45 368.00V312.44M578.39 368.00V349.95M579.32 368.00V334.57M580.26 368.00V356.87M581.20 368.00V333.66M582.13 368.00V354.95M583.07 368.00V343.10M584.00 368.00V300.94M584.94 368.00V334.94M585.88 368.00V337.97M586.81 368.00V340.82M587.75 368.00V346.71M588.68 368.00V312.75M589.62 368.00V349.50M590.56 368.00V345.09M591.49 368.00V349.59M592.43 368.00V343.76" stroke="#c4daef" stroke-width="0.75" fill="none"/>
<polyline points="430.50,324.86 431.44,299.02 432.37,348.39 433.31,345.33 434.24,312.44 435.18,318.29 436.12,316.27 437.05,355.87 437.99,348.00 438.92,327.76 439.86,346.14 440.80,334.64 441.73,335.27 442.67,359.63 443.60,356.30 444.54,351.27 445.48,358.22 446.41,347.46 447.35,343.38 448.28,336.53 449.22,333.33 450.16,348.44 451.09,343.93 452.03,351.22 452.96,318.18 453.90,341.66 454.84,305.92 455.77,356.99 456.71,357.89 457.64,350.54 458.58,319.94 459.52,356.52 460.45,355.36 461.39,359.39 462.32,351.27 463.26,355.39 464.20,345.99 465.13,336.91 466.07,352.06 467.00,322.79 467.94,329.22 468.88,356.84 469.81,328.53 470.75,343.33 471.68,326.45 472.62,357.48 473.56,353.49 474.49,311.29 475.43,352.13 476.36,328.76 477.30,353.99 478.24,342.86 479.17,350.56 480.11,351.71 481.04,345.24 481.98,352.48 482.92,323.21 483.85,344.75 484.79,340.23 485.72,349.21 486.66,325.40 487.60,353.43 488.53,359.44 489.47,357.02 490.40,337.04 491.34,333.21 492.28,318.18 493.21,328.48 494.15,335.16 495.08,326.21 496.02,358.12 496.96,351.90 497.89,349.38 498.83,351.14 499.76,308.60 500.70,350.89 501.64,347.28 502.57,348.83 503.51,332.03 504.44,343.03 505.38,342.76 506.32,340.54 507.25,354.51 508.19,338.62 509.12,319.10 510.06,335.65 511.00,333.33 511.93,330.98 512.87,353.21 513.80,352.40 514.74,356.02 515.68,353.24 516.61,340.11 517.55,326.47 518.48,323.84 519.42,316.27 520.36,341.96 521.29,321.17 522.23,325.32 523.16,349.94 524.10,334.41 525.04,330.82 525.97,341.24 526.91,358.80 527.84,334.73 528.78,355.35 529.72,338.99 530.65,318.81 531.59,337.95 532.52,356.55 533.46,357.71 534.40,325.85 535.33,330.80 536.27,324.81 537.20,336.98 538.14,334.06 539.08,346.55 540.01,351.30 540.95,338.83 541.88,352.20 542.82,324.68 543.76,358.36 544.69,349.40 545.63,321.87 546.56,358.98 547.50,339.38 548.44,318.95 549.37,348.35 550.31,356.84 551.24,326.86 552.18,338.32 553.12,319.50 554.05,341.06 554.99,332.33 555.92,342.30 556.86,328.10 557.80,359.42 558.73,321.02 559.67,351.09 560.60,355.11 561.54,352.81 562.48,353.37 563.41,360.22 564.35,343.24 565.28,341.55 566.22,323.61 567.16,318.24 568.09,328.30 569.03,319.48 569.96,350.28 570.90,351.36 571.84,355.37 572.77,341.67 573.71,349.38 574.64,337.11 575.58,320.10 576.52,357.74 577.45,320.34 578.39,357.89 579.32,341.74 580.26,349.17 581.20,330.72 582.13,308.60 583.07,340.91 584.00,320.10 584.94,318.48 585.88,336.03 586.81,341.40 587.75,347.96 588.68,322.25 589.62,338.35 590.56,343.60 591.49,338.62 592.43,315.50" fill="none" stroke="#f0a43a" stroke-width="0.9" stroke-linejoin="round"/>
<path d="M430.50 324.86h0.01M431.44 299.02h0.01M432.37 348.39h0.01M433.31 345.33h0.01M434.24 312.44h0.01M435.18 318.29h0.01M436.12 316.27h0.01M437.05 355.87h0.01M437.99 348.00h0.01M438.92 327.76h0.01M439.86 346.14h0.01M440.80 334.64h0.01M441.73 335.27h0.01M442.67 359.63h0.01M443.60 356.30h0.01M444.54 351.27h0.01M445.48 358.22h0.01M446.41 347.46h0.01M447.35 343.38h0.01M448.28 336.53h0.01M449.22 333.33h0.01M450.16 348.44h0.01M451.09 343.93h0.01M452.03 351.22h0.01M452.96 318.18h0.01M453.90 341.66h0.01M454.84 305.92h0.01M455.77 356.99h0.01M456.71 357.89h0.01M457.64 350.54h0.01M458.58 319.94h0.01M459.52 356.52h0.01M460.45 355.36h0.01M461.39 359.39h0.01M462.32 351.27h0.01M463.26 355.39h0.01M464.20 345.99h0.01M465.13 336.91h0.01M466.07 352.06h0.01M467.00 322.79h0.01M467.94 329.22h0.01M468.88 356.84h0.01M469.81 328.53h0.01M470.75 343.33h0.01M471.68 326.45h0.01M472.62 357.48h0.01M473.56 353.49h0.01M474.49 311.29h0.01M475.43 352.13h0.01M476.36 328.76h0.01M477.30 353.99h0.01M478.24 342.86h0.01M479.17 350.56h0.01M480.11 351.71h0.01M481.04 345.24h0.01M481.98 352.48h0.01M482.92 323.21h0.01M483.85 344.75h0.01M484.79 340.23h0.01M485.72 349.21h0.01M486.66 325.40h0.01M487.60 353.43h0.01M488.53 359.44h0.01M489.47 357.02h0.01M490.40 337.04h0.01M491.34 333.21h0.01M492.28 318.18h0.01M493.21 328.48h0.01M494.15 335.16h0.01M495.08 326.21h0.01M496.02 358.12h0.01M496.96 351.90h0.01M497.89 349.38h0.01M498.83 351.14h0.01M499.76 308.60h0.01M500.70 350.89h0.01M501.64 347.28h0.01M502.57 348.83h0.01M503.51 332.03h0.01M504.44 343.03h0.01M505.38 342.76h0.01M506.32 340.54h0.01M507.25 354.51h0.01M508.19 338.62h0.01M509.12 319.10h0.01M510.06 335.65h0.01M511.00 333.33h0.01M511.93 330.98h0.01M512.87 353.21h0.01M513.80 352.40h0.01M514.74 356.02h0.01M515.68 353.24h0.01M516.61 340.11h0.01M517.55 326.47h0.01M518.48 323.84h0.01M519.42 316.27h0.01M520.36 341.96h0.01M521.29 321.17h0.01M522.23 325.32h0.01M523.16 349.94h0.01M524.10 334.41h0.01M525.04 330.82h0.01M525.97 341.24h0.01M526.91 358.80h0.01M527.84 334.73h0.01M528.78 355.35h0.01M529.72 338.99h0.01M530.65 318.81h0.01M531.59 337.95h0.01M532.52 356.55h0.01M533.46 357.71h0.01M534.40 325.85h0.01M535.33 330.80h0.01M536.27 324.81h0.01M537.20 336.98h0.01M538.14 334.06h0.01M539.08 346.55h0.01M540.01 351.30h0.01M540.95 338.83h0.01M541.88 352.20h0.01M542.82 324.68h0.01M543.76 358.36h0.01M544.69 349.40h0.01M545.63 321.87h0.01M546.56 358.98h0.01M547.50 339.38h0.01M548.44 318.95h0.01M549.37 348.35h0.01M550.31 356.84h0.01M551.24 326.86h0.01M552.18 338.32h0.01M553.12 319.50h0.01M554.05 341.06h0.01M554.99 332.33h0.01M555.92 342.30h0.01M556.86 328.10h0.01M557.80 359.42h0.01M558.73 321.02h0.01M559.67 351.09h0.01M560.60 355.11h0.01M561.54 352.81h0.01M562.48 353.37h0.01M563.41 360.22h0.01M564.35 343.24h0.01M565.28 341.55h0.01M566.22 323.61h0.01M567.16 318.24h0.01M568.09 328.30h0.01M569.03 319.48h0.01M569.96 350.28h0.01M570.90 351.36h0.01M571.84 355.37h0.01M572.77 341.67h0.01M573.71 349.38h0.01M574.64 337.11h0.01M575.58 320.10h0.01M576.52 357.74h0.01M577.45 320.34h0.01M578.39 357.89h0.01M579.32 341.74h0.01M580.26 349.17h0.01M581.20 330.72h0.01M582.13 308.60h0.01M583.07 340.91h0.01M584.00 320.10h0.01M584.94 318.48h0.01M585.88 336.03h0.01M586.81 341.40h0.01M587.75 347.96h0.01M588.68 322.25h0.01M589.62 338.35h0.01M590.56 343.60h0.01M591.49 338.62h0.01M592.43 315.50h0.01" stroke="#8f7658" stroke-width="2.7" stroke-linecap="round" fill="none"/>
<path d="M430.50 324.86h0.01M431.44 299.02h0.01M432.37 348.39h0.01M433.31 345.33h0.01M434.24 312.44h0.01M435.18 318.29h0.01M436.12 316.27h0.01M437.05 355.87h0.01M437.99 348.00h0.01M438.92 327.76h0.01M439.86 346.14h0.01M440.80 334.64h0.01M441.73 335.27h0.01M442.67 359.63h0.01M443.60 356.30h0.01M444.54 351.27h0.01M445.48 358.22h0.01M446.41 347.46h0.01M447.35 343.38h0.01M448.28 336.53h0.01M449.22 333.33h0.01M450.16 348.44h0.01M451.09 343.93h0.01M452.03 351.22h0.01M452.96 318.18h0.01M453.90 341.66h0.01M454.84 305.92h0.01M455.77 356.99h0.01M456.71 357.89h0.01M457.64 350.54h0.01M458.58 319.94h0.01M459.52 356.52h0.01M460.45 355.36h0.01M461.39 359.39h0.01M462.32 351.27h0.01M463.26 355.39h0.01M464.20 345.99h0.01M465.13 336.91h0.01M466.07 352.06h0.01M467.00 322.79h0.01M467.94 329.22h0.01M468.88 356.84h0.01M469.81 328.53h0.01M470.75 343.33h0.01M471.68 326.45h0.01M472.62 357.48h0.01M473.56 353.49h0.01M474.49 311.29h0.01M475.43 352.13h0.01M476.36 328.76h0.01M477.30 353.99h0.01M478.24 342.86h0.01M479.17 350.56h0.01M480.11 351.71h0.01M481.04 345.24h0.01M481.98 352.48h0.01M482.92 323.21h0.01M483.85 344.75h0.01M484.79 340.23h0.01M485.72 349.21h0.01M486.66 325.40h0.01M487.60 353.43h0.01M488.53 359.44h0.01M489.47 357.02h0.01M490.40 337.04h0.01M491.34 333.21h0.01M492.28 318.18h0.01M493.21 328.48h0.01M494.15 335.16h0.01M495.08 326.21h0.01M496.02 358.12h0.01M496.96 351.90h0.01M497.89 349.38h0.01M498.83 351.14h0.01M499.76 308.60h0.01M500.70 350.89h0.01M501.64 347.28h0.01M502.57 348.83h0.01M503.51 332.03h0.01M504.44 343.03h0.01M505.38 342.76h0.01M506.32 340.54h0.01M507.25 354.51h0.01M508.19 338.62h0.01M509.12 319.10h0.01M510.06 335.65h0.01M511.00 333.33h0.01M511.93 330.98h0.01M512.87 353.21h0.01M513.80 352.40h0.01M514.74 356.02h0.01M515.68 353.24h0.01M516.61 340.11h0.01M517.55 326.47h0.01M518.48 323.84h0.01M519.42 316.27h0.01M520.36 341.96h0.01M521.29 321.17h0.01M522.23 325.32h0.01M523.16 349.94h0.01M524.10 334.41h0.01M525.04 330.82h0.01M525.97 341.24h0.01M526.91 358.80h0.01M527.84 334.73h0.01M528.78 355.35h0.01M529.72 338.99h0.01M530.65 318.81h0.01M531.59 337.95h0.01M532.52 356.55h0.01M533.46 357.71h0.01M534.40 325.85h0.01M535.33 330.80h0.01M536.27 324.81h0.01M537.20 336.98h0.01M538.14 334.06h0.01M539.08 346.55h0.01M540.01 351.30h0.01M540.95 338.83h0.01M541.88 352.20h0.01M542.82 324.68h0.01M543.76 358.36h0.01M544.69 349.40h0.01M545.63 321.87h0.01M546.56 358.98h0.01M547.50 339.38h0.01M548.44 318.95h0.01M549.37 348.35h0.01M550.31 356.84h0.01M551.24 326.86h0.01M552.18 338.32h0.01M553.12 319.50h0.01M554.05 341.06h0.01M554.99 332.33h0.01M555.92 342.30h0.01M556.86 328.10h0.01M557.80 359.42h0.01M558.73 321.02h0.01M559.67 351.09h0.01M560.60 355.11h0.01M561.54 352.81h0.01M562.48 353.37h0.01M563.41 360.22h0.01M564.35 343.24h0.01M565.28 341.55h0.01M566.22 323.61h0.01M567.16 318.24h0.01M568.09 328.30h0.01M569.03 319.48h0.01M569.96 350.28h0.01M570.90 351.36h0.01M571.84 355.37h0.01M572.77 341.67h0.01M573.71 349.38h0.01M574.64 337.11h0.01M575.58 320.10h0.01M576.52 357.74h0.01M577.45 320.34h0.01M578.39 357.89h0.01M579.32 341.74h0.01M580.26 349.17h0.01M581.20 330.72h0.01M582.13 308.60h0.01M583.07 340.91h0.01M584.00 320.10h0.01M584.94 318.48h0.01M585.88 336.03h0.01M586.81 341.40h0.01M587.75 347.96h0.01M588.68 322.25h0.01M589.62 338.35h0.01M590.56 343.60h0.01M591.49 338.62h0.01M592.43 315.50h0.01" stroke="#f3a440" stroke-width="1.6" stroke-linecap="round" fill="none"/>
<rect x="422.30" y="261.20" width="179.30" height="106.80" fill="none" stroke="#b0b0b0" stroke-width="1.15"/>
<text x="420.80" y="370.40" text-anchor="end" class="pt">0.0</text>
<text x="420.80" y="351.24" text-anchor="end" class="pt">0.5</text>
<text x="420.80" y="332.08" text-anchor="end" class="pt">1.0</text>
<text x="420.80" y="312.92" text-anchor="end" class="pt">1.5</text>
<text x="420.80" y="293.76" text-anchor="end" class="pt">2.0</text>
<text x="420.80" y="274.60" text-anchor="end" class="pt">2.5</text>
<text x="430.50" y="374.40" text-anchor="middle" class="pt">0</text>
<text x="477.30" y="374.40" text-anchor="middle" class="pt">50</text>
<text x="524.10" y="374.40" text-anchor="middle" class="pt">100</text>
<text x="570.90" y="374.40" text-anchor="middle" class="pt">150</text>
<path d="M422.30 368.00h-2M422.30 348.84h-2M422.30 329.68h-2M422.30 310.52h-2M422.30 291.36h-2M422.30 272.20h-2M430.50 368.00v2M477.30 368.00v2M524.10 368.00v2M570.90 368.00v2" stroke="#333" stroke-width="0.6" fill="none"/>
<text x="511.95" y="381.60" text-anchor="middle" class="pl">Sample Points</text>
<text transform="translate(405.50 314.60) rotate(-90)" text-anchor="middle" class="pl">TP (kg/ha)</text>
<text x="424.50" y="268.80" class="pn">(g)</text>
<rect x="577.00" y="262.00" width="23.30" height="10.00" rx="0.8" fill="#fff" fill-opacity="0.8" stroke="#e4e4e4" stroke-width="0.4"/>
<path d="M578.20 265.30h7.4" stroke="#f0a43a" stroke-width="0.7" stroke-dasharray="2.5 2.4 2.5"/>
<circle cx="581.90" cy="265.30" r="0.95" fill="#f0a43a" stroke="#8f7658" stroke-width="0.45"/>
<rect x="578.20" y="268.60" width="7.4" height="1.9" fill="#b9d3ec"/>
<text x="588.20" y="266.30" class="lg">Xgboost</text>
<text x="588.20" y="270.50" class="lg">Real</text>
</g>
<g>
<path d="M635.30 364.10V308.59M636.23 364.10V264.57M637.17 364.10V337.50M638.10 364.10V343.68M639.04 364.10V348.64M639.97 364.10V306.68M640.90 364.10V345.92M641.84 364.10V342.14M642.77 364.10V336.77M643.71 364.10V327.86M644.64 364.10V338.98M645.57 364.10V326.70M646.51 364.10V336.37M647.44 364.10V340.44M648.38 364.10V343.67M649.31 364.10V349.54M650.24 364.10V353.03M651.18 364.10V342.43M652.11 364.10V343.28M653.05 364.10V338.20M653.98 364.10V338.10M654.91 364.10V351.33M655.85 364.10V347.80M656.78 364.10V350.51M657.72 364.10V329.14M658.65 364.10V342.86M659.58 364.10V340.51M660.52 364.10V349.17M661.45 364.10V351.43M662.39 364.10V346.90M663.32 364.10V314.34M664.25 364.10V336.74M665.19 364.10V352.77M666.12 364.10V338.30M667.06 364.10V348.90M667.99 364.10V346.47M668.92 364.10V344.89M669.86 364.10V345.71M670.79 364.10V336.80M671.73 364.10V302.85M672.66 364.10V338.22M673.59 364.10V346.60M674.53 364.10V337.30M675.46 364.10V337.81M676.40 364.10V274.14M677.33 364.10V339.03M678.26 364.10V353.23M679.20 364.10V279.88M680.13 364.10V345.49M681.07 364.10V330.59M682.00 364.10V343.15M682.93 364.10V330.76M683.87 364.10V338.77M684.80 364.10V350.97M685.74 364.10V341.39M686.67 364.10V335.65M687.60 364.10V291.37M688.54 364.10V352.57M689.47 364.10V337.22M690.41 364.10V346.95M691.34 364.10V304.77M692.27 364.10V346.81M693.21 364.10V354.82M694.14 364.10V351.46M695.08 364.10V321.95M696.01 364.10V308.59M696.94 364.10V328.50M697.88 364.10V337.13M698.81 364.10V312.43M699.75 364.10V338.21M700.68 364.10V349.70M701.61 364.10V356.44M702.55 364.10V330.80M703.48 364.10V355.92M704.42 364.10V356.44M705.35 364.10V347.46M706.28 364.10V341.19M707.22 364.10V348.93M708.15 364.10V328.72M709.09 364.10V342.69M710.02 364.10V339.65M710.95 364.10V336.94M711.89 364.10V346.93M712.82 364.10V339.63M713.76 364.10V308.59M714.69 364.10V349.41M715.62 364.10V340.08M716.56 364.10V335.89M717.49 364.10V346.56M718.43 364.10V342.25M719.36 364.10V353.71M720.29 364.10V345.73M721.23 364.10V341.34M722.16 364.10V327.32M723.10 364.10V329.96M724.03 364.10V346.82M724.96 364.10V350.49M725.90 364.10V313.33M726.83 364.10V330.76M727.77 364.10V354.57M728.70 364.10V344.86M729.63 364.10V349.15M730.57 364.10V347.03M731.50 364.10V353.71M732.44 364.10V345.53M733.37 364.10V346.31M734.30 364.10V343.92M735.24 364.10V328.31M736.17 364.10V339.27M737.11 364.10V351.10M738.04 364.10V353.79M738.97 364.10V297.11M739.91 364.10V326.47M740.84 364.10V329.82M741.78 364.10V346.84M742.71 364.10V326.22M743.64 364.10V336.77M744.58 364.10V346.95M745.51 364.10V336.78M746.45 364.10V342.35M747.38 364.10V306.68M748.31 364.10V345.55M749.25 364.10V339.86M750.18 364.10V323.29M751.12 364.10V349.94M752.05 364.10V338.97M752.98 364.10V262.66M753.92 364.10V342.02M754.85 364.10V351.06M755.79 364.10V324.26M756.72 364.10V323.55M757.65 364.10V317.68M758.59 364.10V336.17M759.52 364.10V320.03M760.46 364.10V335.24M761.39 364.10V328.60M762.32 364.10V344.61M763.26 364.10V339.05M764.19 364.10V344.53M765.13 364.10V350.02M766.06 364.10V345.47M766.99 364.10V350.44M767.93 364.10V350.40M768.86 364.10V345.09M769.80 364.10V346.83M770.73 364.10V308.59M771.66 364.10V313.58M772.60 364.10V327.15M773.53 364.10V310.51M774.47 364.10V348.70M775.40 364.10V338.37M776.33 364.10V352.27M777.27 364.10V347.00M778.20 364.10V345.84M779.14 364.10V344.85M780.07 364.10V297.11M781.00 364.10V348.19M781.94 364.10V308.59M782.87 364.10V346.06M783.81 364.10V330.70M784.74 364.10V352.98M785.67 364.10V329.79M786.61 364.10V351.06M787.54 364.10V339.23M788.48 364.10V297.11M789.41 364.10V331.08M790.34 364.10V334.11M791.28 364.10V336.95M792.21 364.10V342.83M793.15 364.10V308.91M794.08 364.10V345.62M795.01 364.10V341.21M795.95 364.10V345.71M796.88 364.10V339.88" stroke="#c4daef" stroke-width="0.75" fill="none"/>
<polyline points="635.30,323.60 636.23,290.60 637.17,338.68 638.10,336.36 639.04,303.62 639.97,319.43 640.90,306.68 641.84,339.17 642.77,330.94 643.71,321.59 644.64,331.80 645.57,323.14 646.51,326.75 647.44,340.79 648.38,353.44 649.31,358.79 650.24,352.81 651.18,344.45 652.11,345.58 653.05,356.16 653.98,346.78 654.91,346.40 655.85,351.45 656.78,360.09 657.72,309.74 658.65,341.48 659.58,314.34 660.52,321.17 661.45,351.57 662.39,361.21 663.32,318.01 664.25,356.95 665.19,337.14 666.12,337.24 667.06,336.63 667.99,351.60 668.92,350.59 669.86,343.18 670.79,343.16 671.73,314.34 672.66,345.46 673.59,327.95 674.53,334.43 675.46,332.98 676.40,304.00 677.33,327.47 678.26,341.50 679.20,312.42 680.13,316.25 681.07,326.73 682.00,336.65 682.93,321.70 683.87,342.02 684.80,353.37 685.74,341.66 686.67,346.81 687.60,321.77 688.54,351.73 689.47,348.73 690.41,307.83 691.34,318.92 692.27,341.39 693.21,346.33 694.14,338.19 695.08,317.55 696.01,317.02 696.94,303.62 697.88,341.45 698.81,320.67 699.75,322.95 700.68,344.39 701.61,356.93 702.55,325.62 703.48,350.25 704.42,314.34 705.35,346.45 706.28,329.18 707.22,338.64 708.15,334.82 709.09,342.03 710.02,330.64 710.95,333.21 711.89,335.30 712.82,341.49 713.76,316.54 714.69,349.78 715.62,335.67 716.56,340.88 717.49,348.92 718.43,328.39 719.36,355.70 720.29,330.86 721.23,339.01 722.16,343.33 723.10,328.73 724.03,313.19 724.96,351.59 725.90,331.05 726.83,330.00 727.77,334.58 728.70,333.49 729.63,349.01 730.57,352.00 731.50,342.37 732.44,339.79 733.37,354.74 734.30,353.18 735.24,319.93 736.17,330.02 737.11,354.96 738.04,353.35 738.97,306.68 739.91,328.49 740.84,331.67 741.78,350.34 742.71,320.05 743.64,324.26 744.58,346.64 745.51,329.44 746.45,347.87 747.38,323.08 748.31,347.82 749.25,320.19 750.18,325.58 751.12,351.37 752.05,345.47 752.98,317.40 753.92,339.04 754.85,334.21 755.79,322.82 756.72,318.10 757.65,318.52 758.59,325.25 759.52,351.76 760.46,332.64 761.39,336.39 762.32,350.56 763.26,316.30 764.19,347.15 765.13,357.80 766.06,344.56 766.99,345.75 767.93,346.35 768.86,357.28 769.80,342.23 770.73,328.38 771.66,318.61 772.60,322.75 773.53,320.57 774.47,354.58 775.40,331.11 776.33,359.08 777.27,357.10 778.20,353.63 779.14,321.93 780.07,299.02 781.00,324.34 781.94,323.41 782.87,335.93 783.81,323.29 784.74,358.32 785.67,330.56 786.61,301.70 787.54,361.58 788.48,308.59 789.41,344.44 790.34,327.31 791.28,331.60 792.21,348.98 793.15,322.08 794.08,336.79 795.01,345.95 795.95,355.01 796.88,306.68" fill="none" stroke="#f0a43a" stroke-width="0.9" stroke-linejoin="round"/>
<path d="M635.30 323.60h0.01M636.23 290.60h0.01M637.17 338.68h0.01M638.10 336.36h0.01M639.04 303.62h0.01M639.97 319.43h0.01M640.90 306.68h0.01M641.84 339.17h0.01M642.77 330.94h0.01M643.71 321.59h0.01M644.64 331.80h0.01M645.57 323.14h0.01M646.51 326.75h0.01M647.44 340.79h0.01M648.38 353.44h0.01M649.31 358.79h0.01M650.24 352.81h0.01M651.18 344.45h0.01M652.11 345.58h0.01M653.05 356.16h0.01M653.98 346.78h0.01M654.91 346.40h0.01M655.85 351.45h0.01M656.78 360.09h0.01M657.72 309.74h0.01M658.65 341.48h0.01M659.58 314.34h0.01M660.52 321.17h0.01M661.45 351.57h0.01M662.39 361.21h0.01M663.32 318.01h0.01M664.25 356.95h0.01M665.19 337.14h0.01M666.12 337.24h0.01M667.06 336.63h0.01M667.99 351.60h0.01M668.92 350.59h0.01M669.86 343.18h0.01M670.79 343.16h0.01M671.73 314.34h0.01M672.66 345.46h0.01M673.59 327.95h0.01M674.53 334.43h0.01M675.46 332.98h0.01M676.40 304.00h0.01M677.33 327.47h0.01M678.26 341.50h0.01M679.20 312.42h0.01M680.13 316.25h0.01M681.07 326.73h0.01M682.00 336.65h0.01M682.93 321.70h0.01M683.87 342.02h0.01M684.80 353.37h0.01M685.74 341.66h0.01M686.67 346.81h0.01M687.60 321.77h0.01M688.54 351.73h0.01M689.47 348.73h0.01M690.41 307.83h0.01M691.34 318.92h0.01M692.27 341.39h0.01M693.21 346.33h0.01M694.14 338.19h0.01M695.08 317.55h0.01M696.01 317.02h0.01M696.94 303.62h0.01M697.88 341.45h0.01M698.81 320.67h0.01M699.75 322.95h0.01M700.68 344.39h0.01M701.61 356.93h0.01M702.55 325.62h0.01M703.48 350.25h0.01M704.42 314.34h0.01M705.35 346.45h0.01M706.28 329.18h0.01M707.22 338.64h0.01M708.15 334.82h0.01M709.09 342.03h0.01M710.02 330.64h0.01M710.95 333.21h0.01M711.89 335.30h0.01M712.82 341.49h0.01M713.76 316.54h0.01M714.69 349.78h0.01M715.62 335.67h0.01M716.56 340.88h0.01M717.49 348.92h0.01M718.43 328.39h0.01M719.36 355.70h0.01M720.29 330.86h0.01M721.23 339.01h0.01M722.16 343.33h0.01M723.10 328.73h0.01M724.03 313.19h0.01M724.96 351.59h0.01M725.90 331.05h0.01M726.83 330.00h0.01M727.77 334.58h0.01M728.70 333.49h0.01M729.63 349.01h0.01M730.57 352.00h0.01M731.50 342.37h0.01M732.44 339.79h0.01M733.37 354.74h0.01M734.30 353.18h0.01M735.24 319.93h0.01M736.17 330.02h0.01M737.11 354.96h0.01M738.04 353.35h0.01M738.97 306.68h0.01M739.91 328.49h0.01M740.84 331.67h0.01M741.78 350.34h0.01M742.71 320.05h0.01M743.64 324.26h0.01M744.58 346.64h0.01M745.51 329.44h0.01M746.45 347.87h0.01M747.38 323.08h0.01M748.31 347.82h0.01M749.25 320.19h0.01M750.18 325.58h0.01M751.12 351.37h0.01M752.05 345.47h0.01M752.98 317.40h0.01M753.92 339.04h0.01M754.85 334.21h0.01M755.79 322.82h0.01M756.72 318.10h0.01M757.65 318.52h0.01M758.59 325.25h0.01M759.52 351.76h0.01M760.46 332.64h0.01M761.39 336.39h0.01M762.32 350.56h0.01M763.26 316.30h0.01M764.19 347.15h0.01M765.13 357.80h0.01M766.06 344.56h0.01M766.99 345.75h0.01M767.93 346.35h0.01M768.86 357.28h0.01M769.80 342.23h0.01M770.73 328.38h0.01M771.66 318.61h0.01M772.60 322.75h0.01M773.53 320.57h0.01M774.47 354.58h0.01M775.40 331.11h0.01M776.33 359.08h0.01M777.27 357.10h0.01M778.20 353.63h0.01M779.14 321.93h0.01M780.07 299.02h0.01M781.00 324.34h0.01M781.94 323.41h0.01M782.87 335.93h0.01M783.81 323.29h0.01M784.74 358.32h0.01M785.67 330.56h0.01M786.61 301.70h0.01M787.54 361.58h0.01M788.48 308.59h0.01M789.41 344.44h0.01M790.34 327.31h0.01M791.28 331.60h0.01M792.21 348.98h0.01M793.15 322.08h0.01M794.08 336.79h0.01M795.01 345.95h0.01M795.95 355.01h0.01M796.88 306.68h0.01" stroke="#8f7658" stroke-width="2.7" stroke-linecap="round" fill="none"/>
<path d="M635.30 323.60h0.01M636.23 290.60h0.01M637.17 338.68h0.01M638.10 336.36h0.01M639.04 303.62h0.01M639.97 319.43h0.01M640.90 306.68h0.01M641.84 339.17h0.01M642.77 330.94h0.01M643.71 321.59h0.01M644.64 331.80h0.01M645.57 323.14h0.01M646.51 326.75h0.01M647.44 340.79h0.01M648.38 353.44h0.01M649.31 358.79h0.01M650.24 352.81h0.01M651.18 344.45h0.01M652.11 345.58h0.01M653.05 356.16h0.01M653.98 346.78h0.01M654.91 346.40h0.01M655.85 351.45h0.01M656.78 360.09h0.01M657.72 309.74h0.01M658.65 341.48h0.01M659.58 314.34h0.01M660.52 321.17h0.01M661.45 351.57h0.01M662.39 361.21h0.01M663.32 318.01h0.01M664.25 356.95h0.01M665.19 337.14h0.01M666.12 337.24h0.01M667.06 336.63h0.01M667.99 351.60h0.01M668.92 350.59h0.01M669.86 343.18h0.01M670.79 343.16h0.01M671.73 314.34h0.01M672.66 345.46h0.01M673.59 327.95h0.01M674.53 334.43h0.01M675.46 332.98h0.01M676.40 304.00h0.01M677.33 327.47h0.01M678.26 341.50h0.01M679.20 312.42h0.01M680.13 316.25h0.01M681.07 326.73h0.01M682.00 336.65h0.01M682.93 321.70h0.01M683.87 342.02h0.01M684.80 353.37h0.01M685.74 341.66h0.01M686.67 346.81h0.01M687.60 321.77h0.01M688.54 351.73h0.01M689.47 348.73h0.01M690.41 307.83h0.01M691.34 318.92h0.01M692.27 341.39h0.01M693.21 346.33h0.01M694.14 338.19h0.01M695.08 317.55h0.01M696.01 317.02h0.01M696.94 303.62h0.01M697.88 341.45h0.01M698.81 320.67h0.01M699.75 322.95h0.01M700.68 344.39h0.01M701.61 356.93h0.01M702.55 325.62h0.01M703.48 350.25h0.01M704.42 314.34h0.01M705.35 346.45h0.01M706.28 329.18h0.01M707.22 338.64h0.01M708.15 334.82h0.01M709.09 342.03h0.01M710.02 330.64h0.01M710.95 333.21h0.01M711.89 335.30h0.01M712.82 341.49h0.01M713.76 316.54h0.01M714.69 349.78h0.01M715.62 335.67h0.01M716.56 340.88h0.01M717.49 348.92h0.01M718.43 328.39h0.01M719.36 355.70h0.01M720.29 330.86h0.01M721.23 339.01h0.01M722.16 343.33h0.01M723.10 328.73h0.01M724.03 313.19h0.01M724.96 351.59h0.01M725.90 331.05h0.01M726.83 330.00h0.01M727.77 334.58h0.01M728.70 333.49h0.01M729.63 349.01h0.01M730.57 352.00h0.01M731.50 342.37h0.01M732.44 339.79h0.01M733.37 354.74h0.01M734.30 353.18h0.01M735.24 319.93h0.01M736.17 330.02h0.01M737.11 354.96h0.01M738.04 353.35h0.01M738.97 306.68h0.01M739.91 328.49h0.01M740.84 331.67h0.01M741.78 350.34h0.01M742.71 320.05h0.01M743.64 324.26h0.01M744.58 346.64h0.01M745.51 329.44h0.01M746.45 347.87h0.01M747.38 323.08h0.01M748.31 347.82h0.01M749.25 320.19h0.01M750.18 325.58h0.01M751.12 351.37h0.01M752.05 345.47h0.01M752.98 317.40h0.01M753.92 339.04h0.01M754.85 334.21h0.01M755.79 322.82h0.01M756.72 318.10h0.01M757.65 318.52h0.01M758.59 325.25h0.01M759.52 351.76h0.01M760.46 332.64h0.01M761.39 336.39h0.01M762.32 350.56h0.01M763.26 316.30h0.01M764.19 347.15h0.01M765.13 357.80h0.01M766.06 344.56h0.01M766.99 345.75h0.01M767.93 346.35h0.01M768.86 357.28h0.01M769.80 342.23h0.01M770.73 328.38h0.01M771.66 318.61h0.01M772.60 322.75h0.01M773.53 320.57h0.01M774.47 354.58h0.01M775.40 331.11h0.01M776.33 359.08h0.01M777.27 357.10h0.01M778.20 353.63h0.01M779.14 321.93h0.01M780.07 299.02h0.01M781.00 324.34h0.01M781.94 323.41h0.01M782.87 335.93h0.01M783.81 323.29h0.01M784.74 358.32h0.01M785.67 330.56h0.01M786.61 301.70h0.01M787.54 361.58h0.01M788.48 308.59h0.01M789.41 344.44h0.01M790.34 327.31h0.01M791.28 331.60h0.01M792.21 348.98h0.01M793.15 322.08h0.01M794.08 336.79h0.01M795.01 345.95h0.01M795.95 355.01h0.01M796.88 306.68h0.01" stroke="#f3a440" stroke-width="1.6" stroke-linecap="round" fill="none"/>
<rect x="626.40" y="257.50" width="180.20" height="106.60" fill="none" stroke="#b0b0b0" stroke-width="1.15"/>
<text x="624.90" y="366.50" text-anchor="end" class="pt">0.0</text>
<text x="624.90" y="347.36" text-anchor="end" class="pt">0.5</text>
<text x="624.90" y="328.22" text-anchor="end" class="pt">1.0</text>
<text x="624.90" y="309.08" text-anchor="end" class="pt">1.5</text>
<text x="624.90" y="289.94" text-anchor="end" class="pt">2.0</text>
<text x="624.90" y="270.80" text-anchor="end" class="pt">2.5</text>
<text x="635.30" y="370.50" text-anchor="middle" class="pt">0</text>
<text x="682.00" y="370.50" text-anchor="middle" class="pt">50</text>
<text x="728.70" y="370.50" text-anchor="middle" class="pt">100</text>
<text x="775.40" y="370.50" text-anchor="middle" class="pt">150</text>
<path d="M626.40 364.10h-2M626.40 344.96h-2M626.40 325.82h-2M626.40 306.68h-2M626.40 287.54h-2M626.40 268.40h-2M635.30 364.10v2M682.00 364.10v2M728.70 364.10v2M775.40 364.10v2" stroke="#333" stroke-width="0.6" fill="none"/>
<text x="716.50" y="377.70" text-anchor="middle" class="pl">Sample Points</text>
<text transform="translate(609.60 310.80) rotate(-90)" text-anchor="middle" class="pl">TP (kg/ha)</text>
<text x="628.60" y="265.10" class="pn">(h)</text>
<rect x="781.10" y="258.30" width="24.20" height="10.00" rx="0.8" fill="#fff" fill-opacity="0.8" stroke="#e4e4e4" stroke-width="0.4"/>
<path d="M782.30 261.60h7.4" stroke="#f0a43a" stroke-width="0.7" stroke-dasharray="2.5 2.4 2.5"/>
<circle cx="786.00" cy="261.60" r="0.95" fill="#f0a43a" stroke="#8f7658" stroke-width="0.45"/>
<rect x="782.30" y="264.90" width="7.4" height="1.9" fill="#b9d3ec"/>
<text x="792.30" y="262.60" class="lg">Catboost</text>
<text x="792.30" y="266.80" class="lg">Real</text>
</g>
<g>
<path d="M845.20 363.40V307.55M846.14 363.40V263.25M847.08 363.40V336.64M848.03 363.40V342.85M848.97 363.40V347.84M849.91 363.40V305.62M850.85 363.40V345.10M851.79 363.40V341.30M852.74 363.40V335.90M853.68 363.40V326.94M854.62 363.40V338.12M855.56 363.40V325.76M856.50 363.40V335.50M857.45 363.40V339.60M858.39 363.40V342.84M859.33 363.40V348.75M860.27 363.40V352.26M861.21 363.40V341.59M862.16 363.40V342.45M863.10 363.40V337.34M864.04 363.40V337.24M864.98 363.40V350.55M865.92 363.40V347.00M866.87 363.40V349.73M867.81 363.40V328.22M868.75 363.40V342.02M869.69 363.40V339.67M870.63 363.40V348.38M871.58 363.40V350.65M872.52 363.40V346.09M873.46 363.40V313.32M874.40 363.40V335.86M875.34 363.40V352.00M876.29 363.40V337.44M877.23 363.40V348.11M878.17 363.40V345.65M879.11 363.40V344.07M880.05 363.40V344.90M881.00 363.40V335.93M881.94 363.40V301.77M882.88 363.40V337.36M883.82 363.40V345.79M884.76 363.40V336.43M885.71 363.40V336.95M886.65 363.40V272.88M887.59 363.40V338.17M888.53 363.40V352.47M889.47 363.40V278.66M890.42 363.40V344.67M891.36 363.40V329.68M892.30 363.40V342.32M893.24 363.40V329.85M894.18 363.40V337.91M895.13 363.40V350.19M896.07 363.40V340.55M897.01 363.40V334.78M897.95 363.40V290.21M898.89 363.40V351.80M899.84 363.40V336.35M900.78 363.40V346.14M901.72 363.40V303.69M902.66 363.40V346.01M903.60 363.40V354.06M904.55 363.40V350.68M905.49 363.40V320.98M906.43 363.40V307.55M907.37 363.40V327.57M908.31 363.40V336.26M909.26 363.40V311.41M910.20 363.40V337.34M911.14 363.40V348.91M912.08 363.40V355.70M913.02 363.40V329.89M913.97 363.40V355.17M914.91 363.40V355.70M915.85 363.40V346.65M916.79 363.40V340.35M917.73 363.40V348.14M918.68 363.40V327.80M919.62 363.40V341.85M920.56 363.40V338.80M921.50 363.40V336.07M922.44 363.40V346.12M923.39 363.40V338.78M924.33 363.40V307.55M925.27 363.40V348.62M926.21 363.40V339.23M927.15 363.40V335.01M928.10 363.40V345.75M929.04 363.40V341.41M929.98 363.40V352.94M930.92 363.40V344.91M931.86 363.40V340.50M932.81 363.40V326.39M933.75 363.40V329.04M934.69 363.40V346.01M935.63 363.40V349.70M936.57 363.40V312.31M937.52 363.40V329.85M938.46 363.40V353.81M939.40 363.40V344.04M940.34 363.40V348.35M941.28 363.40V346.22M942.23 363.40V352.94M943.17 363.40V344.71M944.11 363.40V345.49M945.05 363.40V343.10M945.99 363.40V327.39M946.94 363.40V338.41M947.88 363.40V350.32M948.82 363.40V353.03M949.76 363.40V295.99M950.70 363.40V325.53M951.65 363.40V328.91M952.59 363.40V346.03M953.53 363.40V325.28M954.47 363.40V335.90M955.41 363.40V346.15M956.36 363.40V335.90M957.30 363.40V341.52M958.24 363.40V305.62M959.18 363.40V344.73M960.12 363.40V339.00M961.07 363.40V322.34M962.01 363.40V349.15M962.95 363.40V338.11M963.89 363.40V261.32M964.83 363.40V341.18M965.78 363.40V350.28M966.72 363.40V323.31M967.66 363.40V322.60M968.60 363.40V316.69M969.54 363.40V335.30M970.49 363.40V319.06M971.43 363.40V334.36M972.37 363.40V327.68M973.31 363.40V343.79M974.25 363.40V338.19M975.20 363.40V343.71M976.14 363.40V349.23M977.08 363.40V344.66M978.02 363.40V349.65M978.96 363.40V349.61M979.91 363.40V344.27M980.85 363.40V346.02M981.79 363.40V307.55M982.73 363.40V312.56M983.67 363.40V326.22M984.62 363.40V309.47M985.56 363.40V347.90M986.50 363.40V337.51M987.44 363.40V351.50M988.38 363.40V346.20M989.33 363.40V345.02M990.27 363.40V344.03M991.21 363.40V295.99M992.15 363.40V347.39M993.09 363.40V307.55M994.04 363.40V345.25M994.98 363.40V329.80M995.92 363.40V352.21M996.86 363.40V328.88M997.80 363.40V350.28M998.75 363.40V338.37M999.69 363.40V295.99M1000.63 363.40V330.17M1001.57 363.40V333.22M1002.51 363.40V336.08M1003.46 363.40V341.99M1004.40 363.40V307.86M1005.34 363.40V344.81M1006.28 363.40V340.37M1007.22 363.40V344.89M1008.17 363.40V339.03" stroke="#c4daef" stroke-width="0.75" fill="none"/>
<polyline points="845.20,318.35 846.14,295.99 847.08,337.91 848.03,360.99 848.97,357.10 849.91,320.00 850.85,339.13 851.79,351.87 852.74,339.31 853.68,319.31 854.62,316.36 855.56,317.90 856.50,345.28 857.45,342.65 858.39,341.13 859.33,335.61 860.27,329.67 861.21,311.40 862.16,356.40 863.10,324.78 864.04,322.68 864.98,322.71 865.92,345.17 866.87,351.85 867.81,302.54 868.75,346.03 869.69,309.47 870.63,315.26 871.58,338.46 872.52,352.11 873.46,329.63 874.40,332.50 875.34,331.92 876.29,345.99 877.23,341.38 878.17,356.46 879.11,353.79 880.05,358.70 881.00,337.72 881.94,307.55 882.88,351.84 883.82,339.43 884.76,348.81 885.71,360.17 886.65,319.17 887.59,357.37 888.53,344.77 889.47,315.25 890.42,354.62 891.36,321.86 892.30,357.48 893.24,308.70 894.18,329.89 895.13,355.34 896.07,345.88 897.01,338.71 897.95,321.51 898.89,355.25 899.84,342.59 900.78,314.48 901.72,314.09 902.66,323.20 903.60,358.49 904.55,337.91 905.49,329.29 906.43,320.89 907.37,349.59 908.31,326.47 909.26,326.54 910.20,334.10 911.14,327.01 912.08,356.27 913.02,326.28 913.97,355.50 914.91,356.84 915.85,306.78 916.79,337.02 917.73,306.39 918.68,325.25 919.62,358.18 920.56,337.72 921.50,330.06 922.44,338.86 923.39,326.01 924.33,326.94 925.27,341.43 926.21,333.35 927.15,328.33 928.10,355.05 929.04,318.49 929.98,339.46 930.92,334.18 931.86,354.15 932.81,343.96 933.75,329.36 934.69,310.63 935.63,345.59 936.57,320.88 937.52,323.56 938.46,340.83 939.40,332.12 940.34,353.06 941.28,356.82 942.23,352.00 943.17,346.86 944.11,349.34 945.05,336.14 945.99,313.85 946.94,318.00 947.88,342.55 948.82,351.66 949.76,315.30 950.70,302.92 951.65,318.46 952.59,354.76 953.53,324.59 954.47,317.18 955.41,348.62 956.36,329.24 957.30,344.06 958.24,317.77 959.18,331.53 960.12,322.24 961.07,331.49 962.01,360.60 962.95,357.46 963.89,316.91 964.83,312.17 965.78,354.12 966.72,324.32 967.66,322.11 968.60,313.32 969.54,345.83 970.49,322.93 971.43,338.35 972.37,355.83 973.31,341.41 974.25,314.56 975.20,349.50 976.14,333.94 977.08,352.75 978.02,356.51 978.96,312.17 979.91,317.08 980.85,343.19 981.79,315.07 982.73,314.94 983.67,328.33 984.62,319.20 985.56,351.54 986.50,347.50 987.44,331.59 988.38,347.91 989.33,344.79 990.27,346.71 991.21,325.07 992.15,315.25 993.09,334.01 994.04,338.38 994.98,330.96 995.92,340.94 996.86,336.85 997.80,314.64 998.75,299.07 999.69,321.88 1000.63,311.40 1001.57,351.86 1002.51,322.46 1003.46,336.47 1004.40,317.90 1005.34,348.94 1006.28,332.76 1007.22,312.17 1008.17,313.45" fill="none" stroke="#f0a43a" stroke-width="0.9" stroke-linejoin="round"/>
<path d="M845.20 318.35h0.01M846.14 295.99h0.01M847.08 337.91h0.01M848.03 360.99h0.01M848.97 357.10h0.01M849.91 320.00h0.01M850.85 339.13h0.01M851.79 351.87h0.01M852.74 339.31h0.01M853.68 319.31h0.01M854.62 316.36h0.01M855.56 317.90h0.01M856.50 345.28h0.01M857.45 342.65h0.01M858.39 341.13h0.01M859.33 335.61h0.01M860.27 329.67h0.01M861.21 311.40h0.01M862.16 356.40h0.01M863.10 324.78h0.01M864.04 322.68h0.01M864.98 322.71h0.01M865.92 345.17h0.01M866.87 351.85h0.01M867.81 302.54h0.01M868.75 346.03h0.01M869.69 309.47h0.01M870.63 315.26h0.01M871.58 338.46h0.01M872.52 352.11h0.01M873.46 329.63h0.01M874.40 332.50h0.01M875.34 331.92h0.01M876.29 345.99h0.01M877.23 341.38h0.01M878.17 356.46h0.01M879.11 353.79h0.01M880.05 358.70h0.01M881.00 337.72h0.01M881.94 307.55h0.01M882.88 351.84h0.01M883.82 339.43h0.01M884.76 348.81h0.01M885.71 360.17h0.01M886.65 319.17h0.01M887.59 357.37h0.01M888.53 344.77h0.01M889.47 315.25h0.01M890.42 354.62h0.01M891.36 321.86h0.01M892.30 357.48h0.01M893.24 308.70h0.01M894.18 329.89h0.01M895.13 355.34h0.01M896.07 345.88h0.01M897.01 338.71h0.01M897.95 321.51h0.01M898.89 355.25h0.01M899.84 342.59h0.01M900.78 314.48h0.01M901.72 314.09h0.01M902.66 323.20h0.01M903.60 358.49h0.01M904.55 337.91h0.01M905.49 329.29h0.01M906.43 320.89h0.01M907.37 349.59h0.01M908.31 326.47h0.01M909.26 326.54h0.01M910.20 334.10h0.01M911.14 327.01h0.01M912.08 356.27h0.01M913.02 326.28h0.01M913.97 355.50h0.01M914.91 356.84h0.01M915.85 306.78h0.01M916.79 337.02h0.01M917.73 306.39h0.01M918.68 325.25h0.01M919.62 358.18h0.01M920.56 337.72h0.01M921.50 330.06h0.01M922.44 338.86h0.01M923.39 326.01h0.01M924.33 326.94h0.01M925.27 341.43h0.01M926.21 333.35h0.01M927.15 328.33h0.01M928.10 355.05h0.01M929.04 318.49h0.01M929.98 339.46h0.01M930.92 334.18h0.01M931.86 354.15h0.01M932.81 343.96h0.01M933.75 329.36h0.01M934.69 310.63h0.01M935.63 345.59h0.01M936.57 320.88h0.01M937.52 323.56h0.01M938.46 340.83h0.01M939.40 332.12h0.01M940.34 353.06h0.01M941.28 356.82h0.01M942.23 352.00h0.01M943.17 346.86h0.01M944.11 349.34h0.01M945.05 336.14h0.01M945.99 313.85h0.01M946.94 318.00h0.01M947.88 342.55h0.01M948.82 351.66h0.01M949.76 315.30h0.01M950.70 302.92h0.01M951.65 318.46h0.01M952.59 354.76h0.01M953.53 324.59h0.01M954.47 317.18h0.01M955.41 348.62h0.01M956.36 329.24h0.01M957.30 344.06h0.01M958.24 317.77h0.01M959.18 331.53h0.01M960.12 322.24h0.01M961.07 331.49h0.01M962.01 360.60h0.01M962.95 357.46h0.01M963.89 316.91h0.01M964.83 312.17h0.01M965.78 354.12h0.01M966.72 324.32h0.01M967.66 322.11h0.01M968.60 313.32h0.01M969.54 345.83h0.01M970.49 322.93h0.01M971.43 338.35h0.01M972.37 355.83h0.01M973.31 341.41h0.01M974.25 314.56h0.01M975.20 349.50h0.01M976.14 333.94h0.01M977.08 352.75h0.01M978.02 356.51h0.01M978.96 312.17h0.01M979.91 317.08h0.01M980.85 343.19h0.01M981.79 315.07h0.01M982.73 314.94h0.01M983.67 328.33h0.01M984.62 319.20h0.01M985.56 351.54h0.01M986.50 347.50h0.01M987.44 331.59h0.01M988.38 347.91h0.01M989.33 344.79h0.01M990.27 346.71h0.01M991.21 325.07h0.01M992.15 315.25h0.01M993.09 334.01h0.01M994.04 338.38h0.01M994.98 330.96h0.01M995.92 340.94h0.01M996.86 336.85h0.01M997.80 314.64h0.01M998.75 299.07h0.01M999.69 321.88h0.01M1000.63 311.40h0.01M1001.57 351.86h0.01M1002.51 322.46h0.01M1003.46 336.47h0.01M1004.40 317.90h0.01M1005.34 348.94h0.01M1006.28 332.76h0.01M1007.22 312.17h0.01M1008.17 313.45h0.01" stroke="#8f7658" stroke-width="2.7" stroke-linecap="round" fill="none"/>
<path d="M845.20 318.35h0.01M846.14 295.99h0.01M847.08 337.91h0.01M848.03 360.99h0.01M848.97 357.10h0.01M849.91 320.00h0.01M850.85 339.13h0.01M851.79 351.87h0.01M852.74 339.31h0.01M853.68 319.31h0.01M854.62 316.36h0.01M855.56 317.90h0.01M856.50 345.28h0.01M857.45 342.65h0.01M858.39 341.13h0.01M859.33 335.61h0.01M860.27 329.67h0.01M861.21 311.40h0.01M862.16 356.40h0.01M863.10 324.78h0.01M864.04 322.68h0.01M864.98 322.71h0.01M865.92 345.17h0.01M866.87 351.85h0.01M867.81 302.54h0.01M868.75 346.03h0.01M869.69 309.47h0.01M870.63 315.26h0.01M871.58 338.46h0.01M872.52 352.11h0.01M873.46 329.63h0.01M874.40 332.50h0.01M875.34 331.92h0.01M876.29 345.99h0.01M877.23 341.38h0.01M878.17 356.46h0.01M879.11 353.79h0.01M880.05 358.70h0.01M881.00 337.72h0.01M881.94 307.55h0.01M882.88 351.84h0.01M883.82 339.43h0.01M884.76 348.81h0.01M885.71 360.17h0.01M886.65 319.17h0.01M887.59 357.37h0.01M888.53 344.77h0.01M889.47 315.25h0.01M890.42 354.62h0.01M891.36 321.86h0.01M892.30 357.48h0.01M893.24 308.70h0.01M894.18 329.89h0.01M895.13 355.34h0.01M896.07 345.88h0.01M897.01 338.71h0.01M897.95 321.51h0.01M898.89 355.25h0.01M899.84 342.59h0.01M900.78 314.48h0.01M901.72 314.09h0.01M902.66 323.20h0.01M903.60 358.49h0.01M904.55 337.91h0.01M905.49 329.29h0.01M906.43 320.89h0.01M907.37 349.59h0.01M908.31 326.47h0.01M909.26 326.54h0.01M910.20 334.10h0.01M911.14 327.01h0.01M912.08 356.27h0.01M913.02 326.28h0.01M913.97 355.50h0.01M914.91 356.84h0.01M915.85 306.78h0.01M916.79 337.02h0.01M917.73 306.39h0.01M918.68 325.25h0.01M919.62 358.18h0.01M920.56 337.72h0.01M921.50 330.06h0.01M922.44 338.86h0.01M923.39 326.01h0.01M924.33 326.94h0.01M925.27 341.43h0.01M926.21 333.35h0.01M927.15 328.33h0.01M928.10 355.05h0.01M929.04 318.49h0.01M929.98 339.46h0.01M930.92 334.18h0.01M931.86 354.15h0.01M932.81 343.96h0.01M933.75 329.36h0.01M934.69 310.63h0.01M935.63 345.59h0.01M936.57 320.88h0.01M937.52 323.56h0.01M938.46 340.83h0.01M939.40 332.12h0.01M940.34 353.06h0.01M941.28 356.82h0.01M942.23 352.00h0.01M943.17 346.86h0.01M944.11 349.34h0.01M945.05 336.14h0.01M945.99 313.85h0.01M946.94 318.00h0.01M947.88 342.55h0.01M948.82 351.66h0.01M949.76 315.30h0.01M950.70 302.92h0.01M951.65 318.46h0.01M952.59 354.76h0.01M953.53 324.59h0.01M954.47 317.18h0.01M955.41 348.62h0.01M956.36 329.24h0.01M957.30 344.06h0.01M958.24 317.77h0.01M959.18 331.53h0.01M960.12 322.24h0.01M961.07 331.49h0.01M962.01 360.60h0.01M962.95 357.46h0.01M963.89 316.91h0.01M964.83 312.17h0.01M965.78 354.12h0.01M966.72 324.32h0.01M967.66 322.11h0.01M968.60 313.32h0.01M969.54 345.83h0.01M970.49 322.93h0.01M971.43 338.35h0.01M972.37 355.83h0.01M973.31 341.41h0.01M974.25 314.56h0.01M975.20 349.50h0.01M976.14 333.94h0.01M977.08 352.75h0.01M978.02 356.51h0.01M978.96 312.17h0.01M979.91 317.08h0.01M980.85 343.19h0.01M981.79 315.07h0.01M982.73 314.94h0.01M983.67 328.33h0.01M984.62 319.20h0.01M985.56 351.54h0.01M986.50 347.50h0.01M987.44 331.59h0.01M988.38 347.91h0.01M989.33 344.79h0.01M990.27 346.71h0.01M991.21 325.07h0.01M992.15 315.25h0.01M993.09 334.01h0.01M994.04 338.38h0.01M994.98 330.96h0.01M995.92 340.94h0.01M996.86 336.85h0.01M997.80 314.64h0.01M998.75 299.07h0.01M999.69 321.88h0.01M1000.63 311.40h0.01M1001.57 351.86h0.01M1002.51 322.46h0.01M1003.46 336.47h0.01M1004.40 317.90h0.01M1005.34 348.94h0.01M1006.28 332.76h0.01M1007.22 312.17h0.01M1008.17 313.45h0.01" stroke="#f3a440" stroke-width="1.6" stroke-linecap="round" fill="none"/>
<rect x="836.70" y="255.50" width="180.40" height="107.90" fill="none" stroke="#b0b0b0" stroke-width="1.15"/>
<text x="835.20" y="365.80" text-anchor="end" class="pt">0.0</text>
<text x="835.20" y="346.54" text-anchor="end" class="pt">0.5</text>
<text x="835.20" y="327.28" text-anchor="end" class="pt">1.0</text>
<text x="835.20" y="308.02" text-anchor="end" class="pt">1.5</text>
<text x="835.20" y="288.76" text-anchor="end" class="pt">2.0</text>
<text x="835.20" y="269.50" text-anchor="end" class="pt">2.5</text>
<text x="845.20" y="369.80" text-anchor="middle" class="pt">0</text>
<text x="892.30" y="369.80" text-anchor="middle" class="pt">50</text>
<text x="939.40" y="369.80" text-anchor="middle" class="pt">100</text>
<text x="986.50" y="369.80" text-anchor="middle" class="pt">150</text>
<path d="M836.70 363.40h-2M836.70 344.14h-2M836.70 324.88h-2M836.70 305.62h-2M836.70 286.36h-2M836.70 267.10h-2M845.20 363.40v2M892.30 363.40v2M939.40 363.40v2M986.50 363.40v2" stroke="#333" stroke-width="0.6" fill="none"/>
<text x="926.90" y="377.00" text-anchor="middle" class="pl">Sample Points</text>
<text transform="translate(819.90 309.45) rotate(-90)" text-anchor="middle" class="pl">TP (kg/ha)</text>
<text x="838.90" y="263.10" class="pn">(i)</text>
<rect x="996.40" y="256.30" width="19.40" height="10.00" rx="0.8" fill="#fff" fill-opacity="0.8" stroke="#e4e4e4" stroke-width="0.4"/>
<path d="M997.60 259.60h7.4" stroke="#f0a43a" stroke-width="0.7" stroke-dasharray="2.5 2.4 2.5"/>
<circle cx="1001.30" cy="259.60" r="0.95" fill="#f0a43a" stroke="#8f7658" stroke-width="0.45"/>
<rect x="997.60" y="262.90" width="7.4" height="1.9" fill="#b9d3ec"/>
<text x="1007.60" y="260.60" class="lg">ANN</text>
<text x="1007.60" y="264.80" class="lg">Real</text>
</g>
<g>
<path d="M430.50 493.20V437.29M431.44 493.20V392.94M432.38 493.20V466.41M433.32 493.20V472.63M434.27 493.20V477.62M435.21 493.20V435.36M436.15 493.20V474.88M437.09 493.20V471.08M438.03 493.20V465.67M438.97 493.20V456.70M439.91 493.20V467.89M440.85 493.20V455.52M441.80 493.20V465.27M442.74 493.20V469.37M443.68 493.20V472.62M444.62 493.20V478.53M445.56 493.20V482.05M446.50 493.20V471.37M447.44 493.20V472.22M448.39 493.20V467.11M449.33 493.20V467.01M450.27 493.20V480.34M451.21 493.20V476.78M452.15 493.20V479.51M453.09 493.20V457.99M454.03 493.20V471.80M454.97 493.20V469.44M455.92 493.20V478.16M456.86 493.20V480.44M457.80 493.20V475.88M458.74 493.20V443.07M459.68 493.20V465.64M460.62 493.20V481.78M461.56 493.20V467.21M462.51 493.20V477.89M463.45 493.20V475.44M464.39 493.20V473.85M465.33 493.20V474.68M466.27 493.20V465.70M467.21 493.20V431.50M468.15 493.20V467.13M469.09 493.20V475.57M470.04 493.20V466.20M470.98 493.20V466.72M471.92 493.20V402.58M472.86 493.20V467.95M473.80 493.20V482.25M474.74 493.20V408.37M475.68 493.20V474.45M476.63 493.20V459.44M477.57 493.20V472.10M478.51 493.20V459.62M479.45 493.20V467.68M480.39 493.20V479.98M481.33 493.20V470.32M482.27 493.20V464.55M483.21 493.20V419.94M484.16 493.20V481.59M485.10 493.20V466.12M486.04 493.20V475.93M486.98 493.20V433.43M487.92 493.20V475.79M488.86 493.20V483.85M489.80 493.20V480.46M490.75 493.20V450.74M491.69 493.20V437.29M492.63 493.20V457.34M493.57 493.20V466.03M494.51 493.20V441.15M495.45 493.20V467.12M496.39 493.20V478.69M497.33 493.20V485.49M498.28 493.20V459.66M499.22 493.20V484.96M500.16 493.20V485.49M501.10 493.20V476.43M502.04 493.20V470.12M502.98 493.20V477.92M503.92 493.20V457.56M504.87 493.20V471.63M505.81 493.20V468.58M506.75 493.20V465.84M507.69 493.20V475.91M508.63 493.20V468.55M509.57 493.20V437.29M510.51 493.20V478.41M511.45 493.20V469.01M512.40 493.20V464.78M513.34 493.20V475.54M514.28 493.20V471.19M515.22 493.20V482.73M516.16 493.20V474.69M517.10 493.20V470.27M518.04 493.20V456.15M518.99 493.20V458.81M519.93 493.20V475.80M520.87 493.20V479.49M521.81 493.20V442.06M522.75 493.20V459.61M523.69 493.20V483.60M524.63 493.20V473.82M525.57 493.20V478.14M526.52 493.20V476.00M527.46 493.20V482.73M528.40 493.20V474.49M529.34 493.20V475.28M530.28 493.20V472.88M531.22 493.20V457.15M532.16 493.20V468.19M533.11 493.20V480.10M534.05 493.20V482.82M534.99 493.20V425.72M535.93 493.20V455.29M536.87 493.20V458.67M537.81 493.20V475.81M538.75 493.20V455.04M539.69 493.20V465.67M540.64 493.20V475.93M541.58 493.20V465.68M542.52 493.20V471.29M543.46 493.20V435.36M544.40 493.20V474.51M545.34 493.20V468.78M546.28 493.20V452.09M547.23 493.20V478.93M548.17 493.20V467.89M549.11 493.20V391.02M550.05 493.20V470.95M550.99 493.20V480.06M551.93 493.20V453.07M552.87 493.20V452.36M553.81 493.20V446.44M554.76 493.20V465.07M555.70 493.20V448.81M556.64 493.20V464.13M557.58 493.20V457.44M558.52 493.20V473.57M559.46 493.20V467.96M560.40 493.20V473.49M561.35 493.20V479.01M562.29 493.20V474.44M563.23 493.20V479.44M564.17 493.20V479.40M565.11 493.20V474.05M566.05 493.20V475.80M566.99 493.20V437.29M567.93 493.20V442.31M568.88 493.20V455.98M569.82 493.20V439.22M570.76 493.20V477.68M571.70 493.20V467.28M572.64 493.20V481.28M573.58 493.20V475.98M574.52 493.20V474.80M575.47 493.20V473.81M576.41 493.20V425.72M577.35 493.20V477.17M578.29 493.20V437.29M579.23 493.20V475.03M580.17 493.20V459.56M581.11 493.20V482.00M582.05 493.20V458.64M583.00 493.20V480.06M583.94 493.20V468.15M584.88 493.20V425.72M585.82 493.20V459.94M586.76 493.20V462.99M587.70 493.20V465.85M588.64 493.20V471.77M589.59 493.20V437.60M590.53 493.20V474.59M591.47 493.20V470.14M592.41 493.20V474.67M593.35 493.20V468.80" stroke="#c4daef" stroke-width="0.75" fill="none"/>
<polyline points="430.50,446.97 431.44,423.02 432.38,472.96 433.32,470.43 434.27,432.66 435.21,448.74 436.15,439.22 437.09,454.84 438.03,461.74 438.97,454.32 439.91,469.93 440.85,464.52 441.80,472.99 442.74,478.68 443.68,466.04 444.62,479.54 445.56,484.53 446.50,476.75 447.44,463.20 448.39,447.19 449.33,467.49 450.27,475.77 451.21,483.76 452.15,456.91 453.09,436.90 454.03,466.38 454.97,436.90 455.92,480.78 456.86,474.19 457.80,484.80 458.74,455.13 459.68,465.35 460.62,476.13 461.56,462.85 462.51,466.16 463.45,486.09 464.39,472.65 465.33,473.34 466.27,461.01 467.21,445.75 468.15,476.05 469.09,472.81 470.04,472.96 470.98,473.96 471.92,445.02 472.86,459.07 473.80,482.05 474.74,441.92 475.68,450.65 476.63,446.58 477.57,475.92 478.51,460.56 479.45,448.28 480.39,481.51 481.33,453.35 482.27,451.40 483.21,446.91 484.16,468.07 485.10,452.04 486.04,446.93 486.98,446.52 487.92,475.95 488.86,485.33 489.80,476.17 490.75,452.76 491.69,446.34 492.63,440.37 493.57,465.54 494.51,447.52 495.45,465.19 496.39,470.48 497.33,476.24 498.28,453.42 499.22,485.31 500.16,435.36 501.10,479.11 502.04,461.14 502.98,485.55 503.92,456.14 504.87,472.54 505.81,479.80 506.75,465.66 507.69,467.06 508.63,457.62 509.57,454.83 510.51,485.58 511.45,463.86 512.40,475.96 513.34,473.95 514.28,477.04 515.22,476.98 516.16,464.71 517.10,467.28 518.04,453.03 518.99,456.09 519.93,436.52 520.87,472.11 521.81,446.27 522.75,461.03 523.69,482.64 524.63,475.61 525.57,484.86 526.52,465.51 527.46,482.72 528.40,476.21 529.34,476.24 530.28,466.45 531.22,457.00 532.16,457.52 533.11,465.30 534.05,477.04 534.99,448.86 535.93,475.49 536.87,458.24 537.81,463.87 538.75,456.19 539.69,456.76 540.64,473.30 541.58,471.29 542.52,482.06 543.46,453.56 544.40,484.19 545.34,472.99 546.28,465.43 547.23,461.03 548.17,457.46 549.11,441.92 550.05,483.33 550.99,473.47 551.93,451.52 552.87,454.51 553.81,457.00 554.76,472.72 555.70,460.37 556.64,469.34 557.58,463.48 558.52,461.32 559.46,469.93 560.40,464.45 561.35,476.14 562.29,485.65 563.23,482.39 564.17,477.95 565.11,469.80 566.05,484.54 566.99,458.94 567.93,451.08 568.88,448.64 569.82,460.07 570.76,477.11 571.70,466.91 572.64,481.59 573.58,475.53 574.52,477.34 575.47,467.79 576.41,438.44 577.35,483.20 578.29,462.39 579.23,463.94 580.17,473.50 581.11,472.53 582.05,450.70 583.00,433.43 583.94,461.45 584.88,445.00 585.82,447.48 586.76,461.68 587.70,469.14 588.64,465.75 589.59,450.37 590.53,478.24 591.47,460.89 592.41,475.67 593.35,439.22" fill="none" stroke="#f0a43a" stroke-width="0.9" stroke-linejoin="round"/>
<path d="M430.50 446.97h0.01M431.44 423.02h0.01M432.38 472.96h0.01M433.32 470.43h0.01M434.27 432.66h0.01M435.21 448.74h0.01M436.15 439.22h0.01M437.09 454.84h0.01M438.03 461.74h0.01M438.97 454.32h0.01M439.91 469.93h0.01M440.85 464.52h0.01M441.80 472.99h0.01M442.74 478.68h0.01M443.68 466.04h0.01M444.62 479.54h0.01M445.56 484.53h0.01M446.50 476.75h0.01M447.44 463.20h0.01M448.39 447.19h0.01M449.33 467.49h0.01M450.27 475.77h0.01M451.21 483.76h0.01M452.15 456.91h0.01M453.09 436.90h0.01M454.03 466.38h0.01M454.97 436.90h0.01M455.92 480.78h0.01M456.86 474.19h0.01M457.80 484.80h0.01M458.74 455.13h0.01M459.68 465.35h0.01M460.62 476.13h0.01M461.56 462.85h0.01M462.51 466.16h0.01M463.45 486.09h0.01M464.39 472.65h0.01M465.33 473.34h0.01M466.27 461.01h0.01M467.21 445.75h0.01M468.15 476.05h0.01M469.09 472.81h0.01M470.04 472.96h0.01M470.98 473.96h0.01M471.92 445.02h0.01M472.86 459.07h0.01M473.80 482.05h0.01M474.74 441.92h0.01M475.68 450.65h0.01M476.63 446.58h0.01M477.57 475.92h0.01M478.51 460.56h0.01M479.45 448.28h0.01M480.39 481.51h0.01M481.33 453.35h0.01M482.27 451.40h0.01M483.21 446.91h0.01M484.16 468.07h0.01M485.10 452.04h0.01M486.04 446.93h0.01M486.98 446.52h0.01M487.92 475.95h0.01M488.86 485.33h0.01M489.80 476.17h0.01M490.75 452.76h0.01M491.69 446.34h0.01M492.63 440.37h0.01M493.57 465.54h0.01M494.51 447.52h0.01M495.45 465.19h0.01M496.39 470.48h0.01M497.33 476.24h0.01M498.28 453.42h0.01M499.22 485.31h0.01M500.16 435.36h0.01M501.10 479.11h0.01M502.04 461.14h0.01M502.98 485.55h0.01M503.92 456.14h0.01M504.87 472.54h0.01M505.81 479.80h0.01M506.75 465.66h0.01M507.69 467.06h0.01M508.63 457.62h0.01M509.57 454.83h0.01M510.51 485.58h0.01M511.45 463.86h0.01M512.40 475.96h0.01M513.34 473.95h0.01M514.28 477.04h0.01M515.22 476.98h0.01M516.16 464.71h0.01M517.10 467.28h0.01M518.04 453.03h0.01M518.99 456.09h0.01M519.93 436.52h0.01M520.87 472.11h0.01M521.81 446.27h0.01M522.75 461.03h0.01M523.69 482.64h0.01M524.63 475.61h0.01M525.57 484.86h0.01M526.52 465.51h0.01M527.46 482.72h0.01M528.40 476.21h0.01M529.34 476.24h0.01M530.28 466.45h0.01M531.22 457.00h0.01M532.16 457.52h0.01M533.11 465.30h0.01M534.05 477.04h0.01M534.99 448.86h0.01M535.93 475.49h0.01M536.87 458.24h0.01M537.81 463.87h0.01M538.75 456.19h0.01M539.69 456.76h0.01M540.64 473.30h0.01M541.58 471.29h0.01M542.52 482.06h0.01M543.46 453.56h0.01M544.40 484.19h0.01M545.34 472.99h0.01M546.28 465.43h0.01M547.23 461.03h0.01M548.17 457.46h0.01M549.11 441.92h0.01M550.05 483.33h0.01M550.99 473.47h0.01M551.93 451.52h0.01M552.87 454.51h0.01M553.81 457.00h0.01M554.76 472.72h0.01M555.70 460.37h0.01M556.64 469.34h0.01M557.58 463.48h0.01M558.52 461.32h0.01M559.46 469.93h0.01M560.40 464.45h0.01M561.35 476.14h0.01M562.29 485.65h0.01M563.23 482.39h0.01M564.17 477.95h0.01M565.11 469.80h0.01M566.05 484.54h0.01M566.99 458.94h0.01M567.93 451.08h0.01M568.88 448.64h0.01M569.82 460.07h0.01M570.76 477.11h0.01M571.70 466.91h0.01M572.64 481.59h0.01M573.58 475.53h0.01M574.52 477.34h0.01M575.47 467.79h0.01M576.41 438.44h0.01M577.35 483.20h0.01M578.29 462.39h0.01M579.23 463.94h0.01M580.17 473.50h0.01M581.11 472.53h0.01M582.05 450.70h0.01M583.00 433.43h0.01M583.94 461.45h0.01M584.88 445.00h0.01M585.82 447.48h0.01M586.76 461.68h0.01M587.70 469.14h0.01M588.64 465.75h0.01M589.59 450.37h0.01M590.53 478.24h0.01M591.47 460.89h0.01M592.41 475.67h0.01M593.35 439.22h0.01" stroke="#8f7658" stroke-width="2.7" stroke-linecap="round" fill="none"/>
<path d="M430.50 446.97h0.01M431.44 423.02h0.01M432.38 472.96h0.01M433.32 470.43h0.01M434.27 432.66h0.01M435.21 448.74h0.01M436.15 439.22h0.01M437.09 454.84h0.01M438.03 461.74h0.01M438.97 454.32h0.01M439.91 469.93h0.01M440.85 464.52h0.01M441.80 472.99h0.01M442.74 478.68h0.01M443.68 466.04h0.01M444.62 479.54h0.01M445.56 484.53h0.01M446.50 476.75h0.01M447.44 463.20h0.01M448.39 447.19h0.01M449.33 467.49h0.01M450.27 475.77h0.01M451.21 483.76h0.01M452.15 456.91h0.01M453.09 436.90h0.01M454.03 466.38h0.01M454.97 436.90h0.01M455.92 480.78h0.01M456.86 474.19h0.01M457.80 484.80h0.01M458.74 455.13h0.01M459.68 465.35h0.01M460.62 476.13h0.01M461.56 462.85h0.01M462.51 466.16h0.01M463.45 486.09h0.01M464.39 472.65h0.01M465.33 473.34h0.01M466.27 461.01h0.01M467.21 445.75h0.01M468.15 476.05h0.01M469.09 472.81h0.01M470.04 472.96h0.01M470.98 473.96h0.01M471.92 445.02h0.01M472.86 459.07h0.01M473.80 482.05h0.01M474.74 441.92h0.01M475.68 450.65h0.01M476.63 446.58h0.01M477.57 475.92h0.01M478.51 460.56h0.01M479.45 448.28h0.01M480.39 481.51h0.01M481.33 453.35h0.01M482.27 451.40h0.01M483.21 446.91h0.01M484.16 468.07h0.01M485.10 452.04h0.01M486.04 446.93h0.01M486.98 446.52h0.01M487.92 475.95h0.01M488.86 485.33h0.01M489.80 476.17h0.01M490.75 452.76h0.01M491.69 446.34h0.01M492.63 440.37h0.01M493.57 465.54h0.01M494.51 447.52h0.01M495.45 465.19h0.01M496.39 470.48h0.01M497.33 476.24h0.01M498.28 453.42h0.01M499.22 485.31h0.01M500.16 435.36h0.01M501.10 479.11h0.01M502.04 461.14h0.01M502.98 485.55h0.01M503.92 456.14h0.01M504.87 472.54h0.01M505.81 479.80h0.01M506.75 465.66h0.01M507.69 467.06h0.01M508.63 457.62h0.01M509.57 454.83h0.01M510.51 485.58h0.01M511.45 463.86h0.01M512.40 475.96h0.01M513.34 473.95h0.01M514.28 477.04h0.01M515.22 476.98h0.01M516.16 464.71h0.01M517.10 467.28h0.01M518.04 453.03h0.01M518.99 456.09h0.01M519.93 436.52h0.01M520.87 472.11h0.01M521.81 446.27h0.01M522.75 461.03h0.01M523.69 482.64h0.01M524.63 475.61h0.01M525.57 484.86h0.01M526.52 465.51h0.01M527.46 482.72h0.01M528.40 476.21h0.01M529.34 476.24h0.01M530.28 466.45h0.01M531.22 457.00h0.01M532.16 457.52h0.01M533.11 465.30h0.01M534.05 477.04h0.01M534.99 448.86h0.01M535.93 475.49h0.01M536.87 458.24h0.01M537.81 463.87h0.01M538.75 456.19h0.01M539.69 456.76h0.01M540.64 473.30h0.01M541.58 471.29h0.01M542.52 482.06h0.01M543.46 453.56h0.01M544.40 484.19h0.01M545.34 472.99h0.01M546.28 465.43h0.01M547.23 461.03h0.01M548.17 457.46h0.01M549.11 441.92h0.01M550.05 483.33h0.01M550.99 473.47h0.01M551.93 451.52h0.01M552.87 454.51h0.01M553.81 457.00h0.01M554.76 472.72h0.01M555.70 460.37h0.01M556.64 469.34h0.01M557.58 463.48h0.01M558.52 461.32h0.01M559.46 469.93h0.01M560.40 464.45h0.01M561.35 476.14h0.01M562.29 485.65h0.01M563.23 482.39h0.01M564.17 477.95h0.01M565.11 469.80h0.01M566.05 484.54h0.01M566.99 458.94h0.01M567.93 451.08h0.01M568.88 448.64h0.01M569.82 460.07h0.01M570.76 477.11h0.01M571.70 466.91h0.01M572.64 481.59h0.01M573.58 475.53h0.01M574.52 477.34h0.01M575.47 467.79h0.01M576.41 438.44h0.01M577.35 483.20h0.01M578.29 462.39h0.01M579.23 463.94h0.01M580.17 473.50h0.01M581.11 472.53h0.01M582.05 450.70h0.01M583.00 433.43h0.01M583.94 461.45h0.01M584.88 445.00h0.01M585.82 447.48h0.01M586.76 461.68h0.01M587.70 469.14h0.01M588.64 465.75h0.01M589.59 450.37h0.01M590.53 478.24h0.01M591.47 460.89h0.01M592.41 475.67h0.01M593.35 439.22h0.01" stroke="#f3a440" stroke-width="1.6" stroke-linecap="round" fill="none"/>
<rect x="422.00" y="385.40" width="180.60" height="107.80" fill="none" stroke="#b0b0b0" stroke-width="1.15"/>
<text x="420.50" y="495.60" text-anchor="end" class="pt">0.0</text>
<text x="420.50" y="476.32" text-anchor="end" class="pt">0.5</text>
<text x="420.50" y="457.04" text-anchor="end" class="pt">1.0</text>
<text x="420.50" y="437.76" text-anchor="end" class="pt">1.5</text>
<text x="420.50" y="418.48" text-anchor="end" class="pt">2.0</text>
<text x="420.50" y="399.20" text-anchor="end" class="pt">2.5</text>
<text x="430.50" y="499.60" text-anchor="middle" class="pt">0</text>
<text x="477.57" y="499.60" text-anchor="middle" class="pt">50</text>
<text x="524.63" y="499.60" text-anchor="middle" class="pt">100</text>
<text x="571.70" y="499.60" text-anchor="middle" class="pt">150</text>
<path d="M422.00 493.20h-2M422.00 473.92h-2M422.00 454.64h-2M422.00 435.36h-2M422.00 416.08h-2M422.00 396.80h-2M430.50 493.20v2M477.57 493.20v2M524.63 493.20v2M571.70 493.20v2" stroke="#333" stroke-width="0.6" fill="none"/>
<text x="512.30" y="506.80" text-anchor="middle" class="pl">Sample Points</text>
<text transform="translate(405.20 439.30) rotate(-90)" text-anchor="middle" class="pl">TP (kg/ha)</text>
<text x="424.20" y="393.00" class="pn">(j)</text>
<rect x="573.70" y="386.20" width="27.60" height="10.00" rx="0.8" fill="#fff" fill-opacity="0.8" stroke="#e4e4e4" stroke-width="0.4"/>
<path d="M574.90 389.50h7.4" stroke="#f0a43a" stroke-width="0.7" stroke-dasharray="2.5 2.4 2.5"/>
<circle cx="578.60" cy="389.50" r="0.95" fill="#f0a43a" stroke="#8f7658" stroke-width="0.45"/>
<rect x="574.90" y="392.80" width="7.4" height="1.9" fill="#b9d3ec"/>
<text x="584.90" y="390.50" class="lg">Geoxgboost</text>
<text x="584.90" y="394.70" class="lg">Real</text>
</g>
<g>
<path d="M637.40 489.30V423.83M638.31 489.30V462.06M639.23 489.30V453.26M640.14 489.30V439.70M641.05 489.30V477.42M641.97 489.30V473.52M642.88 489.30V474.94M643.79 489.30V470.42M644.71 489.30V468.91M645.62 489.30V477.15M646.53 489.30V464.47M647.45 489.30V477.90M648.36 489.30V461.06M649.27 489.30V474.82M650.19 489.30V464.09M651.10 489.30V462.32M652.01 489.30V468.45M652.93 489.30V472.62M653.84 489.30V473.97M654.75 489.30V476.29M655.67 489.30V443.84M656.58 489.30V460.20M657.49 489.30V439.70M658.41 489.30V463.01M659.32 489.30V463.43M660.23 489.30V472.54M661.15 489.30V469.72M662.06 489.30V478.70M662.97 489.30V433.75M663.89 489.30V454.25M664.80 489.30V444.96M665.71 489.30V445.44M666.63 489.30V475.68M667.54 489.30V482.51M668.45 489.30V457.66M669.37 489.30V464.45M670.28 489.30V475.38M671.19 489.30V474.98M672.11 489.30V457.08M673.02 489.30V439.70M673.93 489.30V462.18M674.85 489.30V473.34M675.76 489.30V456.53M676.67 489.30V452.22M677.59 489.30V476.76M678.50 489.30V457.84M679.41 489.30V475.39M680.33 489.30V467.06M681.24 489.30V461.55M682.15 489.30V466.75M683.07 489.30V478.48M683.98 489.30V462.97M684.89 489.30V478.06M685.81 489.30V458.80M686.72 489.30V480.41M687.63 489.30V471.95M688.55 489.30V449.62M689.46 489.30V473.58M690.37 489.30V465.02M691.29 489.30V464.52M692.20 489.30V439.70M693.11 489.30V462.09M694.03 489.30V452.24M694.94 489.30V476.48M695.85 489.30V452.90M696.77 489.30V456.10M697.68 489.30V447.24M698.59 489.30V446.29M699.51 489.30V474.95M700.42 489.30V477.57M701.33 489.30V474.12M702.25 489.30V473.08M703.16 489.30V446.81M704.07 489.30V480.75M704.99 489.30V466.92M705.90 489.30V453.96M706.81 489.30V468.96M707.73 489.30V478.19M708.64 489.30V474.91M709.55 489.30V460.94M710.47 489.30V458.20M711.38 489.30V469.01M712.29 489.30V463.59M713.21 489.30V446.86M714.12 489.30V402.00M715.03 489.30V439.70M715.95 489.30V475.64M716.86 489.30V439.70M717.77 489.30V478.26M718.69 489.30V447.84M719.60 489.30V467.36M720.51 489.30V478.79M721.43 489.30V466.13M722.34 489.30V460.92M723.25 489.30V413.91M724.17 489.30V466.24M725.08 489.30V469.20M725.99 489.30V470.37M726.91 489.30V466.43M727.82 489.30V450.31M728.73 489.30V461.95M729.65 489.30V458.86M730.56 489.30V465.38M731.47 489.30V446.67M732.39 489.30V439.70M733.30 489.30V439.70M734.21 489.30V477.06M735.13 489.30V474.87M736.04 489.30V476.06M736.95 489.30V470.91M737.87 489.30V439.70M738.78 489.30V470.97M739.69 489.30V466.39M740.61 489.30V469.55M741.52 489.30V480.49M742.43 489.30V476.98M743.35 489.30V473.90M744.26 489.30V474.85M745.17 489.30V470.81M746.09 489.30V471.91M747.00 489.30V469.75M747.91 489.30V479.29M748.83 489.30V453.90M749.74 489.30V461.72M750.65 489.30V409.94M751.57 489.30V472.07M752.48 489.30V475.00M753.39 489.30V480.64M754.31 489.30V459.22M755.22 489.30V471.69M756.13 489.30V452.92M757.05 489.30V444.47M757.96 489.30V477.86M758.87 489.30V476.68M759.79 489.30V461.34M760.70 489.30V472.59M761.61 489.30V473.55M762.53 489.30V471.43M763.44 489.30V462.57M764.35 489.30V478.02M765.27 489.30V466.67M766.18 489.30V452.27M767.09 489.30V472.67M768.01 489.30V471.12M768.92 489.30V462.38M769.83 489.30V454.55M770.75 489.30V403.99M771.66 489.30V461.83M772.57 489.30V441.58M773.49 489.30V473.29M774.40 489.30V441.08M775.31 489.30V460.38M776.23 489.30V470.47M777.14 489.30V478.36M778.05 489.30V443.13M778.97 489.30V464.51M779.88 489.30V460.63M780.79 489.30V442.45M781.71 489.30V471.24M782.62 489.30V457.19M783.53 489.30V455.93M784.45 489.30V440.77M785.36 489.30V463.66M786.27 489.30V439.70M787.19 489.30V472.37M788.10 489.30V467.95M789.01 489.30V473.31M789.93 489.30V421.84M790.84 489.30V439.70M791.75 489.30V464.15M792.67 489.30V467.76M793.58 489.30V465.23M794.49 489.30V465.79M795.41 489.30V478.69" stroke="#c4daef" stroke-width="0.73" fill="none"/>
<polyline points="637.40,452.40 638.31,449.01 639.23,459.00 640.14,442.87 641.05,465.93 641.97,468.54 642.88,466.76 643.79,477.11 644.71,464.11 645.62,478.98 646.53,471.32 647.45,469.85 648.36,426.61 649.27,454.91 650.19,454.79 651.10,468.59 652.01,440.49 652.93,481.24 653.84,472.15 654.75,478.93 655.67,450.71 656.58,446.45 657.49,456.49 658.41,458.62 659.32,459.83 660.23,479.47 661.15,466.84 662.06,474.76 662.97,441.68 663.89,455.79 664.80,438.74 665.71,441.26 666.63,481.12 667.54,478.34 668.45,426.61 669.37,460.62 670.28,478.44 671.19,477.56 672.11,446.13 673.02,444.45 673.93,438.22 674.85,438.51 675.76,473.22 676.67,458.54 677.59,469.27 678.50,435.73 679.41,478.89 680.33,449.70 681.24,475.45 682.15,454.55 683.07,415.89 683.98,478.22 684.89,441.68 685.81,460.52 686.72,459.96 687.63,478.52 688.55,441.12 689.46,460.11 690.37,465.17 691.29,460.55 692.20,439.47 693.11,458.78 694.03,421.05 694.94,478.63 695.85,466.13 696.77,442.27 697.68,465.44 698.59,417.08 699.51,480.51 700.42,480.29 701.33,466.23 702.25,465.58 703.16,446.13 704.07,463.54 704.99,436.92 705.90,453.02 706.81,479.69 707.73,474.01 708.64,462.25 709.55,465.83 710.47,419.86 711.38,474.29 712.29,452.62 713.21,445.03 714.12,390.10 715.03,451.80 715.95,479.24 716.86,445.70 717.77,480.26 718.69,460.38 719.60,470.61 720.51,475.91 721.43,472.76 722.34,446.69 723.25,403.99 724.17,480.66 725.08,473.89 725.99,471.69 726.91,464.64 727.82,452.68 728.73,413.11 729.65,446.30 730.56,448.65 731.47,456.72 732.39,440.47 733.30,443.67 734.21,480.59 735.13,473.01 736.04,469.35 736.95,421.05 737.87,440.98 738.78,469.68 739.69,455.39 740.61,446.45 741.52,478.60 742.43,475.91 743.35,469.87 744.26,478.68 745.17,462.19 746.09,472.01 747.00,464.40 747.91,468.10 748.83,453.60 749.74,466.94 750.65,432.56 751.57,469.59 752.48,473.55 753.39,477.22 754.31,453.44 755.22,475.48 756.13,478.69 757.05,438.28 757.96,467.18 758.87,451.79 759.79,434.94 760.70,449.98 761.61,480.89 762.53,463.62 763.44,408.75 764.35,478.68 765.27,480.52 766.18,433.75 767.09,461.70 768.01,478.71 768.92,457.79 769.83,415.10 770.75,439.38 771.66,440.34 772.57,438.33 773.49,480.61 774.40,432.56 775.31,468.59 776.23,479.61 777.14,467.79 778.05,465.26 778.97,454.71 779.88,445.65 780.79,453.89 781.71,470.48 782.62,445.13 783.53,470.96 784.45,440.58 785.36,434.54 786.27,456.60 787.19,473.56 788.10,455.23 789.01,474.65 789.93,425.81 790.84,438.19 791.75,450.16 792.67,478.14 793.58,435.73 794.49,462.44 795.41,481.25" fill="none" stroke="#f0a43a" stroke-width="0.9" stroke-linejoin="round"/>
<path d="M637.40 452.40h0.01M638.31 449.01h0.01M639.23 459.00h0.01M640.14 442.87h0.01M641.05 465.93h0.01M641.97 468.54h0.01M642.88 466.76h0.01M643.79 477.11h0.01M644.71 464.11h0.01M645.62 478.98h0.01M646.53 471.32h0.01M647.45 469.85h0.01M648.36 426.61h0.01M649.27 454.91h0.01M650.19 454.79h0.01M651.10 468.59h0.01M652.01 440.49h0.01M652.93 481.24h0.01M653.84 472.15h0.01M654.75 478.93h0.01M655.67 450.71h0.01M656.58 446.45h0.01M657.49 456.49h0.01M658.41 458.62h0.01M659.32 459.83h0.01M660.23 479.47h0.01M661.15 466.84h0.01M662.06 474.76h0.01M662.97 441.68h0.01M663.89 455.79h0.01M664.80 438.74h0.01M665.71 441.26h0.01M666.63 481.12h0.01M667.54 478.34h0.01M668.45 426.61h0.01M669.37 460.62h0.01M670.28 478.44h0.01M671.19 477.56h0.01M672.11 446.13h0.01M673.02 444.45h0.01M673.93 438.22h0.01M674.85 438.51h0.01M675.76 473.22h0.01M676.67 458.54h0.01M677.59 469.27h0.01M678.50 435.73h0.01M679.41 478.89h0.01M680.33 449.70h0.01M681.24 475.45h0.01M682.15 454.55h0.01M683.07 415.89h0.01M683.98 478.22h0.01M684.89 441.68h0.01M685.81 460.52h0.01M686.72 459.96h0.01M687.63 478.52h0.01M688.55 441.12h0.01M689.46 460.11h0.01M690.37 465.17h0.01M691.29 460.55h0.01M692.20 439.47h0.01M693.11 458.78h0.01M694.03 421.05h0.01M694.94 478.63h0.01M695.85 466.13h0.01M696.77 442.27h0.01M697.68 465.44h0.01M698.59 417.08h0.01M699.51 480.51h0.01M700.42 480.29h0.01M701.33 466.23h0.01M702.25 465.58h0.01M703.16 446.13h0.01M704.07 463.54h0.01M704.99 436.92h0.01M705.90 453.02h0.01M706.81 479.69h0.01M707.73 474.01h0.01M708.64 462.25h0.01M709.55 465.83h0.01M710.47 419.86h0.01M711.38 474.29h0.01M712.29 452.62h0.01M713.21 445.03h0.01M714.12 390.10h0.01M715.03 451.80h0.01M715.95 479.24h0.01M716.86 445.70h0.01M717.77 480.26h0.01M718.69 460.38h0.01M719.60 470.61h0.01M720.51 475.91h0.01M721.43 472.76h0.01M722.34 446.69h0.01M723.25 403.99h0.01M724.17 480.66h0.01M725.08 473.89h0.01M725.99 471.69h0.01M726.91 464.64h0.01M727.82 452.68h0.01M728.73 413.11h0.01M729.65 446.30h0.01M730.56 448.65h0.01M731.47 456.72h0.01M732.39 440.47h0.01M733.30 443.67h0.01M734.21 480.59h0.01M735.13 473.01h0.01M736.04 469.35h0.01M736.95 421.05h0.01M737.87 440.98h0.01M738.78 469.68h0.01M739.69 455.39h0.01M740.61 446.45h0.01M741.52 478.60h0.01M742.43 475.91h0.01M743.35 469.87h0.01M744.26 478.68h0.01M745.17 462.19h0.01M746.09 472.01h0.01M747.00 464.40h0.01M747.91 468.10h0.01M748.83 453.60h0.01M749.74 466.94h0.01M750.65 432.56h0.01M751.57 469.59h0.01M752.48 473.55h0.01M753.39 477.22h0.01M754.31 453.44h0.01M755.22 475.48h0.01M756.13 478.69h0.01M757.05 438.28h0.01M757.96 467.18h0.01M758.87 451.79h0.01M759.79 434.94h0.01M760.70 449.98h0.01M761.61 480.89h0.01M762.53 463.62h0.01M763.44 408.75h0.01M764.35 478.68h0.01M765.27 480.52h0.01M766.18 433.75h0.01M767.09 461.70h0.01M768.01 478.71h0.01M768.92 457.79h0.01M769.83 415.10h0.01M770.75 439.38h0.01M771.66 440.34h0.01M772.57 438.33h0.01M773.49 480.61h0.01M774.40 432.56h0.01M775.31 468.59h0.01M776.23 479.61h0.01M777.14 467.79h0.01M778.05 465.26h0.01M778.97 454.71h0.01M779.88 445.65h0.01M780.79 453.89h0.01M781.71 470.48h0.01M782.62 445.13h0.01M783.53 470.96h0.01M784.45 440.58h0.01M785.36 434.54h0.01M786.27 456.60h0.01M787.19 473.56h0.01M788.10 455.23h0.01M789.01 474.65h0.01M789.93 425.81h0.01M790.84 438.19h0.01M791.75 450.16h0.01M792.67 478.14h0.01M793.58 435.73h0.01M794.49 462.44h0.01M795.41 481.25h0.01" stroke="#8f7658" stroke-width="2.7" stroke-linecap="round" fill="none"/>
<path d="M637.40 452.40h0.01M638.31 449.01h0.01M639.23 459.00h0.01M640.14 442.87h0.01M641.05 465.93h0.01M641.97 468.54h0.01M642.88 466.76h0.01M643.79 477.11h0.01M644.71 464.11h0.01M645.62 478.98h0.01M646.53 471.32h0.01M647.45 469.85h0.01M648.36 426.61h0.01M649.27 454.91h0.01M650.19 454.79h0.01M651.10 468.59h0.01M652.01 440.49h0.01M652.93 481.24h0.01M653.84 472.15h0.01M654.75 478.93h0.01M655.67 450.71h0.01M656.58 446.45h0.01M657.49 456.49h0.01M658.41 458.62h0.01M659.32 459.83h0.01M660.23 479.47h0.01M661.15 466.84h0.01M662.06 474.76h0.01M662.97 441.68h0.01M663.89 455.79h0.01M664.80 438.74h0.01M665.71 441.26h0.01M666.63 481.12h0.01M667.54 478.34h0.01M668.45 426.61h0.01M669.37 460.62h0.01M670.28 478.44h0.01M671.19 477.56h0.01M672.11 446.13h0.01M673.02 444.45h0.01M673.93 438.22h0.01M674.85 438.51h0.01M675.76 473.22h0.01M676.67 458.54h0.01M677.59 469.27h0.01M678.50 435.73h0.01M679.41 478.89h0.01M680.33 449.70h0.01M681.24 475.45h0.01M682.15 454.55h0.01M683.07 415.89h0.01M683.98 478.22h0.01M684.89 441.68h0.01M685.81 460.52h0.01M686.72 459.96h0.01M687.63 478.52h0.01M688.55 441.12h0.01M689.46 460.11h0.01M690.37 465.17h0.01M691.29 460.55h0.01M692.20 439.47h0.01M693.11 458.78h0.01M694.03 421.05h0.01M694.94 478.63h0.01M695.85 466.13h0.01M696.77 442.27h0.01M697.68 465.44h0.01M698.59 417.08h0.01M699.51 480.51h0.01M700.42 480.29h0.01M701.33 466.23h0.01M702.25 465.58h0.01M703.16 446.13h0.01M704.07 463.54h0.01M704.99 436.92h0.01M705.90 453.02h0.01M706.81 479.69h0.01M707.73 474.01h0.01M708.64 462.25h0.01M709.55 465.83h0.01M710.47 419.86h0.01M711.38 474.29h0.01M712.29 452.62h0.01M713.21 445.03h0.01M714.12 390.10h0.01M715.03 451.80h0.01M715.95 479.24h0.01M716.86 445.70h0.01M717.77 480.26h0.01M718.69 460.38h0.01M719.60 470.61h0.01M720.51 475.91h0.01M721.43 472.76h0.01M722.34 446.69h0.01M723.25 403.99h0.01M724.17 480.66h0.01M725.08 473.89h0.01M725.99 471.69h0.01M726.91 464.64h0.01M727.82 452.68h0.01M728.73 413.11h0.01M729.65 446.30h0.01M730.56 448.65h0.01M731.47 456.72h0.01M732.39 440.47h0.01M733.30 443.67h0.01M734.21 480.59h0.01M735.13 473.01h0.01M736.04 469.35h0.01M736.95 421.05h0.01M737.87 440.98h0.01M738.78 469.68h0.01M739.69 455.39h0.01M740.61 446.45h0.01M741.52 478.60h0.01M742.43 475.91h0.01M743.35 469.87h0.01M744.26 478.68h0.01M745.17 462.19h0.01M746.09 472.01h0.01M747.00 464.40h0.01M747.91 468.10h0.01M748.83 453.60h0.01M749.74 466.94h0.01M750.65 432.56h0.01M751.57 469.59h0.01M752.48 473.55h0.01M753.39 477.22h0.01M754.31 453.44h0.01M755.22 475.48h0.01M756.13 478.69h0.01M757.05 438.28h0.01M757.96 467.18h0.01M758.87 451.79h0.01M759.79 434.94h0.01M760.70 449.98h0.01M761.61 480.89h0.01M762.53 463.62h0.01M763.44 408.75h0.01M764.35 478.68h0.01M765.27 480.52h0.01M766.18 433.75h0.01M767.09 461.70h0.01M768.01 478.71h0.01M768.92 457.79h0.01M769.83 415.10h0.01M770.75 439.38h0.01M771.66 440.34h0.01M772.57 438.33h0.01M773.49 480.61h0.01M774.40 432.56h0.01M775.31 468.59h0.01M776.23 479.61h0.01M777.14 467.79h0.01M778.05 465.26h0.01M778.97 454.71h0.01M779.88 445.65h0.01M780.79 453.89h0.01M781.71 470.48h0.01M782.62 445.13h0.01M783.53 470.96h0.01M784.45 440.58h0.01M785.36 434.54h0.01M786.27 456.60h0.01M787.19 473.56h0.01M788.10 455.23h0.01M789.01 474.65h0.01M789.93 425.81h0.01M790.84 438.19h0.01M791.75 450.16h0.01M792.67 478.14h0.01M793.58 435.73h0.01M794.49 462.44h0.01M795.41 481.25h0.01" stroke="#f3a440" stroke-width="1.6" stroke-linecap="round" fill="none"/>
<rect x="629.40" y="384.30" width="175.10" height="105.00" fill="none" stroke="#b0b0b0" stroke-width="1.15"/>
<text x="627.90" y="491.70" text-anchor="end" class="pt">0.0</text>
<text x="627.90" y="471.86" text-anchor="end" class="pt">0.5</text>
<text x="627.90" y="452.02" text-anchor="end" class="pt">1.0</text>
<text x="627.90" y="432.18" text-anchor="end" class="pt">1.5</text>
<text x="627.90" y="412.34" text-anchor="end" class="pt">2.0</text>
<text x="627.90" y="392.50" text-anchor="end" class="pt">2.5</text>
<text x="637.40" y="495.70" text-anchor="middle" class="pt">0</text>
<text x="683.07" y="495.70" text-anchor="middle" class="pt">50</text>
<text x="728.73" y="495.70" text-anchor="middle" class="pt">100</text>
<text x="774.40" y="495.70" text-anchor="middle" class="pt">150</text>
<path d="M629.40 489.30h-2M629.40 469.46h-2M629.40 449.62h-2M629.40 429.78h-2M629.40 409.94h-2M629.40 390.10h-2M637.40 489.30v2M683.07 489.30v2M728.73 489.30v2M774.40 489.30v2" stroke="#333" stroke-width="0.6" fill="none"/>
<text x="716.95" y="502.90" text-anchor="middle" class="pl">Sample Points</text>
<text transform="translate(612.60 436.80) rotate(-90)" text-anchor="middle" class="pl">TP (kg/ha)</text>
<text x="631.60" y="391.90" class="pn">(k)</text>
<rect x="778.70" y="385.10" width="24.50" height="10.00" rx="0.8" fill="#fff" fill-opacity="0.8" stroke="#e4e4e4" stroke-width="0.4"/>
<path d="M779.90 388.40h7.4" stroke="#f0a43a" stroke-width="0.7" stroke-dasharray="2.5 2.4 2.5"/>
<circle cx="783.60" cy="388.40" r="0.95" fill="#f0a43a" stroke="#8f7658" stroke-width="0.45"/>
<rect x="779.90" y="391.70" width="7.4" height="1.9" fill="#b9d3ec"/>
<text x="789.90" y="389.40" class="lg">GNNWR</text>
<text x="789.90" y="393.60" class="lg">Real</text>
</g>
<g>
<path d="M846.30 489.30V456.23M847.25 489.30V449.48M848.20 489.30V466.33M849.15 489.30V464.31M850.10 489.30V477.75M851.05 489.30V480.96M852.00 489.30V479.14M852.95 489.30V412.72M853.89 489.30V462.20M854.84 489.30V471.45M855.79 489.30V480.16M856.74 489.30V457.59M857.69 489.30V481.12M858.64 489.30V475.77M859.59 489.30V476.26M860.54 489.30V470.44M861.49 489.30V424.97M862.44 489.30V480.69M863.39 489.30V474.70M864.34 489.30V469.88M865.29 489.30V479.33M866.24 489.30V473.13M867.19 489.30V470.96M868.13 489.30V480.06M869.08 489.30V479.94M870.03 489.30V472.86M870.98 489.30V474.09M871.93 489.30V470.69M872.88 489.30V449.48M873.83 489.30V464.10M874.78 489.30V434.16M875.73 489.30V477.06M876.68 489.30V463.69M877.63 489.30V477.45M878.58 489.30V455.16M879.53 489.30V460.56M880.48 489.30V482.46M881.43 489.30V479.37M882.37 489.30V473.84M883.32 489.30V475.24M884.27 489.30V421.91M885.22 489.30V479.59M886.17 489.30V465.98M887.12 489.30V476.04M888.07 489.30V480.83M889.02 489.30V474.45M889.97 489.30V463.24M890.92 489.30V453.37M891.87 489.30V471.98M892.82 489.30V474.68M893.77 489.30V477.57M894.72 489.30V475.97M895.67 489.30V467.88M896.61 489.30V459.68M897.56 489.30V459.82M898.51 489.30V417.31M899.46 489.30V464.21M900.41 489.30V465.54M901.36 489.30V468.64M902.31 489.30V483.71M903.26 489.30V472.92M904.21 489.30V474.47M905.16 489.30V458.68M906.11 489.30V434.16M907.06 489.30V468.66M908.01 489.30V470.35M908.96 489.30V459.51M909.91 489.30V465.56M910.85 489.30V462.53M911.80 489.30V456.28M912.75 489.30V463.36M913.70 489.30V465.34M914.65 489.30V474.32M915.60 489.30V471.70M916.55 489.30V449.48M917.50 489.30V472.19M918.45 489.30V468.11M919.40 489.30V473.01M920.35 489.30V474.52M921.30 489.30V484.92M922.25 489.30V452.90M923.20 489.30V479.40M924.15 489.30V477.71M925.09 489.30V458.31M926.04 489.30V483.46M926.99 489.30V472.24M927.94 489.30V476.21M928.89 489.30V481.95M929.84 489.30V467.07M930.79 489.30V477.39M931.74 489.30V473.22M932.69 489.30V475.41M933.64 489.30V466.83M934.59 489.30V449.48M935.54 489.30V479.72M936.49 489.30V464.52M937.44 489.30V476.95M938.39 489.30V474.94M939.33 489.30V482.10M940.28 489.30V479.21M941.23 489.30V475.42M942.18 489.30V464.97M943.13 489.30V470.48M944.08 489.30V467.47M945.03 489.30V465.89M945.98 489.30V480.26M946.93 489.30V456.91M947.88 489.30V474.74M948.83 489.30V466.37M949.78 489.30V473.77M950.73 489.30V418.84M951.68 489.30V466.77M952.63 489.30V483.18M953.57 489.30V449.48M954.52 489.30V471.08M955.47 489.30V461.74M956.42 489.30V470.72M957.37 489.30V471.77M958.32 489.30V480.00M959.27 489.30V389.74M960.22 489.30V483.08M961.17 489.30V473.56M962.12 489.30V455.03M963.07 489.30V482.08M964.02 489.30V431.10M964.97 489.30V475.05M965.92 489.30V460.85M966.87 489.30V459.88M967.81 489.30V471.97M968.76 489.30V471.74M969.71 489.30V473.63M970.66 489.30V475.78M971.61 489.30V475.73M972.56 489.30V475.64M973.51 489.30V473.58M974.46 489.30V432.63M975.41 489.30V476.64M976.36 489.30V466.97M977.31 489.30V472.73M978.26 489.30V467.87M979.21 489.30V480.19M980.16 489.30V477.02M981.11 489.30V471.73M982.05 489.30V470.15M983.00 489.30V473.74M983.95 489.30V455.61M984.90 489.30V473.97M985.85 489.30V432.63M986.80 489.30V457.73M987.75 489.30V466.26M988.70 489.30V468.71M989.65 489.30V467.68M990.60 489.30V473.52M991.55 489.30V479.15M992.50 489.30V475.98M993.45 489.30V476.63M994.40 489.30V475.31M995.35 489.30V477.19M996.29 489.30V478.92M997.24 489.30V471.44M998.19 489.30V457.34M999.14 489.30V477.94M1000.09 489.30V481.95M1001.04 489.30V476.32M1001.99 489.30V479.64M1002.94 489.30V478.67M1003.89 489.30V479.91M1004.84 489.30V473.54M1005.79 489.30V467.99" stroke="#c4daef" stroke-width="0.76" fill="none"/>
<polyline points="846.30,470.76 847.25,449.56 848.20,476.73 849.15,474.26 850.10,444.88 851.05,486.79 852.00,472.32 852.95,438.75 853.89,448.56 854.84,474.36 855.79,487.17 856.74,456.77 857.69,477.87 858.64,462.47 859.59,470.33 860.54,472.59 861.49,448.56 862.44,484.69 863.39,478.34 864.34,456.86 865.29,444.88 866.24,477.10 867.19,458.07 868.13,468.55 869.08,485.26 870.03,458.10 870.98,481.98 871.93,463.89 872.88,448.56 873.83,469.81 874.78,446.31 875.73,458.93 876.68,440.29 877.63,482.11 878.58,464.21 879.53,430.18 880.48,481.61 881.43,448.56 882.37,474.66 883.32,485.62 884.27,445.14 885.22,476.75 886.17,458.96 887.12,485.28 888.07,474.92 889.02,465.64 889.97,467.89 890.92,458.05 891.87,424.97 892.82,467.42 893.77,485.15 894.72,483.42 895.67,471.84 896.61,461.56 897.56,471.01 898.51,443.35 899.46,464.92 900.41,455.55 901.36,463.81 902.31,486.52 903.26,485.12 904.21,465.49 905.16,446.41 906.11,443.75 907.06,463.22 908.01,483.61 908.96,460.62 909.91,457.13 910.85,465.97 911.80,471.24 912.75,488.69 913.70,465.46 914.65,483.27 915.60,463.85 916.55,447.64 917.50,422.83 918.45,477.00 919.40,470.70 920.35,465.72 921.30,441.82 922.25,452.02 923.20,469.66 924.15,478.05 925.09,481.73 926.04,487.77 926.99,470.18 927.94,482.44 928.89,435.69 929.84,473.22 930.79,485.40 931.74,432.63 932.69,462.44 933.64,483.63 934.59,447.33 935.54,488.38 936.49,455.35 937.44,485.60 938.39,458.77 939.33,487.70 940.28,484.89 941.23,484.37 942.18,460.59 943.13,470.20 944.08,477.25 945.03,454.07 945.98,466.34 946.93,467.72 947.88,476.21 948.83,473.81 949.78,474.66 950.73,446.99 951.68,466.33 952.63,449.48 953.57,459.11 954.52,470.03 955.47,453.56 956.42,465.36 957.37,481.16 958.32,472.66 959.27,433.55 960.22,478.42 961.17,471.51 962.12,476.64 963.07,487.22 964.02,448.56 964.97,470.57 965.92,445.49 966.87,462.59 967.81,480.59 968.76,486.46 969.71,464.60 970.66,444.88 971.61,464.07 972.56,470.06 973.51,461.55 974.46,454.07 975.41,477.73 976.36,474.45 977.31,470.41 978.26,454.32 979.21,475.67 980.16,477.05 981.11,449.44 982.05,452.89 983.00,468.42 983.95,455.12 984.90,481.31 985.85,446.41 986.80,468.46 987.75,464.98 988.70,472.74 989.65,466.46 990.60,453.15 991.55,466.62 992.50,486.41 993.45,471.05 994.40,469.17 995.35,473.52 996.29,444.88 997.24,473.27 998.19,424.05 999.14,479.42 1000.09,454.49 1001.04,462.05 1001.99,481.58 1002.94,483.49 1003.89,482.39 1004.84,488.38 1005.79,484.60" fill="none" stroke="#f0a43a" stroke-width="0.9" stroke-linejoin="round"/>
<path d="M846.30 470.76h0.01M847.25 449.56h0.01M848.20 476.73h0.01M849.15 474.26h0.01M850.10 444.88h0.01M851.05 486.79h0.01M852.00 472.32h0.01M852.95 438.75h0.01M853.89 448.56h0.01M854.84 474.36h0.01M855.79 487.17h0.01M856.74 456.77h0.01M857.69 477.87h0.01M858.64 462.47h0.01M859.59 470.33h0.01M860.54 472.59h0.01M861.49 448.56h0.01M862.44 484.69h0.01M863.39 478.34h0.01M864.34 456.86h0.01M865.29 444.88h0.01M866.24 477.10h0.01M867.19 458.07h0.01M868.13 468.55h0.01M869.08 485.26h0.01M870.03 458.10h0.01M870.98 481.98h0.01M871.93 463.89h0.01M872.88 448.56h0.01M873.83 469.81h0.01M874.78 446.31h0.01M875.73 458.93h0.01M876.68 440.29h0.01M877.63 482.11h0.01M878.58 464.21h0.01M879.53 430.18h0.01M880.48 481.61h0.01M881.43 448.56h0.01M882.37 474.66h0.01M883.32 485.62h0.01M884.27 445.14h0.01M885.22 476.75h0.01M886.17 458.96h0.01M887.12 485.28h0.01M888.07 474.92h0.01M889.02 465.64h0.01M889.97 467.89h0.01M890.92 458.05h0.01M891.87 424.97h0.01M892.82 467.42h0.01M893.77 485.15h0.01M894.72 483.42h0.01M895.67 471.84h0.01M896.61 461.56h0.01M897.56 471.01h0.01M898.51 443.35h0.01M899.46 464.92h0.01M900.41 455.55h0.01M901.36 463.81h0.01M902.31 486.52h0.01M903.26 485.12h0.01M904.21 465.49h0.01M905.16 446.41h0.01M906.11 443.75h0.01M907.06 463.22h0.01M908.01 483.61h0.01M908.96 460.62h0.01M909.91 457.13h0.01M910.85 465.97h0.01M911.80 471.24h0.01M912.75 488.69h0.01M913.70 465.46h0.01M914.65 483.27h0.01M915.60 463.85h0.01M916.55 447.64h0.01M917.50 422.83h0.01M918.45 477.00h0.01M919.40 470.70h0.01M920.35 465.72h0.01M921.30 441.82h0.01M922.25 452.02h0.01M923.20 469.66h0.01M924.15 478.05h0.01M925.09 481.73h0.01M926.04 487.77h0.01M926.99 470.18h0.01M927.94 482.44h0.01M928.89 435.69h0.01M929.84 473.22h0.01M930.79 485.40h0.01M931.74 432.63h0.01M932.69 462.44h0.01M933.64 483.63h0.01M934.59 447.33h0.01M935.54 488.38h0.01M936.49 455.35h0.01M937.44 485.60h0.01M938.39 458.77h0.01M939.33 487.70h0.01M940.28 484.89h0.01M941.23 484.37h0.01M942.18 460.59h0.01M943.13 470.20h0.01M944.08 477.25h0.01M945.03 454.07h0.01M945.98 466.34h0.01M946.93 467.72h0.01M947.88 476.21h0.01M948.83 473.81h0.01M949.78 474.66h0.01M950.73 446.99h0.01M951.68 466.33h0.01M952.63 449.48h0.01M953.57 459.11h0.01M954.52 470.03h0.01M955.47 453.56h0.01M956.42 465.36h0.01M957.37 481.16h0.01M958.32 472.66h0.01M959.27 433.55h0.01M960.22 478.42h0.01M961.17 471.51h0.01M962.12 476.64h0.01M963.07 487.22h0.01M964.02 448.56h0.01M964.97 470.57h0.01M965.92 445.49h0.01M966.87 462.59h0.01M967.81 480.59h0.01M968.76 486.46h0.01M969.71 464.60h0.01M970.66 444.88h0.01M971.61 464.07h0.01M972.56 470.06h0.01M973.51 461.55h0.01M974.46 454.07h0.01M975.41 477.73h0.01M976.36 474.45h0.01M977.31 470.41h0.01M978.26 454.32h0.01M979.21 475.67h0.01M980.16 477.05h0.01M981.11 449.44h0.01M982.05 452.89h0.01M983.00 468.42h0.01M983.95 455.12h0.01M984.90 481.31h0.01M985.85 446.41h0.01M986.80 468.46h0.01M987.75 464.98h0.01M988.70 472.74h0.01M989.65 466.46h0.01M990.60 453.15h0.01M991.55 466.62h0.01M992.50 486.41h0.01M993.45 471.05h0.01M994.40 469.17h0.01M995.35 473.52h0.01M996.29 444.88h0.01M997.24 473.27h0.01M998.19 424.05h0.01M999.14 479.42h0.01M1000.09 454.49h0.01M1001.04 462.05h0.01M1001.99 481.58h0.01M1002.94 483.49h0.01M1003.89 482.39h0.01M1004.84 488.38h0.01M1005.79 484.60h0.01" stroke="#8f7658" stroke-width="2.7" stroke-linecap="round" fill="none"/>
<path d="M846.30 470.76h0.01M847.25 449.56h0.01M848.20 476.73h0.01M849.15 474.26h0.01M850.10 444.88h0.01M851.05 486.79h0.01M852.00 472.32h0.01M852.95 438.75h0.01M853.89 448.56h0.01M854.84 474.36h0.01M855.79 487.17h0.01M856.74 456.77h0.01M857.69 477.87h0.01M858.64 462.47h0.01M859.59 470.33h0.01M860.54 472.59h0.01M861.49 448.56h0.01M862.44 484.69h0.01M863.39 478.34h0.01M864.34 456.86h0.01M865.29 444.88h0.01M866.24 477.10h0.01M867.19 458.07h0.01M868.13 468.55h0.01M869.08 485.26h0.01M870.03 458.10h0.01M870.98 481.98h0.01M871.93 463.89h0.01M872.88 448.56h0.01M873.83 469.81h0.01M874.78 446.31h0.01M875.73 458.93h0.01M876.68 440.29h0.01M877.63 482.11h0.01M878.58 464.21h0.01M879.53 430.18h0.01M880.48 481.61h0.01M881.43 448.56h0.01M882.37 474.66h0.01M883.32 485.62h0.01M884.27 445.14h0.01M885.22 476.75h0.01M886.17 458.96h0.01M887.12 485.28h0.01M888.07 474.92h0.01M889.02 465.64h0.01M889.97 467.89h0.01M890.92 458.05h0.01M891.87 424.97h0.01M892.82 467.42h0.01M893.77 485.15h0.01M894.72 483.42h0.01M895.67 471.84h0.01M896.61 461.56h0.01M897.56 471.01h0.01M898.51 443.35h0.01M899.46 464.92h0.01M900.41 455.55h0.01M901.36 463.81h0.01M902.31 486.52h0.01M903.26 485.12h0.01M904.21 465.49h0.01M905.16 446.41h0.01M906.11 443.75h0.01M907.06 463.22h0.01M908.01 483.61h0.01M908.96 460.62h0.01M909.91 457.13h0.01M910.85 465.97h0.01M911.80 471.24h0.01M912.75 488.69h0.01M913.70 465.46h0.01M914.65 483.27h0.01M915.60 463.85h0.01M916.55 447.64h0.01M917.50 422.83h0.01M918.45 477.00h0.01M919.40 470.70h0.01M920.35 465.72h0.01M921.30 441.82h0.01M922.25 452.02h0.01M923.20 469.66h0.01M924.15 478.05h0.01M925.09 481.73h0.01M926.04 487.77h0.01M926.99 470.18h0.01M927.94 482.44h0.01M928.89 435.69h0.01M929.84 473.22h0.01M930.79 485.40h0.01M931.74 432.63h0.01M932.69 462.44h0.01M933.64 483.63h0.01M934.59 447.33h0.01M935.54 488.38h0.01M936.49 455.35h0.01M937.44 485.60h0.01M938.39 458.77h0.01M939.33 487.70h0.01M940.28 484.89h0.01M941.23 484.37h0.01M942.18 460.59h0.01M943.13 470.20h0.01M944.08 477.25h0.01M945.03 454.07h0.01M945.98 466.34h0.01M946.93 467.72h0.01M947.88 476.21h0.01M948.83 473.81h0.01M949.78 474.66h0.01M950.73 446.99h0.01M951.68 466.33h0.01M952.63 449.48h0.01M953.57 459.11h0.01M954.52 470.03h0.01M955.47 453.56h0.01M956.42 465.36h0.01M957.37 481.16h0.01M958.32 472.66h0.01M959.27 433.55h0.01M960.22 478.42h0.01M961.17 471.51h0.01M962.12 476.64h0.01M963.07 487.22h0.01M964.02 448.56h0.01M964.97 470.57h0.01M965.92 445.49h0.01M966.87 462.59h0.01M967.81 480.59h0.01M968.76 486.46h0.01M969.71 464.60h0.01M970.66 444.88h0.01M971.61 464.07h0.01M972.56 470.06h0.01M973.51 461.55h0.01M974.46 454.07h0.01M975.41 477.73h0.01M976.36 474.45h0.01M977.31 470.41h0.01M978.26 454.32h0.01M979.21 475.67h0.01M980.16 477.05h0.01M981.11 449.44h0.01M982.05 452.89h0.01M983.00 468.42h0.01M983.95 455.12h0.01M984.90 481.31h0.01M985.85 446.41h0.01M986.80 468.46h0.01M987.75 464.98h0.01M988.70 472.74h0.01M989.65 466.46h0.01M990.60 453.15h0.01M991.55 466.62h0.01M992.50 486.41h0.01M993.45 471.05h0.01M994.40 469.17h0.01M995.35 473.52h0.01M996.29 444.88h0.01M997.24 473.27h0.01M998.19 424.05h0.01M999.14 479.42h0.01M1000.09 454.49h0.01M1001.04 462.05h0.01M1001.99 481.58h0.01M1002.94 483.49h0.01M1003.89 482.39h0.01M1004.84 488.38h0.01M1005.79 484.60h0.01" stroke="#f3a440" stroke-width="1.6" stroke-linecap="round" fill="none"/>
<rect x="838.40" y="384.50" width="175.20" height="104.80" fill="none" stroke="#b0b0b0" stroke-width="1.15"/>
<text x="836.90" y="491.70" text-anchor="end" class="pt">0.0</text>
<text x="836.90" y="461.07" text-anchor="end" class="pt">1.0</text>
<text x="836.90" y="430.43" text-anchor="end" class="pt">2.0</text>
<text x="836.90" y="399.80" text-anchor="end" class="pt">3.0</text>
<text x="846.30" y="495.70" text-anchor="middle" class="pt">0</text>
<text x="893.77" y="495.70" text-anchor="middle" class="pt">50</text>
<text x="941.23" y="495.70" text-anchor="middle" class="pt">100</text>
<text x="988.70" y="495.70" text-anchor="middle" class="pt">150</text>
<path d="M838.40 489.30h-2M838.40 458.67h-2M838.40 428.03h-2M838.40 397.40h-2M846.30 489.30v2M893.77 489.30v2M941.23 489.30v2M988.70 489.30v2" stroke="#333" stroke-width="0.6" fill="none"/>
<text x="926.00" y="502.90" text-anchor="middle" class="pl">Sample Points</text>
<text transform="translate(821.60 436.90) rotate(-90)" text-anchor="middle" class="pl">TP (kg/ha)</text>
<text x="840.60" y="392.10" class="pn">(l)</text>
<rect x="985.80" y="385.30" width="26.50" height="10.00" rx="0.8" fill="#fff" fill-opacity="0.8" stroke="#e4e4e4" stroke-width="0.4"/>
<path d="M987.00 388.60h7.4" stroke="#f0a43a" stroke-width="0.7" stroke-dasharray="2.5 2.4 2.5"/>
<circle cx="990.70" cy="388.60" r="0.95" fill="#f0a43a" stroke="#8f7658" stroke-width="0.45"/>
<rect x="987.00" y="391.90" width="7.4" height="1.9" fill="#b9d3ec"/>
<text x="997.00" y="389.60" class="lg">GTNNWR</text>
<text x="997.00" y="393.80" class="lg">Real</text>
</g>
</svg></body></html>
